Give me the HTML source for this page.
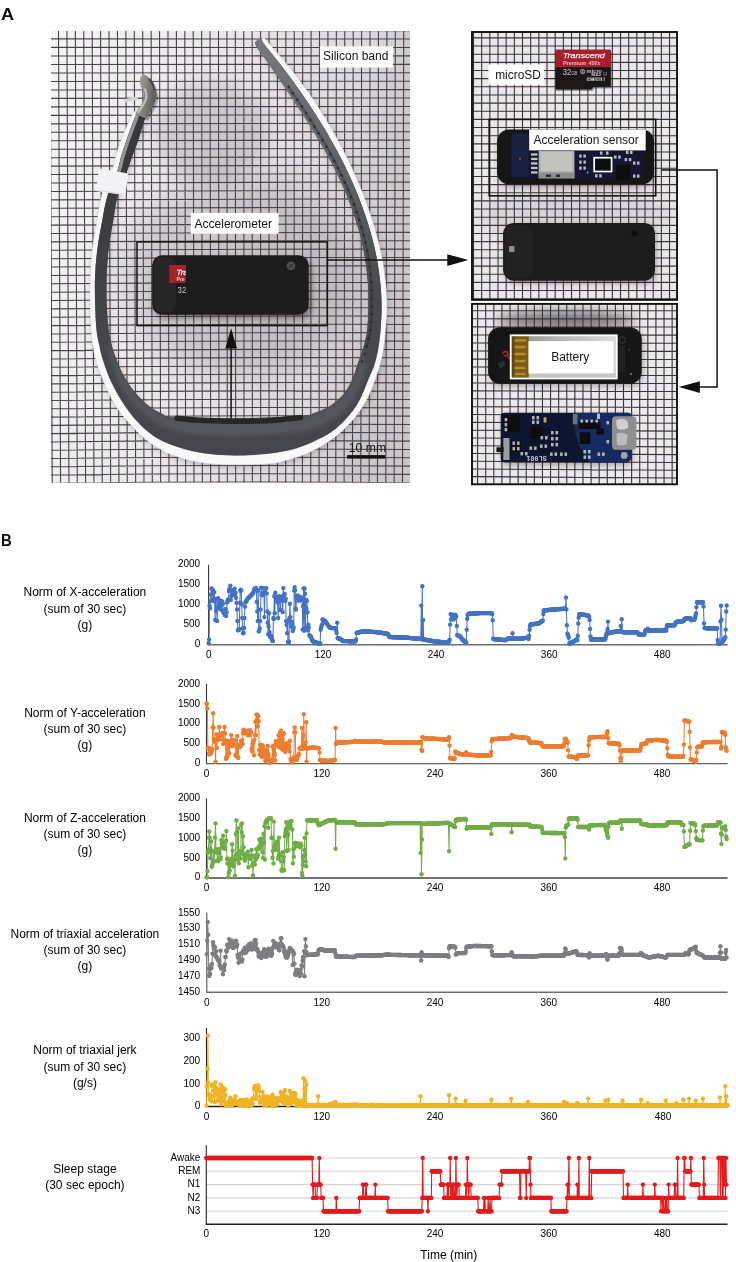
<!DOCTYPE html>
<html><head><meta charset="utf-8"><title>Figure</title>
<style>
html,body{margin:0;padding:0;background:#fff;}
body{width:736px;height:1262px;overflow:hidden;font-family:"Liberation Sans",sans-serif;}
svg{display:block;font-family:"Liberation Sans",sans-serif;}
</style></head><body>
<svg width="736" height="1262" viewBox="0 0 736 1262">
<rect width="736" height="1262" fill="#fff"/>
<text x="0.9" y="19.8" font-size="16.4" font-weight="bold" fill="#111" textLength="13.1" lengthAdjust="spacingAndGlyphs">A</text>
<text x="1.0" y="545.9" font-size="16.2" font-weight="bold" fill="#111" textLength="10.8" lengthAdjust="spacingAndGlyphs">B</text>
<defs><filter id="blur3" x="-20%" y="-20%" width="140%" height="140%"><feGaussianBlur stdDeviation="3.2"/></filter><filter id="blur1"><feGaussianBlur stdDeviation="0.7"/></filter><filter id="blur14" x="-40%" y="-40%" width="180%" height="180%"><feGaussianBlur stdDeviation="16"/></filter><filter id="soft" x="-2%" y="-2%" width="104%" height="104%"><feGaussianBlur stdDeviation="0.45"/></filter><filter id="blur2" x="-10%" y="-10%" width="120%" height="120%"><feGaussianBlur stdDeviation="2.2"/></filter><filter id="blur6" x="-30%" y="-100%" width="160%" height="300%"><feGaussianBlur stdDeviation="6"/></filter><filter id="blur8" x="-30%" y="-30%" width="160%" height="160%"><feGaussianBlur stdDeviation="9"/></filter><linearGradient id="bandg" x1="0" y1="0" x2="0" y2="1"><stop offset="0" stop-color="#62626b"/><stop offset="0.55" stop-color="#4d4d56"/><stop offset="1" stop-color="#3e3e46"/></linearGradient><linearGradient id="rstrap" gradientUnits="userSpaceOnUse" x1="0" y1="40" x2="0" y2="370"><stop offset="0" stop-color="#76767e"/><stop offset="0.33" stop-color="#65656d"/><stop offset="0.58" stop-color="#55555d"/><stop offset="0.8" stop-color="#47474f"/><stop offset="1" stop-color="#47474f" stop-opacity="0"/></linearGradient><linearGradient id="lstrap" gradientUnits="userSpaceOnUse" x1="0" y1="110" x2="0" y2="340"><stop offset="0" stop-color="#35353a"/><stop offset="0.6" stop-color="#3f3f46"/><stop offset="1" stop-color="#3f3f46" stop-opacity="0"/></linearGradient><linearGradient id="metal" x1="0" y1="0" x2="1" y2="0.35"><stop offset="0" stop-color="#b4b2ae"/><stop offset="0.45" stop-color="#8f8d8a"/><stop offset="1" stop-color="#5c5a58"/></linearGradient><linearGradient id="batTop" x1="0" y1="0" x2="1" y2="0"><stop offset="0" stop-color="#8e8e8c"/><stop offset="0.5" stop-color="#b9b9b8"/><stop offset="1" stop-color="#dcdcdc"/></linearGradient><linearGradient id="bgL" x1="0" y1="0" x2="1" y2="0.2"><stop offset="0" stop-color="#f5f3f7"/><stop offset="0.5" stop-color="#e9e6ea"/><stop offset="0.85" stop-color="#dcd8dc"/><stop offset="1" stop-color="#cbc7cb"/></linearGradient><clipPath id="cl"><rect x="51" y="31" width="359" height="451.7"/></clipPath><clipPath id="cr1"><rect x="472" y="32" width="205" height="268"/></clipPath><clipPath id="cr2"><rect x="472" y="304" width="205" height="180.5"/></clipPath></defs>
<g clip-path="url(#cl)"><g filter="url(#soft)">
<rect x="51" y="31" width="359" height="452" fill="url(#bgL)"/>
<ellipse cx="210" cy="132" rx="56" ry="50" fill="#000" opacity="0.12" filter="url(#blur8)"/>
<ellipse cx="238" cy="275" rx="118" ry="100" fill="#000" opacity="0.13" filter="url(#blur14)"/>
<path d="M50.08,31.0L52.25,482.7M58.50,31.0L60.59,482.7M66.92,31.0L68.93,482.7M75.34,31.0L77.27,482.7M83.76,31.0L85.61,482.7M92.18,31.0L93.94,482.7M100.60,31.0L102.28,482.7M109.02,31.0L110.62,482.7M117.44,31.0L118.96,482.7M125.86,31.0L127.30,482.7M134.28,31.0L135.64,482.7M142.70,31.0L143.98,482.7M151.12,31.0L152.32,482.7M159.54,31.0L160.66,482.7M167.96,31.0L169.00,482.7M176.38,31.0L177.34,482.7M184.80,31.0L185.67,482.7M193.22,31.0L194.01,482.7M201.64,31.0L202.35,482.7M210.06,31.0L210.69,482.7M218.48,31.0L219.03,482.7M226.90,31.0L227.37,482.7M235.32,31.0L235.71,482.7M243.74,31.0L244.05,482.7M252.16,31.0L252.39,482.7M260.58,31.0L260.73,482.7M269.00,31.0L269.06,482.7M277.42,31.0L277.40,482.7M285.84,31.0L285.74,482.7M294.26,31.0L294.08,482.7M302.68,31.0L302.42,482.7M311.10,31.0L310.76,482.7M319.52,31.0L319.10,482.7M327.94,31.0L327.44,482.7M336.36,31.0L335.78,482.7M344.78,31.0L344.12,482.7M353.20,31.0L352.45,482.7M361.62,31.0L360.79,482.7M370.04,31.0L369.13,482.7M378.46,31.0L377.47,482.7M386.88,31.0L385.81,482.7M395.30,31.0L394.15,482.7M403.72,31.0L402.49,482.7M412.14,31.0L410.83,482.7M51.0,30.38Q230.5,30.50 410.0,30.63M51.0,38.90Q230.5,38.98 410.0,39.06M51.0,47.42Q230.5,47.42 410.0,47.49M51.0,55.93Q230.5,55.86 410.0,55.92M51.0,64.44Q230.5,64.29 410.0,64.35M51.0,72.94Q230.5,72.72 410.0,72.78M51.0,81.44Q230.5,81.14 410.0,81.20M51.0,89.93Q230.5,89.57 410.0,89.62M51.0,98.41Q230.5,97.98 410.0,98.04M51.0,106.90Q230.5,106.40 410.0,106.45M51.0,115.37Q230.5,114.81 410.0,114.87M51.0,123.84Q230.5,123.21 410.0,123.28M51.0,132.31Q230.5,131.62 410.0,131.69M51.0,140.77Q230.5,140.02 410.0,140.09M51.0,149.23Q230.5,148.41 410.0,148.50M51.0,157.68Q230.5,156.80 410.0,156.90M51.0,166.12Q230.5,165.19 410.0,165.30M51.0,174.56Q230.5,173.57 410.0,173.69M51.0,183.00Q230.5,181.95 410.0,182.09M51.0,191.43Q230.5,190.33 410.0,190.48M51.0,199.85Q230.5,198.70 410.0,198.87M51.0,208.27Q230.5,207.07 410.0,207.26M51.0,216.69Q230.5,215.44 410.0,215.64M51.0,225.10Q230.5,223.80 410.0,224.02M51.0,233.50Q230.5,232.16 410.0,232.40M51.0,241.90Q230.5,240.51 410.0,240.78M51.0,250.29Q230.5,248.86 410.0,249.16M51.0,258.68Q230.5,257.21 410.0,257.53M51.0,267.07Q230.5,265.55 410.0,265.90M51.0,275.45Q230.5,273.89 410.0,274.27M51.0,283.82Q230.5,282.22 410.0,282.63M51.0,292.19Q230.5,290.55 410.0,291.00M51.0,300.55Q230.5,298.88 410.0,299.36M51.0,308.91Q230.5,307.21 410.0,307.72M51.0,317.26Q230.5,315.53 410.0,316.08M51.0,325.61Q230.5,323.84 410.0,324.43M51.0,333.95Q230.5,332.15 410.0,332.78M51.0,342.29Q230.5,340.46 410.0,341.13M51.0,350.62Q230.5,348.77 410.0,349.48M51.0,358.95Q230.5,357.07 410.0,357.82M51.0,367.27Q230.5,365.37 410.0,366.16M51.0,375.59Q230.5,373.66 410.0,374.50M51.0,383.90Q230.5,381.95 410.0,382.84M51.0,392.21Q230.5,390.24 410.0,391.18M51.0,400.51Q230.5,398.52 410.0,399.51M51.0,408.80Q230.5,406.80 410.0,407.84M51.0,417.10Q230.5,415.07 410.0,416.17M51.0,425.38Q230.5,423.35 410.0,424.49M51.0,433.66Q230.5,431.61 410.0,432.82M51.0,441.94Q230.5,439.88 410.0,441.14M51.0,450.21Q230.5,448.14 410.0,449.46M51.0,458.47Q230.5,456.39 410.0,457.77M51.0,466.74Q230.5,464.65 410.0,466.09M51.0,474.99Q230.5,472.89 410.0,474.40M51.0,483.24Q230.5,481.14 410.0,482.71" stroke="#4c4248" stroke-width="1.1" fill="none"/>
<path d="M148.2,113.5C147.6,114.4 146.5,114.6 144.9,118.8C143.3,123.0 140.9,132.1 138.8,138.4C136.7,144.7 133.9,151.6 132.1,156.7C130.3,161.8 130.2,162.3 127.8,168.9C125.4,175.5 120.0,187.7 117.6,196.3C115.2,205.0 114.7,212.2 113.2,220.8C111.7,229.4 109.8,238.8 108.7,247.9C107.6,256.9 107.0,266.0 106.7,275.1C106.4,284.2 106.4,293.2 106.7,302.3C107.0,311.4 107.9,322.4 108.7,329.5C109.5,336.6 110.7,340.5 111.8,345.0C112.9,349.5 113.3,351.2 115.3,356.3C117.2,361.4 120.3,369.4 123.5,375.3C126.7,381.2 130.2,386.6 134.3,391.6C138.4,396.6 143.4,401.6 147.9,405.2C152.4,408.8 157.0,411.4 161.5,413.4C166.0,415.4 163.3,416.5 175.1,417.4C186.8,418.2 210.9,418.8 232.0,418.5C253.1,418.2 288.1,416.6 301.8,415.7C315.5,414.8 309.5,414.6 314.2,413.0C318.9,411.4 325.0,409.2 330.0,406.0C335.0,402.8 340.4,398.3 344.2,393.6C348.0,388.9 350.9,382.3 353.0,377.7C355.1,373.1 355.3,370.7 356.9,366.0C358.5,361.3 361.0,355.1 362.6,349.7C364.2,344.3 365.8,338.8 366.7,333.4C367.6,328.0 367.8,322.5 368.1,317.1C368.4,311.7 368.5,306.2 368.5,300.8C368.5,295.4 368.4,290.5 368.0,284.5C367.6,278.5 366.9,271.0 366.0,264.9C365.2,258.8 364.2,253.4 363.1,247.8C362.0,242.2 360.7,236.9 359.2,231.5C357.7,226.1 356.0,220.6 354.2,215.2C352.4,209.8 350.4,204.3 348.2,198.9C346.0,193.5 343.7,188.0 341.2,182.6C338.7,177.2 336.1,171.7 333.3,166.3C330.5,160.9 328.2,156.4 324.5,150.0C320.8,143.6 315.5,134.5 311.2,127.6C307.0,120.7 302.1,113.3 299.0,108.5C295.9,103.7 294.7,101.9 292.4,98.5C290.1,95.1 288.2,92.3 285.3,88.0C282.4,83.7 278.3,77.7 274.9,72.8C271.5,67.9 268.3,63.2 265.1,58.5C261.8,53.8 256.4,47.6 255.5,44.3C254.5,41.0 258.7,39.7 259.3,38.8L263.8,37.3C264.8,38.5 266.5,40.8 269.5,44.3C272.5,47.8 278.0,53.8 282.0,58.5C286.0,63.2 289.8,67.9 293.7,72.8C297.5,77.7 301.9,83.7 305.1,88.0C308.2,92.3 310.1,95.1 312.4,98.5C314.8,101.9 316.0,103.7 319.1,108.5C322.1,113.3 326.8,120.7 330.8,127.6C334.8,134.5 339.7,143.6 343.1,150.0C346.4,156.4 348.5,160.9 351.1,166.3C353.6,171.7 356.0,177.2 358.3,182.6C360.6,188.0 362.8,193.5 364.8,198.9C366.9,204.3 368.8,209.8 370.6,215.2C372.4,220.6 374.1,226.1 375.6,231.5C377.1,236.9 378.5,242.2 379.8,247.8C381.0,253.4 382.2,258.8 383.2,264.9C384.2,271.0 385.2,278.5 385.8,284.5C386.5,290.5 386.7,295.4 386.9,300.8C387.0,306.2 387.0,311.7 386.7,317.1C386.4,322.5 385.7,328.0 385.2,333.4C384.6,338.8 384.2,344.3 383.3,349.7C382.4,355.1 381.0,361.3 379.7,366.0C378.4,370.7 377.5,372.8 375.7,377.7C373.9,382.6 371.9,389.4 369.0,395.3C366.1,401.2 362.4,407.4 358.3,413.0C354.2,418.6 349.5,423.9 344.2,428.9C338.9,433.9 333.0,438.8 326.5,443.0C320.0,447.2 312.4,451.2 305.3,454.2C298.2,457.2 290.0,459.3 284.1,460.9C278.2,462.5 278.6,463.0 270.0,463.7C261.4,464.4 243.5,465.0 232.2,464.8C220.9,464.6 211.8,464.1 202.3,462.7C192.8,461.2 183.7,459.3 175.1,456.1C166.5,452.9 158.2,448.6 150.7,443.3C143.2,438.0 136.2,430.6 130.3,424.2C124.4,417.8 119.6,412.0 115.3,405.2C111.0,398.4 107.7,390.8 104.5,383.5C101.3,376.2 98.3,368.3 96.3,361.7C94.3,355.1 93.5,349.4 92.6,344.0C91.7,338.6 91.5,336.4 91.1,329.5C90.7,322.6 90.2,311.4 90.1,302.3C90.0,293.2 90.0,284.2 90.4,275.1C90.8,266.0 91.3,256.9 92.4,247.9C93.5,238.8 95.7,229.4 97.2,220.8C98.7,212.2 99.0,205.0 101.5,196.3C104.0,187.7 110.2,175.5 112.5,168.9C114.8,162.3 114.1,161.8 115.6,156.7C117.1,151.6 119.3,144.7 121.7,138.4C124.1,132.1 128.2,123.3 130.2,118.8C132.2,114.3 133.0,112.7 133.6,111.5Z" fill="#000" opacity="0.20" transform="translate(1.5,2.5)" filter="url(#blur3)"/>
<path d="M133.6,111.5C133.0,112.7 132.2,114.3 130.2,118.8C128.2,123.3 124.1,132.1 121.7,138.4C119.3,144.7 117.1,151.6 115.6,156.7C114.1,161.8 114.8,162.3 112.5,168.9C110.2,175.5 104.0,187.7 101.5,196.3C99.0,205.0 98.7,212.2 97.2,220.8C95.7,229.4 93.5,238.8 92.4,247.9C91.3,256.9 90.8,266.0 90.4,275.1C90.0,284.2 90.0,293.2 90.1,302.3C90.2,311.4 90.7,322.6 91.1,329.5C91.5,336.4 91.7,338.6 92.6,344.0C93.5,349.4 94.3,355.1 96.3,361.7C98.3,368.3 101.3,376.2 104.5,383.5C107.7,390.8 111.0,398.4 115.3,405.2C119.6,412.0 124.4,417.8 130.3,424.2C136.2,430.6 143.2,438.0 150.7,443.3C158.2,448.6 166.5,452.9 175.1,456.1C183.7,459.3 192.8,461.2 202.3,462.7C211.8,464.1 220.9,464.6 232.2,464.8C243.5,465.0 261.4,464.4 270.0,463.7C278.6,463.0 278.2,462.5 284.1,460.9C290.0,459.3 298.2,457.2 305.3,454.2C312.4,451.2 320.0,447.2 326.5,443.0C333.0,438.8 338.9,433.9 344.2,428.9C349.5,423.9 354.2,418.6 358.3,413.0C362.4,407.4 366.1,401.2 369.0,395.3C371.9,389.4 373.9,382.6 375.7,377.7C377.5,372.8 378.4,370.7 379.7,366.0C381.0,361.3 382.4,355.1 383.3,349.7C384.2,344.3 384.6,338.8 385.2,333.4C385.7,328.0 386.4,322.5 386.7,317.1C387.0,311.7 387.0,306.2 386.9,300.8C386.7,295.4 386.5,290.5 385.8,284.5C385.2,278.5 384.2,271.0 383.2,264.9C382.2,258.8 381.0,253.4 379.8,247.8C378.5,242.2 377.1,236.9 375.6,231.5C374.1,226.1 372.4,220.6 370.6,215.2C368.8,209.8 366.9,204.3 364.8,198.9C362.8,193.5 360.6,188.0 358.3,182.6C356.0,177.2 353.6,171.7 351.1,166.3C348.5,160.9 346.4,156.4 343.1,150.0C339.7,143.6 334.8,134.5 330.8,127.6C326.8,120.7 322.1,113.3 319.1,108.5C316.0,103.7 314.8,101.9 312.4,98.5C310.1,95.1 308.2,92.3 305.1,88.0C301.9,83.7 297.5,77.7 293.7,72.8C289.8,67.9 286.0,63.2 282.0,58.5C278.0,53.8 272.5,47.8 269.5,44.3C266.5,40.8 264.8,38.5 263.8,37.3L261.6,39.3C262.0,40.1 261.8,41.1 264.2,44.3C266.5,47.5 271.9,53.8 275.6,58.5C279.4,63.2 283.0,67.9 286.7,72.8C290.3,77.7 294.7,83.7 297.8,88.0C300.8,92.3 302.7,95.1 305.1,98.5C307.4,101.9 308.7,103.7 311.8,108.5C314.9,113.3 319.6,120.7 323.8,127.6C327.9,134.5 333.0,143.6 336.5,150.0C340.1,156.4 342.3,160.9 344.9,166.3C347.6,171.7 350.1,177.2 352.5,182.6C354.9,188.0 357.2,193.5 359.3,198.9C361.4,204.3 363.4,209.8 365.2,215.2C367.1,220.6 368.8,226.1 370.3,231.5C371.8,236.9 373.2,242.2 374.5,247.8C375.7,253.4 376.9,258.8 377.9,264.9C378.8,271.0 379.8,278.5 380.4,284.5C381.0,290.5 381.3,295.4 381.4,300.8C381.6,306.2 381.5,311.7 381.3,317.1C381.1,322.5 380.7,328.0 380.2,333.4C379.6,338.8 379.0,344.3 378.0,349.7C377.0,355.1 375.5,361.3 374.0,366.0C372.5,370.7 371.3,372.2 369.0,377.7C366.7,383.2 363.4,392.7 360.1,398.9C356.9,405.1 353.6,409.8 349.5,414.8C345.4,419.8 340.7,424.8 335.4,428.9C330.1,433.0 324.2,436.3 317.7,439.5C311.2,442.7 304.4,445.9 296.5,448.3C288.6,450.7 279.8,452.4 270.0,453.6C260.2,454.8 247.5,455.4 237.6,455.5C227.7,455.6 219.4,455.2 210.4,454.1C201.4,453.0 191.9,451.2 183.3,448.7C174.7,446.2 166.1,443.3 158.8,439.2C151.6,435.1 145.5,429.9 139.8,424.2C134.1,418.5 129.1,412.0 124.5,405.2C119.9,398.4 115.5,390.8 112.0,383.5C108.5,376.2 105.7,368.3 103.5,361.7C101.3,355.1 100.2,349.4 99.0,344.0C97.8,338.6 97.2,336.4 96.5,329.5C95.8,322.6 95.3,311.4 95.1,302.3C94.9,293.2 94.7,284.2 95.1,275.1C95.5,266.0 96.4,256.9 97.6,247.9C98.8,238.8 100.7,229.4 102.3,220.8C103.9,212.2 104.8,205.0 107.4,196.3C110.0,187.7 115.7,175.5 118.0,168.9C120.3,162.3 119.6,161.8 121.1,156.7C122.6,151.6 125.0,144.7 127.2,138.4C129.4,132.1 132.8,123.2 134.5,118.8C136.2,114.4 137.1,113.1 137.6,112.0Z" fill="#f8f8fb" stroke="#d4d4da" stroke-width="0.5"/>
<clipPath id="cgray"><path d="M137.6,112.0C137.1,113.1 136.2,114.4 134.5,118.8C132.8,123.2 129.4,132.1 127.2,138.4C125.0,144.7 122.6,151.6 121.1,156.7C119.6,161.8 120.3,162.3 118.0,168.9C115.7,175.5 110.0,187.7 107.4,196.3C104.8,205.0 103.9,212.2 102.3,220.8C100.7,229.4 98.8,238.8 97.6,247.9C96.4,256.9 95.5,266.0 95.1,275.1C94.7,284.2 94.9,293.2 95.1,302.3C95.3,311.4 95.8,322.6 96.5,329.5C97.2,336.4 97.8,338.6 99.0,344.0C100.2,349.4 101.3,355.1 103.5,361.7C105.7,368.3 108.5,376.2 112.0,383.5C115.5,390.8 119.9,398.4 124.5,405.2C129.1,412.0 134.1,418.5 139.8,424.2C145.5,429.9 151.6,435.1 158.8,439.2C166.1,443.3 174.7,446.2 183.3,448.7C191.9,451.2 201.4,453.0 210.4,454.1C219.4,455.2 227.7,455.6 237.6,455.5C247.5,455.4 260.2,454.8 270.0,453.6C279.8,452.4 288.6,450.7 296.5,448.3C304.4,445.9 311.2,442.7 317.7,439.5C324.2,436.3 330.1,433.0 335.4,428.9C340.7,424.8 345.4,419.8 349.5,414.8C353.6,409.8 356.9,405.1 360.1,398.9C363.4,392.7 366.7,383.2 369.0,377.7C371.3,372.2 372.5,370.7 374.0,366.0C375.5,361.3 377.0,355.1 378.0,349.7C379.0,344.3 379.6,338.8 380.2,333.4C380.7,328.0 381.1,322.5 381.3,317.1C381.5,311.7 381.6,306.2 381.4,300.8C381.3,295.4 381.0,290.5 380.4,284.5C379.8,278.5 378.8,271.0 377.9,264.9C376.9,258.8 375.7,253.4 374.5,247.8C373.2,242.2 371.8,236.9 370.3,231.5C368.8,226.1 367.1,220.6 365.2,215.2C363.4,209.8 361.4,204.3 359.3,198.9C357.2,193.5 354.9,188.0 352.5,182.6C350.1,177.2 347.6,171.7 344.9,166.3C342.3,160.9 340.1,156.4 336.5,150.0C333.0,143.6 327.9,134.5 323.8,127.6C319.6,120.7 314.9,113.3 311.8,108.5C308.7,103.7 307.4,101.9 305.1,98.5C302.7,95.1 300.8,92.3 297.8,88.0C294.7,83.7 290.3,77.7 286.7,72.8C283.0,67.9 279.4,63.2 275.6,58.5C271.9,53.8 266.5,47.5 264.2,44.3C261.8,41.1 262.0,40.1 261.6,39.3L259.3,38.8C258.7,39.7 254.5,41.0 255.5,44.3C256.4,47.6 261.8,53.8 265.1,58.5C268.3,63.2 271.5,67.9 274.9,72.8C278.3,77.7 282.4,83.7 285.3,88.0C288.2,92.3 290.1,95.1 292.4,98.5C294.7,101.9 295.9,103.7 299.0,108.5C302.1,113.3 307.0,120.7 311.2,127.6C315.5,134.5 320.8,143.6 324.5,150.0C328.2,156.4 330.5,160.9 333.3,166.3C336.1,171.7 338.7,177.2 341.2,182.6C343.7,188.0 346.0,193.5 348.2,198.9C350.4,204.3 352.4,209.8 354.2,215.2C356.0,220.6 357.7,226.1 359.2,231.5C360.7,236.9 362.0,242.2 363.1,247.8C364.2,253.4 365.2,258.8 366.0,264.9C366.9,271.0 367.6,278.5 368.0,284.5C368.4,290.5 368.5,295.4 368.5,300.8C368.5,306.2 368.4,311.7 368.1,317.1C367.8,322.5 367.6,328.0 366.7,333.4C365.8,338.8 364.2,344.3 362.6,349.7C361.0,355.1 358.5,361.3 356.9,366.0C355.3,370.7 355.1,373.1 353.0,377.7C350.9,382.3 348.0,388.9 344.2,393.6C340.4,398.3 335.0,402.8 330.0,406.0C325.0,409.2 318.9,411.4 314.2,413.0C309.5,414.6 315.5,414.8 301.8,415.7C288.1,416.6 253.1,418.2 232.0,418.5C210.9,418.8 186.8,418.2 175.1,417.4C163.3,416.5 166.0,415.4 161.5,413.4C157.0,411.4 152.4,408.8 147.9,405.2C143.4,401.6 138.4,396.6 134.3,391.6C130.2,386.6 126.7,381.2 123.5,375.3C120.3,369.4 117.2,361.4 115.3,356.3C113.3,351.2 112.9,349.5 111.8,345.0C110.7,340.5 109.5,336.6 108.7,329.5C107.9,322.4 107.0,311.4 106.7,302.3C106.4,293.2 106.4,284.2 106.7,275.1C107.0,266.0 107.6,256.9 108.7,247.9C109.8,238.8 111.7,229.4 113.2,220.8C114.7,212.2 115.2,205.0 117.6,196.3C120.0,187.7 125.4,175.5 127.8,168.9C130.2,162.3 130.3,161.8 132.1,156.7C133.9,151.6 136.7,144.7 138.8,138.4C140.9,132.1 143.3,123.0 144.9,118.8C146.5,114.6 147.6,114.4 148.2,113.5Z"/></clipPath>
<path d="M137.6,112.0C137.1,113.1 136.2,114.4 134.5,118.8C132.8,123.2 129.4,132.1 127.2,138.4C125.0,144.7 122.6,151.6 121.1,156.7C119.6,161.8 120.3,162.3 118.0,168.9C115.7,175.5 110.0,187.7 107.4,196.3C104.8,205.0 103.9,212.2 102.3,220.8C100.7,229.4 98.8,238.8 97.6,247.9C96.4,256.9 95.5,266.0 95.1,275.1C94.7,284.2 94.9,293.2 95.1,302.3C95.3,311.4 95.8,322.6 96.5,329.5C97.2,336.4 97.8,338.6 99.0,344.0C100.2,349.4 101.3,355.1 103.5,361.7C105.7,368.3 108.5,376.2 112.0,383.5C115.5,390.8 119.9,398.4 124.5,405.2C129.1,412.0 134.1,418.5 139.8,424.2C145.5,429.9 151.6,435.1 158.8,439.2C166.1,443.3 174.7,446.2 183.3,448.7C191.9,451.2 201.4,453.0 210.4,454.1C219.4,455.2 227.7,455.6 237.6,455.5C247.5,455.4 260.2,454.8 270.0,453.6C279.8,452.4 288.6,450.7 296.5,448.3C304.4,445.9 311.2,442.7 317.7,439.5C324.2,436.3 330.1,433.0 335.4,428.9C340.7,424.8 345.4,419.8 349.5,414.8C353.6,409.8 356.9,405.1 360.1,398.9C363.4,392.7 366.7,383.2 369.0,377.7C371.3,372.2 372.5,370.7 374.0,366.0C375.5,361.3 377.0,355.1 378.0,349.7C379.0,344.3 379.6,338.8 380.2,333.4C380.7,328.0 381.1,322.5 381.3,317.1C381.5,311.7 381.6,306.2 381.4,300.8C381.3,295.4 381.0,290.5 380.4,284.5C379.8,278.5 378.8,271.0 377.9,264.9C376.9,258.8 375.7,253.4 374.5,247.8C373.2,242.2 371.8,236.9 370.3,231.5C368.8,226.1 367.1,220.6 365.2,215.2C363.4,209.8 361.4,204.3 359.3,198.9C357.2,193.5 354.9,188.0 352.5,182.6C350.1,177.2 347.6,171.7 344.9,166.3C342.3,160.9 340.1,156.4 336.5,150.0C333.0,143.6 327.9,134.5 323.8,127.6C319.6,120.7 314.9,113.3 311.8,108.5C308.7,103.7 307.4,101.9 305.1,98.5C302.7,95.1 300.8,92.3 297.8,88.0C294.7,83.7 290.3,77.7 286.7,72.8C283.0,67.9 279.4,63.2 275.6,58.5C271.9,53.8 266.5,47.5 264.2,44.3C261.8,41.1 262.0,40.1 261.6,39.3L259.3,38.8C258.7,39.7 254.5,41.0 255.5,44.3C256.4,47.6 261.8,53.8 265.1,58.5C268.3,63.2 271.5,67.9 274.9,72.8C278.3,77.7 282.4,83.7 285.3,88.0C288.2,92.3 290.1,95.1 292.4,98.5C294.7,101.9 295.9,103.7 299.0,108.5C302.1,113.3 307.0,120.7 311.2,127.6C315.5,134.5 320.8,143.6 324.5,150.0C328.2,156.4 330.5,160.9 333.3,166.3C336.1,171.7 338.7,177.2 341.2,182.6C343.7,188.0 346.0,193.5 348.2,198.9C350.4,204.3 352.4,209.8 354.2,215.2C356.0,220.6 357.7,226.1 359.2,231.5C360.7,236.9 362.0,242.2 363.1,247.8C364.2,253.4 365.2,258.8 366.0,264.9C366.9,271.0 367.6,278.5 368.0,284.5C368.4,290.5 368.5,295.4 368.5,300.8C368.5,306.2 368.4,311.7 368.1,317.1C367.8,322.5 367.6,328.0 366.7,333.4C365.8,338.8 364.2,344.3 362.6,349.7C361.0,355.1 358.5,361.3 356.9,366.0C355.3,370.7 355.1,373.1 353.0,377.7C350.9,382.3 348.0,388.9 344.2,393.6C340.4,398.3 335.0,402.8 330.0,406.0C325.0,409.2 318.9,411.4 314.2,413.0C309.5,414.6 315.5,414.8 301.8,415.7C288.1,416.6 253.1,418.2 232.0,418.5C210.9,418.8 186.8,418.2 175.1,417.4C163.3,416.5 166.0,415.4 161.5,413.4C157.0,411.4 152.4,408.8 147.9,405.2C143.4,401.6 138.4,396.6 134.3,391.6C130.2,386.6 126.7,381.2 123.5,375.3C120.3,369.4 117.2,361.4 115.3,356.3C113.3,351.2 112.9,349.5 111.8,345.0C110.7,340.5 109.5,336.6 108.7,329.5C107.9,322.4 107.0,311.4 106.7,302.3C106.4,293.2 106.4,284.2 106.7,275.1C107.0,266.0 107.6,256.9 108.7,247.9C109.8,238.8 111.7,229.4 113.2,220.8C114.7,212.2 115.2,205.0 117.6,196.3C120.0,187.7 125.4,175.5 127.8,168.9C130.2,162.3 130.3,161.8 132.1,156.7C133.9,151.6 136.7,144.7 138.8,138.4C140.9,132.1 143.3,123.0 144.9,118.8C146.5,114.6 147.6,114.4 148.2,113.5Z" fill="#45454d"/>
<path d="M108.5,345.0C108.7,346.9 107.9,349.4 109.9,356.3C112.0,363.2 116.3,377.6 120.8,386.2C125.3,394.8 130.8,401.6 137.1,407.9C143.4,414.2 150.2,419.9 158.8,424.2C167.4,428.5 176.5,431.8 188.7,433.8C200.9,435.9 217.0,436.5 232.2,436.5C247.4,436.5 266.3,435.1 280.0,433.8C293.7,432.5 304.7,431.8 314.2,428.9C323.7,426.0 330.6,421.2 337.1,416.5C343.6,411.8 348.6,407.1 353.0,400.6C357.4,394.1 361.3,383.8 363.6,377.7C365.9,371.6 366.4,366.3 367.0,364.0L362.6,349.7C361.7,352.4 358.5,361.3 356.9,366.0C355.3,370.7 355.1,373.1 353.0,377.7C350.9,382.3 348.0,388.9 344.2,393.6C340.4,398.3 335.0,402.8 330.0,406.0C325.0,409.2 318.9,411.4 314.2,413.0C309.5,414.6 315.5,414.8 301.8,415.7C288.1,416.6 253.1,418.2 232.0,418.5C210.9,418.8 186.8,418.2 175.1,417.4C163.3,416.5 166.0,415.4 161.5,413.4C157.0,411.4 152.4,408.8 147.9,405.2C143.4,401.6 138.4,396.6 134.3,391.6C130.2,386.6 126.7,381.2 123.5,375.3C120.3,369.4 117.2,361.4 115.3,356.3C113.3,351.2 112.4,346.9 111.8,345.0Z" fill="#55555d" clip-path="url(#cgray)" filter="url(#blur2)"/>
<g clip-path="url(#cgray)"><rect x="250" y="30" width="150" height="340" fill="url(#rstrap)"/><rect x="85" y="110" width="65" height="230" fill="url(#lstrap)"/></g>
<path d="M139.2,112.0C138.7,113.1 137.8,114.4 136.1,118.8C134.4,123.2 131.0,132.1 128.8,138.4C126.6,144.7 124.2,151.6 122.7,156.7C121.2,161.8 121.2,164.5 119.6,168.9C118.0,173.3 114.3,180.7 113.2,183.0" fill="none" stroke="#b4b4ba" stroke-width="3.6" opacity="0.75" clip-path="url(#cgray)" filter="url(#blur1)"/>
<path d="M366.0,348.7C366.7,346.0 369.2,337.8 370.1,332.4C371.0,327.0 371.2,321.5 371.5,316.1C371.8,310.7 371.9,305.2 371.9,299.8C371.9,294.4 371.8,289.5 371.4,283.5C371.0,277.5 370.3,270.0 369.4,263.9C368.6,257.8 367.6,252.4 366.5,246.8C365.4,241.2 364.1,235.9 362.6,230.5C361.1,225.1 359.4,219.6 357.6,214.2C355.8,208.8 353.8,203.3 351.6,197.9C349.4,192.5 347.1,187.0 344.6,181.6C342.1,176.2 339.5,170.7 336.7,165.3C333.9,159.9 331.6,155.4 327.9,149.0C324.2,142.6 318.9,133.5 314.6,126.6C310.4,119.7 305.5,112.3 302.4,107.5C299.3,102.7 298.1,100.9 295.8,97.5C293.5,94.1 289.9,88.8 288.7,87.0" fill="none" stroke="#34343b" stroke-width="2.6" opacity="0.45"/>
<path d="M177.0,418.3C180.8,418.6 190.8,419.8 200.0,420.3C209.2,420.8 220.3,421.1 232.0,421.2C243.7,421.2 258.6,421.2 270.0,420.6C281.4,420.0 295.4,418.1 300.5,417.6" fill="none" stroke="#25252b" stroke-width="5.4" stroke-linecap="round"/>
<g fill="#2a2a31"><circle cx="362.1" cy="361.5" r="1.2"/><circle cx="364.7" cy="354.0" r="1.2"/><circle cx="367.0" cy="346.1" r="1.2"/><circle cx="368.9" cy="338.5" r="1.2"/><circle cx="370.4" cy="330.2" r="1.2"/><circle cx="371.0" cy="322.3" r="1.2"/><circle cx="371.5" cy="314.2" r="1.2"/><circle cx="371.8" cy="306.3" r="1.2"/><circle cx="371.8" cy="298.2" r="1.2"/><circle cx="371.6" cy="290.3" r="1.2"/><circle cx="371.2" cy="282.2" r="1.2"/><circle cx="370.4" cy="274.4" r="1.2"/><circle cx="369.6" cy="266.5" r="1.2"/><circle cx="368.4" cy="258.5" r="1.2"/><circle cx="367.0" cy="250.7" r="1.2"/><circle cx="365.4" cy="242.7" r="1.2"/><circle cx="363.5" cy="235.0" r="1.2"/><circle cx="361.4" cy="227.2" r="1.2"/><circle cx="359.1" cy="219.7" r="1.2"/><circle cx="356.6" cy="212.0" r="1.2"/><circle cx="353.9" cy="204.5" r="1.2"/><circle cx="351.1" cy="197.0" r="1.2"/><circle cx="348.0" cy="189.7" r="1.2"/><circle cx="344.8" cy="182.5" r="1.2"/><circle cx="341.4" cy="175.2" r="1.2"/><circle cx="337.9" cy="168.1" r="1.2"/><circle cx="334.2" cy="160.9" r="1.2"/><circle cx="330.5" cy="154.0" r="1.2"/><circle cx="326.6" cy="146.9" r="1.2"/><circle cx="322.6" cy="140.1" r="1.2"/><circle cx="318.6" cy="133.3" r="1.2"/><circle cx="314.5" cy="126.6" r="1.2"/><circle cx="310.2" cy="119.8" r="1.2"/><circle cx="306.0" cy="113.1" r="1.2"/><circle cx="301.7" cy="106.4" r="1.2"/><circle cx="297.3" cy="99.8" r="1.2"/><circle cx="292.9" cy="93.3" r="1.2"/><circle cx="288.5" cy="86.7" r="1.2"/></g>
<path d="M100.6,170.4L126.6,175L123.8,193.4L97.8,189.6Z" fill="#f3f3f5" stroke="#f3f3f5" stroke-width="3.4" stroke-linejoin="round"/>
<path d="M97.4,190.6L122.6,194" stroke="#cfcfd4" stroke-width="1.2" fill="none" opacity="0.8"/>
<path d="M126,100.6 L136,98.6" stroke="#d6d4d0" stroke-width="3.6" stroke-linecap="round" fill="none"/>
<path d="M135.1,113.9C138,109 141.5,104.5 142.5,101.7C144,98 144.2,95.5 143.7,93.1C143,90 141,88 140.6,85.8C140,83 139.6,80.5 140,78.5C140.5,76 142,74.6 143.8,74.4C145.5,74.3 148.5,76.5 151,79.7C153.5,83 154.3,86 154.7,88.2C155.8,91 156.8,93 156.5,95.6C156,99.5 155,102.5 153.5,105.4C151.5,109.5 149,114 146.1,118.8Z" fill="#000" opacity="0.3" transform="translate(2,2)" filter="url(#blur1)"/>
<path d="M135.1,113.9C138,109 141.5,104.5 142.5,101.7C144,98 144.2,95.5 143.7,93.1C143,90 141,88 140.6,85.8C140,83 139.6,80.5 140,78.5C140.5,76 142,74.6 143.8,74.4C145.5,74.3 148.5,76.5 151,79.7C153.5,83 154.3,86 154.7,88.2C155.8,91 156.8,93 156.5,95.6C156,99.5 155,102.5 153.5,105.4C151.5,109.5 149,114 146.1,118.8Z" fill="url(#metal)"/>
<path d="M138.5,112C141.5,107 145,102.5 146,99C147,95.5 146,92 145,89.5" fill="none" stroke="#c9c7c3" stroke-width="2.2" stroke-linecap="round" opacity="0.9"/>
<path d="M149.5,79.5C152.5,83 154,87 154.6,90" fill="none" stroke="#3f3d3c" stroke-width="2" stroke-linecap="round" opacity="0.8"/>
<rect x="152" y="256" width="158" height="60" rx="10" fill="#000" opacity="0.35" filter="url(#blur3)" transform="translate(2,3)"/>
<rect x="152.2" y="255.3" width="156.5" height="59.4" rx="10" fill="#1e1c1b"/>
<rect x="154" y="257" width="22" height="55.5" rx="8" fill="#262525"/>
<clipPath id="cslot"><rect x="160" y="258" width="25.8" height="50"/></clipPath>
<g clip-path="url(#cslot)">
<rect x="169.3" y="265" width="20" height="17.9" fill="#a4222b"/>
<text x="176.4" y="274.6" font-size="8" font-style="italic" fill="#f6eaea" stroke="#f6eaea" stroke-width="0.3">Tra</text>
<text x="176.6" y="280.6" font-size="5" font-weight="bold" fill="#efc6c9">Pre</text>
<text x="177.6" y="292.6" font-size="9.4" fill="#c9c9d2" textLength="8.6" lengthAdjust="spacingAndGlyphs">32</text>
</g>
<circle cx="291" cy="265.8" r="4.4" fill="#4f4d4b"/>
<path d="M288.8,263.6l4.4,4.4m0,-4.4l-4.4,4.4" stroke="#2a2827" stroke-width="1"/>
</g></g>
<rect x="137" y="241.9" width="190.2" height="83.7" fill="none" stroke="#111" stroke-width="1.5"/>
<rect x="190.7" y="212.9" width="87.8" height="20.9" fill="#fff"/><text x="194.6" y="227.5" font-size="12" fill="#111">Accelerometer</text>
<rect x="319.9" y="46.3" width="73.1" height="21.2" fill="#fff"/><text x="323.0" y="59.5" font-size="12" fill="#111">Silicon band</text>
<path d="M327.5,260.1H448" stroke="#111" stroke-width="1.5" fill="none"/>
<path d="M468.3,260.1L447.3,254.3V265.9Z" fill="#111"/>
<path d="M231.1,418.5V347" stroke="#111" stroke-width="1.5" fill="none"/>
<path d="M231.1,328.3L225.3,348.6H236.9Z" fill="#111"/>
<text x="348.8" y="451.8" font-size="12.2" fill="#111">10 mm</text>
<rect x="347.1" y="455.1" width="38.2" height="3.5" fill="#111"/>
<g clip-path="url(#cr1)"><g filter="url(#soft)">
<rect x="472" y="32" width="205" height="268" fill="#ebe8eb"/>
<ellipse cx="575" cy="215" rx="95" ry="30" fill="#000" opacity="0.08" filter="url(#blur8)"/>
<path d="M473.50,32.0V300.0M481.67,32.0V300.0M489.84,32.0V300.0M498.01,32.0V300.0M506.17,32.0V300.0M514.34,32.0V300.0M522.51,32.0V300.0M530.68,32.0V300.0M538.85,32.0V300.0M547.01,32.0V300.0M555.18,32.0V300.0M563.35,32.0V300.0M571.52,32.0V300.0M579.69,32.0V300.0M587.85,32.0V300.0M596.02,32.0V300.0M604.19,32.0V300.0M612.36,32.0V300.0M620.53,32.0V300.0M628.69,32.0V300.0M636.86,32.0V300.0M645.03,32.0V300.0M653.20,32.0V300.0M661.37,32.0V300.0M669.53,32.0V300.0M472.0,37.90L677.0,37.90M472.0,46.05L677.0,46.05M472.0,54.20L677.0,54.20M472.0,62.35L677.0,62.35M472.0,70.50L677.0,70.50M472.0,78.65L677.0,78.65M472.0,86.80L677.0,86.80M472.0,94.95L677.0,94.95M472.0,103.10L677.0,103.10M472.0,111.25L677.0,111.25M472.0,119.40L677.0,119.40M472.0,127.55L677.0,127.55M472.0,135.70L677.0,135.70M472.0,143.85L677.0,143.85M472.0,152.00L677.0,152.00M472.0,160.15L677.0,160.15M472.0,168.30L677.0,168.30M472.0,176.45L677.0,176.45M472.0,184.60L677.0,184.60M472.0,192.75L677.0,192.75M472.0,200.90L677.0,200.90M472.0,209.05L677.0,209.05M472.0,217.20L677.0,217.20M472.0,225.35L677.0,225.35M472.0,233.50L677.0,233.50M472.0,241.65L677.0,241.65M472.0,249.80L677.0,249.80M472.0,257.95L677.0,257.95M472.0,266.10L677.0,266.10M472.0,274.25L677.0,274.25M472.0,282.40L677.0,282.40M472.0,290.55L677.0,290.55M472.0,298.70L677.0,298.70" stroke="#3c3238" stroke-width="1.1" fill="none"/>
<path d="M556.5,49.8H609.6Q610.8,49.8 610.8,51V85.6Q610.8,86.8 609.6,86.8H593.5L591.5,89.5H556.5Q555.3,89.5 555.3,88.3V51Q555.3,49.8 556.5,49.8Z" fill="#000" opacity="0.35" filter="url(#blur1)" transform="translate(1,1.6)"/>
<path d="M556.5,49.8H609.6Q610.8,49.8 610.8,51V85.6Q610.8,86.8 609.6,86.8H593.5L591.5,89.5H556.5Q555.3,89.5 555.3,88.3V51Q555.3,49.8 556.5,49.8Z" fill="#1b1517"/>
<path d="M556.5,49.8H609.6Q610.8,49.8 610.8,51V67.2H555.3V51Q555.3,49.8 556.5,49.8Z" fill="#a91f2a"/>
<text x="562.7" y="58.2" font-size="7.8" font-style="italic" fill="#f6eaea" stroke="#f6eaea" stroke-width="0.25" textLength="42.2" lengthAdjust="spacingAndGlyphs">Transcend</text>
<text x="562.9" y="64.9" font-size="4.6" font-weight="bold" fill="#e9b9bd" textLength="23.5" lengthAdjust="spacingAndGlyphs">Premium</text>
<text x="588.4" y="64.9" font-size="4.6" font-weight="bold" font-style="italic" fill="#e9b9bd" textLength="12" lengthAdjust="spacingAndGlyphs">400x</text>
<text x="562.8" y="75.4" font-size="9" fill="#c9c9d2" textLength="8.4" lengthAdjust="spacingAndGlyphs">32</text>
<text x="571.4" y="75.4" font-size="5.4" fill="#c9c9d2" textLength="5.8" lengthAdjust="spacingAndGlyphs">GB</text>
<circle cx="582.6" cy="71.6" r="2.2" fill="none" stroke="#b9b9c6" stroke-width="0.8"/>
<text x="581.5" y="73.1" font-size="4" font-weight="bold" fill="#b9b9c6">6</text>
<text x="586.6" y="72.6" font-size="5.6" font-weight="bold" fill="#c3c3ce" textLength="15.5" lengthAdjust="spacingAndGlyphs">micro</text>
<text x="590.8" y="75.9" font-size="3.6" font-weight="bold" fill="#c3c3ce" textLength="10.5" lengthAdjust="spacingAndGlyphs">SD</text>
<text x="603.2" y="75.6" font-size="5" font-weight="bold" fill="#8d8d9e">U</text>
<rect x="586.8" y="77.6" width="15.4" height="3.4" fill="#b5b5c4"/>
<text x="587.5" y="80.5" font-size="3.3" font-weight="bold" fill="#1b1517" textLength="14" lengthAdjust="spacingAndGlyphs">HC UHS</text>
<text x="603.6" y="81.2" font-size="5" font-weight="bold" fill="#c3c3ce">I</text>
<rect x="497.1" y="129.5" width="156.9" height="54.7" rx="12" fill="#000" opacity="0.3" filter="url(#blur3)" transform="translate(1.5,2.5)"/>
<rect x="497.1" y="129.5" width="156.9" height="54.7" rx="12" fill="#151314"/>
<path d="M515,133H640Q644.5,133.5 644.5,139V172Q644.5,177.6 640,178H515Q511.4,177.6 511.4,174V137Q511.4,133.4 515,133Z" fill="#121932"/>
<rect x="511.4" y="134" width="17" height="43" fill="#172040"/>
<rect x="538.7" y="150.9" width="35.7" height="27.4" fill="#b3b3b2"/>
<rect x="541" y="152" width="31" height="19" fill="#c2c2c1"/>
<rect x="538.7" y="172.5" width="35.7" height="5.8" fill="#8c8c8e"/>
<rect x="546" y="174.6" width="5" height="2.4" fill="#2a2a30"/><rect x="556" y="174.6" width="4" height="2.4" fill="#2a2a30"/>
<rect x="531" y="153.3" width="6.5" height="2.3" fill="#c4c4b8"/><rect x="531" y="157.8" width="6.5" height="2.3" fill="#c4c4b8"/><rect x="531" y="162.3" width="6.5" height="2.3" fill="#c4c4b8"/><rect x="531" y="166.8" width="6.5" height="2.3" fill="#c4c4b8"/><rect x="531" y="171.3" width="6.5" height="2.3" fill="#c4c4b8"/>
<rect x="595" y="158.4" width="15.8" height="12.4" fill="#0d0d12"/>
<rect x="616" y="165.2" width="14.3" height="14.2" fill="#0a0a0d"/>
<g fill="#b4b7c2"><rect x="579.2" y="154.5" width="2.5" height="3.2"/><rect x="583.4" y="154.5" width="2.5" height="3.2"/><rect x="579.2" y="160.5" width="2.5" height="3.2"/><rect x="583.4" y="160.5" width="2.5" height="3.2"/><rect x="579.2" y="166.5" width="2.5" height="3.2"/><rect x="583.4" y="166.5" width="2.5" height="3.2"/><rect x="614.0" y="155.5" width="2.5" height="3.2"/><rect x="618.2" y="155.5" width="2.5" height="3.2"/><rect x="624.6" y="158.0" width="2.5" height="3.2"/><rect x="628.8" y="158.0" width="2.5" height="3.2"/><rect x="633.0" y="161.5" width="2.5" height="3.2"/><rect x="637.0" y="161.5" width="2.5" height="3.2"/><rect x="633.0" y="174.5" width="2.5" height="3.2"/><rect x="637.0" y="174.5" width="2.5" height="3.2"/><rect x="595.0" y="174.2" width="2.5" height="3.2"/><rect x="599.2" y="174.2" width="2.5" height="3.2"/><rect x="600.0" y="151.5" width="2.5" height="3.2"/><rect x="606.0" y="151.5" width="2.5" height="3.2"/><rect x="626.0" y="150.8" width="2.5" height="3.2"/><rect x="630.0" y="150.8" width="2.5" height="3.2"/></g>
<circle cx="520" cy="159" r="0.9" fill="#a85a32"/><circle cx="587.6" cy="172.6" r="1" fill="#4fb8ac"/>
<rect x="503" y="223" width="152" height="58" rx="11" fill="#000" opacity="0.3" filter="url(#blur3)" transform="translate(1.5,2.5)"/>
<rect x="503.1" y="223" width="151.9" height="57.7" rx="11" fill="#1c1b1b"/>
<rect x="505" y="225" width="28" height="53.5" rx="9" fill="#232222"/>
<rect x="509" y="246" width="5.5" height="6" rx="1" fill="#8d8d8d"/>
<circle cx="634.5" cy="233.5" r="3.3" fill="#111"/>
</g></g>
<rect x="472" y="32" width="205" height="267.9" fill="none" stroke="#111" stroke-width="1.9"/>
<rect x="489.2" y="119.4" width="166.5" height="76.4" fill="none" stroke="#111" stroke-width="1.6"/>
<rect x="488.4" y="64.4" width="55.6" height="20.4" fill="#fff"/><text x="495.2" y="78.8" font-size="11.9" fill="#111">microSD</text>
<rect x="529.2" y="129.5" width="116.5" height="20.9" fill="#fff"/><text x="533.4" y="144.2" font-size="12" fill="#111">Acceleration sensor</text>
<rect x="594.2" y="157.7" width="17.4" height="13.8" fill="none" stroke="#fff" stroke-width="1.7"/>
<path d="M661.8,170H717.1V387.1H699" stroke="#111" stroke-width="1.5" fill="none" stroke-linejoin="miter"/>
<path d="M678.8,387.1L699.9,381.3V392.9Z" fill="#111"/>
<g clip-path="url(#cr2)"><g filter="url(#soft)">
<rect x="472" y="304" width="205" height="181" fill="#ece9ec"/>
<ellipse cx="566" cy="320" rx="70" ry="9" fill="#000" opacity="0.5" filter="url(#blur6)"/>
<path d="M477.60,304.0V485.0M485.71,304.0V485.0M493.81,304.0V485.0M501.92,304.0V485.0M510.02,304.0V485.0M518.13,304.0V485.0M526.24,304.0V485.0M534.34,304.0V485.0M542.45,304.0V485.0M550.55,304.0V485.0M558.66,304.0V485.0M566.77,304.0V485.0M574.87,304.0V485.0M582.98,304.0V485.0M591.08,304.0V485.0M599.19,304.0V485.0M607.30,304.0V485.0M615.40,304.0V485.0M623.51,304.0V485.0M631.61,304.0V485.0M639.72,304.0V485.0M647.83,304.0V485.0M655.93,304.0V485.0M664.04,304.0V485.0M672.14,304.0V485.0M472.0,310.70L677.0,310.70M472.0,318.82L677.0,318.88M472.0,326.91L677.0,327.04M472.0,334.99L677.0,335.17M472.0,343.04L677.0,343.29M472.0,351.07L677.0,351.38M472.0,359.08L677.0,359.45M472.0,367.07L677.0,367.51M472.0,375.04L677.0,375.54M472.0,382.99L677.0,383.54M472.0,390.91L677.0,391.53M472.0,398.81L677.0,399.50M472.0,406.70L677.0,407.44M472.0,414.56L677.0,415.36M472.0,422.40L677.0,423.26M472.0,430.21L677.0,431.14M472.0,438.01L677.0,439.00M472.0,445.79L677.0,446.84M472.0,453.54L677.0,454.65M472.0,461.27L677.0,462.45M472.0,468.98L677.0,470.22M472.0,476.67L677.0,477.97" stroke="#3c3238" stroke-width="1.1" fill="none"/>
<rect x="488.1" y="327.2" width="153.6" height="56.6" rx="12" fill="#000" opacity="0.3" filter="url(#blur3)" transform="translate(1.5,2.5)"/>
<rect x="488.1" y="327.2" width="153.6" height="56.6" rx="12" fill="#141314"/>
<rect x="511.4" y="336" width="105" height="42" fill="#d6d6d6"/>
<rect x="511.4" y="336" width="105" height="6" fill="url(#batTop)"/>
<rect x="511.4" y="372.8" width="105" height="5.4" fill="#c4c4c3"/>
<rect x="511.6" y="336.2" width="17.2" height="41.8" fill="#7a5c13"/>
<path d="M513.5,340.5h13M514.5,347h11M513.5,354h12M514.5,361h11M513.5,368h12M514.5,374h11" stroke="#b8922e" stroke-width="2.4" fill="none" opacity="0.9"/>
<rect x="511.6" y="336.2" width="3" height="41.8" fill="#4e3a0a" opacity="0.6"/>
<path d="M502.5,354c1.2,-3 4.8,-3.2 5.4,-0.6c0.5,2.4 -2.6,3.6 -3.8,1.8M507.6,355.4l3.4,5.4" stroke="#c4222b" stroke-width="1.5" fill="none"/>
<path d="M497.5,364l6,-3l2.2,4l-5.2,4z" fill="#2b2e3d"/>
<circle cx="622.3" cy="340" r="3.1" fill="none" stroke="#343335" stroke-width="1.3"/>
<rect x="618.2" y="346" width="7" height="26" fill="#232224"/>
<circle cx="631" cy="374" r="1.2" fill="#6c6c6c"/><circle cx="629" cy="350" r="0.8" fill="#59595c"/>
<path d="M504.5,412.7H628Q631.7,413 631.7,417V456Q631.5,462 626,462.4H504.5Q500.7,462 500.7,458.5V416.5Q500.7,413 504.5,412.7Z" fill="#000" opacity="0.3" filter="url(#blur3)" transform="translate(1.5,2.5)"/>
<path d="M504.5,412.7H628Q631.7,413 631.7,417V456Q631.5,462 626,462.4H504.5Q500.7,462 500.7,458.5V416.5Q500.7,413 504.5,412.7Z" fill="#10172d"/>
<path d="M574,412.7H628Q631.7,413 631.7,417V456Q631.5,462 626,462.4H590Q572,440 574,412.7Z" fill="#1b3470" opacity="0.75"/>
<rect x="503.3" y="438" width="6.2" height="22" fill="#9c9c9c"/><rect x="496.4" y="447.3" width="7.2" height="4.8" fill="#161616"/>
<rect x="612" y="416.2" width="24.3" height="33.5" rx="4" fill="#8f8f92"/>
<path d="M616,420.5q5,-3 10,-0.5q3,2 2,8q-6,3 -11,0.5z" fill="#cfcfd2"/>
<path d="M616.5,434q6,-2.5 11,0.5l-1,10q-5,2 -9.5,0z" fill="#bdbdc0"/>
<circle cx="624.2" cy="455.4" r="3.4" fill="#a3a3a7"/>
<g fill="#0b0c11"><rect x="503.8" y="415" width="16" height="17.3"/><rect x="530" y="426.6" width="12.7" height="12.7"/><rect x="578.6" y="422" width="21.9" height="7"/><rect x="579.7" y="432.3" width="10.6" height="11.6"/><rect x="511" y="441" width="10" height="11"/><rect x="596.5" y="428.5" width="7.5" height="6"/></g>
<rect x="572.8" y="413.9" width="4.6" height="10.4" fill="#6d7078"/>
<rect x="597" y="413.6" width="3" height="5.4" fill="#b9bcc4"/>
<rect x="580.6" y="419.6" width="2.2" height="3" fill="#c4c7cf"/><rect x="585.6" y="419.6" width="2.2" height="3" fill="#c4c7cf"/><rect x="590.6" y="419.6" width="2.2" height="3" fill="#c4c7cf"/><rect x="595.6" y="419.6" width="2.2" height="3" fill="#c4c7cf"/>
<g fill="#aeb2be"><rect x="504.6" y="418.0" width="2.6" height="3.4"/><rect x="504.6" y="423.0" width="2.6" height="3.4"/><rect x="504.6" y="428.0" width="2.6" height="3.4"/><rect x="532.0" y="416.0" width="2.6" height="3.4"/><rect x="536.5" y="416.0" width="2.6" height="3.4"/><rect x="532.0" y="420.5" width="2.6" height="3.4"/><rect x="536.5" y="420.5" width="2.6" height="3.4"/><rect x="529.5" y="446.5" width="2.6" height="3.4"/><rect x="534.0" y="446.5" width="2.6" height="3.4"/><rect x="540.5" y="436.0" width="2.6" height="3.4"/><rect x="545.0" y="436.0" width="2.6" height="3.4"/><rect x="551.0" y="431.0" width="2.6" height="3.4"/><rect x="555.5" y="431.0" width="2.6" height="3.4"/><rect x="551.0" y="437.0" width="2.6" height="3.4"/><rect x="555.5" y="437.0" width="2.6" height="3.4"/><rect x="551.0" y="443.0" width="2.6" height="3.4"/><rect x="555.5" y="443.0" width="2.6" height="3.4"/><rect x="550.0" y="452.5" width="2.6" height="3.4"/><rect x="554.5" y="452.5" width="2.6" height="3.4"/><rect x="560.0" y="452.5" width="2.6" height="3.4"/><rect x="564.5" y="452.5" width="2.6" height="3.4"/><rect x="520.5" y="452.0" width="2.6" height="3.4"/><rect x="525.0" y="452.0" width="2.6" height="3.4"/><rect x="512.5" y="441.5" width="2.6" height="3.4"/><rect x="517.0" y="441.5" width="2.6" height="3.4"/><rect x="512.5" y="447.0" width="2.6" height="3.4"/><rect x="517.0" y="447.0" width="2.6" height="3.4"/><rect x="583.5" y="450.0" width="2.6" height="3.4"/><rect x="588.0" y="450.0" width="2.6" height="3.4"/><rect x="583.5" y="455.5" width="2.6" height="3.4"/><rect x="588.0" y="455.5" width="2.6" height="3.4"/><rect x="597.5" y="452.5" width="2.6" height="3.4"/><rect x="602.0" y="452.5" width="2.6" height="3.4"/><rect x="606.5" y="421.0" width="2.6" height="3.4"/><rect x="606.5" y="440.0" width="2.6" height="3.4"/><rect x="540.0" y="444.5" width="2.6" height="3.4"/><rect x="544.5" y="444.5" width="2.6" height="3.4"/></g>
<rect x="543.6" y="417.3" width="2.8" height="5.2" fill="#c4aa44"/>
<text transform="translate(546.8,455.6) rotate(180)" font-size="6.6" font-family="Liberation Mono, monospace" font-weight="bold" fill="#c5c8d2" textLength="20.5" lengthAdjust="spacingAndGlyphs">SL001</text>
</g></g>
<rect x="472" y="303.9" width="205" height="180.4" fill="none" stroke="#111" stroke-width="1.9"/>
<rect x="510.7" y="335.3" width="106.1" height="43.2" fill="none" stroke="#fff" stroke-width="1.8"/>
<rect x="528.5" y="341.1" width="85.0" height="32.3" fill="#fff"/><text x="551.2" y="361.3" font-size="12" fill="#111">Battery</text>
<path d="M208.6,564.8V645.2" stroke="#333" stroke-width="1.1" fill="none"/>
<path d="M208.1,644.7H727.6" stroke="#6e6e6e" stroke-width="1.4" fill="none"/>
<text x="200.2" y="567.0" font-size="10.0" text-anchor="end" fill="#000">2000</text>
<text x="200.2" y="587.0" font-size="10.0" text-anchor="end" fill="#000">1500</text>
<text x="200.2" y="606.9" font-size="10.0" text-anchor="end" fill="#000">1000</text>
<text x="200.2" y="626.9" font-size="10.0" text-anchor="end" fill="#000">500</text>
<text x="200.2" y="647.0" font-size="10.0" text-anchor="end" fill="#000">0</text>
<text x="208.7" y="657.7" font-size="10.0" text-anchor="middle" fill="#000">0</text>
<text x="323.1" y="657.7" font-size="10.0" text-anchor="middle" fill="#000">120</text>
<text x="436.1" y="657.7" font-size="10.0" text-anchor="middle" fill="#000">240</text>
<text x="549.2" y="657.7" font-size="10.0" text-anchor="middle" fill="#000">360</text>
<text x="662.2" y="657.7" font-size="10.0" text-anchor="middle" fill="#000">480</text>
<marker id="m1" markerWidth="6" markerHeight="6" refX="3" refY="3" markerUnits="userSpaceOnUse"><circle cx="3" cy="3" r="2.2" fill="#4472c4"/></marker><polyline points="208.6,643.3 209.1,639.6 209.5,605.6 210.0,608.3 210.5,601.1 211.0,594.4 211.4,588.5 211.9,599.5 212.4,589.3 212.9,590.4 213.3,592.5 213.8,601.0 214.3,592.1 214.7,601.4 215.2,619.9 215.7,598.9 216.2,611.0 216.6,608.4 217.1,620.9 217.6,607.5 218.1,598.3 218.5,604.4 219.0,602.4 219.5,608.6 219.9,604.8 220.4,600.4 220.9,606.4 221.4,609.9 221.8,602.7 222.3,601.4 222.8,604.0 223.3,612.3 223.7,612.9 224.2,612.4 224.7,615.0 225.1,614.4 225.6,609.0 226.1,616.1 226.6,612.2 227.0,602.5 227.5,601.0 228.0,599.4 228.5,600.4 228.9,591.0 229.4,589.2 229.9,589.1 230.3,585.7 230.8,599.9 231.3,596.0 231.8,591.6 232.2,591.6 232.7,594.1 233.2,590.5 233.7,590.5 234.1,594.9 234.6,588.8 235.1,594.5 235.5,592.8 236.0,597.7 236.5,602.9 237.0,609.5 237.4,620.9 237.9,630.2 238.4,630.0 238.9,630.0 239.3,629.1 239.8,602.7 240.3,590.8 240.7,589.7 241.2,590.5 241.7,604.2 242.2,618.0 242.6,628.5 243.1,633.3 243.6,632.8 244.1,628.0 244.5,618.0 245.0,606.6 245.5,602.3 245.9,601.7 246.4,600.9 246.9,600.1 247.4,599.3 247.8,598.5 248.3,598.0 248.8,597.6 249.3,597.1 249.7,596.6 250.2,596.2 250.7,595.7 251.1,595.2 251.6,594.7 252.1,594.3 252.6,593.8 253.0,593.3 253.5,591.9 254.0,590.5 254.5,588.5 254.9,589.0 255.4,589.5 255.9,587.9 256.3,588.6 256.8,601.9 257.3,611.4 257.8,620.9 258.2,590.7 258.7,631.4 259.2,630.9 259.7,628.5 260.1,620.9 260.6,609.5 261.1,587.6 261.5,594.8 262.0,594.4 262.5,595.2 263.0,592.6 263.4,593.8 263.9,588.3 264.4,617.1 264.9,589.7 265.3,589.2 265.8,588.6 266.3,588.1 266.7,593.4 267.2,611.4 267.7,622.8 268.2,634.2 268.6,626.6 269.1,613.3 269.6,632.1 270.1,636.9 270.5,636.7 271.0,635.7 271.5,636.5 271.9,639.2 272.4,641.1 272.9,640.9 273.4,618.0 273.8,619.0 274.3,596.2 274.8,613.3 275.3,592.8 275.7,597.0 276.2,597.0 276.7,600.5 277.1,600.9 277.6,602.2 278.1,618.0 278.6,599.3 279.0,596.3 279.5,598.9 280.0,609.7 280.5,610.0 280.9,600.4 281.4,599.3 281.9,597.0 282.3,596.8 282.8,612.1 283.3,588.1 283.8,595.2 284.2,594.8 284.7,593.9 285.2,600.9 285.7,598.8 286.1,620.9 286.6,624.7 287.1,633.3 287.5,620.9 288.0,641.8 288.5,642.3 289.0,641.8 289.4,618.0 289.9,603.8 290.4,617.1 290.8,622.9 291.3,626.6 291.8,621.6 292.3,623.8 292.7,631.0 293.2,629.9 293.7,627.5 294.2,590.4 294.6,587.1 295.1,590.4 295.6,608.5 296.0,609.5 296.5,597.9 297.0,596.4 297.5,595.4 297.9,596.4 298.4,596.6 298.9,600.7 299.4,598.7 299.8,600.1 300.3,597.0 300.8,597.4 301.2,599.4 301.7,600.4 302.2,597.8 302.7,629.5 303.1,606.1 303.6,588.5 304.1,630.7 304.6,588.5 305.0,593.8 305.5,627.6 306.0,600.0 306.4,608.5 306.9,600.9 307.4,612.3 307.9,630.4 308.3,624.7 308.8,627.6 309.3,635.2 309.8,635.6 310.2,636.0 310.7,636.4 311.2,637.4 311.6,638.8 312.1,640.2 312.6,641.0 313.1,641.2 313.5,641.5 314.0,641.7 314.5,641.9 315.0,642.1 315.4,642.3 315.9,642.4 316.4,642.6 316.8,642.7 317.3,642.9 317.8,643.1 318.3,643.3 318.7,643.5 319.2,643.7 319.7,643.9 320.2,643.1 320.6,629.7 321.1,627.7 321.6,626.3 322.0,624.4 322.5,619.5 323.0,619.8 323.5,620.1 323.9,620.4 324.4,620.7 324.9,621.1 325.4,621.7 325.8,622.2 326.3,622.8 326.8,623.4 327.2,624.0 327.7,624.7 328.2,625.4 328.7,626.1 329.1,626.7 329.6,627.1 330.1,627.4 330.6,627.8 331.0,628.0 331.5,628.0 332.0,628.1 332.4,628.1 332.9,628.1 333.4,628.1 333.9,628.1 334.3,628.1 334.8,628.1 335.3,628.1 335.8,628.6 336.2,630.6 336.7,633.0 337.2,622.8 337.6,638.0 338.1,638.2 338.6,638.3 339.1,638.5 339.5,638.6 340.0,638.8 340.5,639.1 341.0,639.5 341.4,639.9 341.9,640.3 342.4,640.7 342.8,641.0 343.3,641.0 343.8,641.0 344.3,641.1 344.7,641.1 345.2,641.1 345.7,641.1 346.2,641.1 346.6,641.1 347.1,641.1 347.6,641.1 348.0,641.1 348.5,641.2 349.0,641.2 349.5,641.2 349.9,641.2 350.4,641.2 350.9,641.2 351.4,641.2 351.8,641.2 352.3,641.2 352.8,641.2 353.2,641.3 353.7,641.3 354.2,641.3 354.7,641.3 355.1,641.3 355.6,641.3 356.1,639.4 356.6,633.0 357.0,632.9 357.5,632.8 358.0,632.6 358.4,632.5 358.9,632.4 359.4,632.3 359.9,632.1 360.3,632.0 360.8,631.9 361.3,631.7 361.8,631.6 362.2,631.5 362.7,631.4 363.2,631.3 363.6,631.4 364.1,631.4 364.6,631.4 365.1,631.5 365.5,631.5 366.0,631.5 366.5,631.5 367.0,631.6 367.4,631.6 367.9,631.6 368.4,631.7 368.8,631.7 369.3,631.7 369.8,631.7 370.3,631.8 370.7,631.8 371.2,631.8 371.7,631.9 372.2,631.9 372.6,631.9 373.1,631.9 373.6,632.0 374.0,632.0 374.5,632.0 375.0,632.1 375.5,632.1 375.9,632.1 376.4,632.1 376.9,632.2 377.4,632.2 377.8,632.3 378.3,632.4 378.8,632.5 379.2,632.5 379.7,632.6 380.2,632.7 380.7,632.8 381.1,632.8 381.6,632.9 382.1,633.0 382.6,633.0 383.0,633.1 383.5,633.2 384.0,633.3 384.4,633.3 384.9,633.4 385.4,633.5 385.9,633.6 386.3,633.6 386.8,633.7 387.3,633.8 387.8,633.9 388.2,634.5 388.7,635.4 389.2,636.2 389.6,637.0 390.1,637.1 390.6,637.1 391.1,637.1 391.5,637.1 392.0,637.1 392.5,637.1 393.0,637.2 393.4,637.2 393.9,637.2 394.4,637.2 394.8,637.2 395.3,637.2 395.8,637.3 396.3,637.3 396.7,637.3 397.2,637.3 397.7,637.3 398.2,637.3 398.6,637.4 399.1,637.4 399.6,637.4 400.0,637.4 400.5,637.4 401.0,637.4 401.5,637.5 401.9,637.5 402.4,637.5 402.9,637.5 403.4,637.5 403.8,637.5 404.3,637.6 404.8,637.6 405.2,637.6 405.7,637.6 406.2,637.7 406.7,637.7 407.1,637.7 407.6,637.8 408.1,637.8 408.6,637.9 409.0,637.9 409.5,638.0 410.0,638.0 410.4,638.1 410.9,638.1 411.4,638.1 411.9,638.2 412.3,638.2 412.8,638.3 413.3,638.3 413.8,638.4 414.2,638.4 414.7,638.4 415.2,638.5 415.6,638.5 416.1,638.6 416.6,638.6 417.1,638.7 417.5,638.7 418.0,638.8 418.5,638.8 419.0,638.8 419.4,638.9 419.9,638.9 420.4,639.0 420.8,639.0 421.3,605.6 421.8,639.2 422.3,586.2 422.7,639.3 423.2,619.9 423.7,639.5 424.2,639.6 424.6,639.7 425.1,639.8 425.6,639.8 426.0,639.9 426.5,640.0 427.0,640.1 427.5,640.2 427.9,640.3 428.4,640.3 428.9,640.4 429.4,640.5 429.8,640.6 430.3,640.7 430.8,640.7 431.2,640.8 431.7,640.9 432.2,641.0 432.7,641.1 433.1,641.1 433.6,641.2 434.1,641.3 434.6,641.4 435.0,641.4 435.5,641.4 436.0,641.5 436.4,641.5 436.9,641.6 437.4,641.6 437.9,641.7 438.3,641.7 438.8,641.8 439.3,641.8 439.8,641.9 440.2,641.9 440.7,642.0 441.2,642.0 441.6,642.1 442.1,642.1 442.6,642.2 443.1,642.2 443.5,642.3 444.0,642.3 444.5,642.3 444.9,642.4 445.4,642.4 445.9,642.5 446.4,642.5 446.8,642.6 447.3,642.6 447.8,642.7 448.3,642.7 448.7,641.9 449.2,640.8 449.7,639.6 450.1,624.6 450.6,614.1 451.1,619.6 451.6,615.6 452.0,618.7 452.5,614.7 453.0,618.4 453.5,619.4 453.9,618.6 454.4,616.1 454.9,618.6 455.3,614.6 455.8,615.8 456.3,616.5 456.8,626.0 457.2,635.0 457.7,635.3 458.2,635.5 458.7,635.7 459.1,635.9 459.6,636.1 460.1,636.3 460.5,636.7 461.0,637.4 461.5,638.1 462.0,638.9 462.4,639.6 462.9,640.1 463.4,640.4 463.9,640.8 464.3,641.2 464.8,641.5 465.3,641.9 465.7,642.3 466.2,642.6 466.7,629.8 467.2,618.7 467.6,615.1 468.1,613.9 468.6,613.9 469.1,613.8 469.5,613.8 470.0,613.8 470.5,613.7 470.9,613.7 471.4,613.7 471.9,613.6 472.4,613.6 472.8,613.6 473.3,613.5 473.8,613.5 474.3,613.5 474.7,613.4 475.2,613.4 475.7,613.4 476.1,613.3 476.6,613.3 477.1,613.3 477.6,613.2 478.0,613.2 478.5,613.2 479.0,613.1 479.5,613.1 479.9,613.1 480.4,613.1 480.9,613.1 481.3,613.1 481.8,613.1 482.3,613.1 482.8,613.1 483.2,613.1 483.7,613.1 484.2,613.1 484.7,613.1 485.1,613.1 485.6,613.1 486.1,613.1 486.5,613.1 487.0,613.1 487.5,613.1 488.0,613.1 488.4,613.1 488.9,613.1 489.4,613.1 489.9,613.1 490.3,613.1 490.8,613.1 491.3,613.1 491.7,613.1 492.2,614.3 492.7,620.2 493.2,638.4 493.6,639.1 494.1,639.1 494.6,639.2 495.1,639.2 495.5,639.2 496.0,639.3 496.5,639.3 496.9,639.4 497.4,639.4 497.9,639.5 498.4,639.5 498.8,639.6 499.3,639.6 499.8,639.6 500.3,639.7 500.7,639.7 501.2,639.8 501.7,639.8 502.1,639.9 502.6,639.9 503.1,640.0 503.6,640.0 504.0,640.0 504.5,640.1 505.0,640.1 505.5,640.2 505.9,639.9 506.4,639.6 506.9,639.3 507.3,639.0 507.8,638.7 508.3,638.5 508.8,638.5 509.2,638.5 509.7,638.5 510.2,638.5 510.7,638.5 511.1,638.5 511.6,638.5 512.1,638.6 512.5,633.3 513.0,638.6 513.5,638.6 514.0,638.6 514.4,638.6 514.9,638.6 515.4,638.6 515.9,638.6 516.3,638.7 516.8,638.7 517.3,638.7 517.7,638.7 518.2,638.7 518.7,638.7 519.2,638.7 519.6,638.7 520.1,638.7 520.6,638.6 521.1,638.6 521.5,638.5 522.0,638.4 522.5,638.4 522.9,638.3 523.4,638.3 523.9,638.2 524.4,638.1 524.8,638.1 525.3,638.0 525.8,637.9 526.3,637.9 526.7,637.8 527.2,637.7 527.7,637.7 528.1,637.6 528.6,639.0 529.1,635.6 529.6,629.8 530.0,626.3 530.5,624.5 531.0,624.5 531.5,624.4 531.9,624.3 532.4,624.3 532.9,624.2 533.3,624.1 533.8,624.1 534.3,624.0 534.8,624.0 535.2,623.9 535.7,623.8 536.2,623.8 536.7,623.7 537.1,623.6 537.6,623.6 538.1,623.5 538.5,623.4 539.0,623.2 539.5,622.9 540.0,622.6 540.4,622.2 540.9,621.9 541.4,621.5 541.9,621.2 542.3,620.9 542.8,620.5 543.3,614.0 543.7,610.5 544.2,610.4 544.7,610.4 545.2,610.3 545.6,610.3 546.1,610.2 546.6,610.2 547.1,610.1 547.5,610.1 548.0,610.0 548.5,610.0 548.9,609.9 549.4,609.9 549.9,609.8 550.4,609.8 550.8,609.7 551.3,609.7 551.8,609.7 552.3,609.6 552.7,609.6 553.2,609.5 553.7,609.5 554.1,609.4 554.6,609.4 555.1,609.3 555.6,609.3 556.0,609.3 556.5,609.2 557.0,609.2 557.5,609.2 557.9,609.2 558.4,609.1 558.9,609.1 559.3,609.1 559.8,609.0 560.3,609.0 560.8,609.0 561.2,609.0 561.7,608.9 562.2,608.9 562.7,608.9 563.1,608.9 563.6,608.8 564.1,608.8 564.5,608.8 565.0,608.8 565.5,608.7 566.0,597.5 566.4,609.6 566.9,625.2 567.4,633.7 567.9,634.8 568.3,635.9 568.8,637.8 569.3,643.5 569.7,643.7 570.2,643.4 570.7,643.1 571.2,642.8 571.6,642.6 572.1,642.3 572.6,642.0 573.1,641.7 573.5,641.4 574.0,641.2 574.5,640.9 574.9,640.6 575.4,640.3 575.9,640.0 576.4,639.8 576.8,639.5 577.3,640.3 577.8,635.8 578.3,623.5 578.7,617.7 579.2,614.3 579.7,614.4 580.1,614.4 580.6,614.5 581.1,614.5 581.6,614.6 582.0,614.6 582.5,614.7 583.0,614.7 583.5,614.8 583.9,614.8 584.4,614.9 584.9,614.9 585.3,615.0 585.8,615.1 586.3,615.2 586.8,615.3 587.2,615.4 587.7,615.5 588.2,615.6 588.7,615.7 589.1,616.7 589.6,619.9 590.1,628.9 590.5,636.5 591.0,639.5 591.5,639.5 592.0,639.5 592.4,639.5 592.9,639.5 593.4,639.5 593.9,639.5 594.3,639.5 594.8,639.5 595.3,639.5 595.7,639.5 596.2,639.5 596.7,639.5 597.2,639.5 597.6,639.5 598.1,639.5 598.6,639.5 599.1,639.5 599.5,639.5 600.0,639.5 600.5,639.5 600.9,639.5 601.4,639.5 601.9,639.5 602.4,639.5 602.8,639.5 603.3,639.5 603.8,639.5 604.2,639.5 604.7,639.5 605.2,639.2 605.7,637.2 606.1,635.3 606.6,633.9 607.1,632.5 607.6,629.0 608.0,621.6 608.5,633.3 609.0,633.1 609.4,633.0 609.9,632.9 610.4,632.8 610.9,632.7 611.3,632.6 611.8,632.4 612.3,632.3 612.8,632.2 613.2,632.1 613.7,632.0 614.2,631.9 614.6,631.8 615.1,631.7 615.6,631.7 616.1,631.6 616.5,631.5 617.0,631.4 617.5,631.4 618.0,631.3 618.4,631.2 618.9,631.2 619.4,631.1 619.8,631.0 620.3,631.2 620.8,626.0 621.3,631.5 621.7,619.3 622.2,631.8 622.7,632.0 623.2,632.2 623.6,632.2 624.1,632.2 624.6,632.2 625.0,632.2 625.5,632.2 626.0,632.2 626.5,632.2 626.9,632.2 627.4,632.2 627.9,632.2 628.4,632.2 628.8,632.2 629.3,632.2 629.8,632.2 630.2,632.2 630.7,632.2 631.2,632.2 631.7,632.2 632.1,632.2 632.6,632.2 633.1,632.2 633.6,632.2 634.0,632.2 634.5,632.2 635.0,632.2 635.4,632.2 635.9,632.2 636.4,632.2 636.9,632.2 637.3,632.2 637.8,633.0 638.3,634.0 638.8,634.6 639.2,634.6 639.7,634.6 640.2,634.6 640.6,634.6 641.1,634.6 641.6,634.6 642.1,634.6 642.5,634.6 643.0,634.6 643.5,634.6 644.0,634.6 644.4,634.6 644.9,632.4 645.4,630.4 645.8,630.4 646.3,630.4 646.8,630.4 647.3,630.4 647.7,628.7 648.2,630.4 648.7,630.4 649.2,630.4 649.6,630.4 650.1,630.4 650.6,630.4 651.0,630.4 651.5,630.4 652.0,630.4 652.5,630.4 652.9,630.4 653.4,630.4 653.9,630.4 654.4,630.4 654.8,630.4 655.3,630.4 655.8,630.4 656.2,630.4 656.7,630.4 657.2,630.4 657.7,630.4 658.1,630.4 658.6,630.4 659.1,630.4 659.6,630.4 660.0,630.4 660.5,630.4 661.0,630.4 661.4,630.4 661.9,630.4 662.4,630.4 662.9,630.4 663.3,630.4 663.8,630.4 664.3,630.4 664.8,630.4 665.2,630.4 665.7,630.4 666.2,630.4 666.6,627.6 667.1,625.2 667.6,625.2 668.1,625.2 668.5,625.2 669.0,625.2 669.5,625.2 670.0,625.2 670.4,625.2 670.9,625.2 671.4,625.2 671.8,625.2 672.3,625.2 672.8,625.2 673.3,625.2 673.7,625.2 674.2,625.2 674.7,625.2 675.2,624.5 675.6,622.8 676.1,621.9 676.6,621.9 677.0,621.8 677.5,621.7 678.0,621.7 678.5,621.6 678.9,621.6 679.4,621.5 679.9,621.5 680.4,621.4 680.8,621.4 681.3,621.3 681.8,621.3 682.2,621.2 682.7,621.2 683.2,621.1 683.7,621.1 684.1,620.1 684.6,618.8 685.1,618.7 685.6,618.6 686.0,618.6 686.5,618.5 687.0,618.5 687.4,618.4 687.9,618.4 688.4,618.3 688.9,618.3 689.3,618.2 689.8,618.2 690.3,618.2 690.8,619.3 691.2,620.2 691.7,620.1 692.2,620.0 692.6,619.9 693.1,619.8 693.6,619.8 694.1,619.7 694.5,619.6 695.0,617.9 695.5,615.7 696.0,613.5 696.4,607.1 696.9,602.3 697.4,602.3 697.8,602.3 698.3,602.3 698.8,602.3 699.3,602.3 699.7,602.3 700.2,602.3 700.7,602.3 701.2,602.3 701.6,602.3 702.1,602.3 702.6,602.3 703.0,602.3 703.5,606.5 704.0,623.4 704.5,628.1 704.9,628.1 705.4,628.1 705.9,628.1 706.4,628.1 706.8,628.2 707.3,628.2 707.8,628.2 708.2,628.2 708.7,628.2 709.2,628.2 709.7,628.2 710.1,628.2 710.6,628.2 711.1,628.2 711.6,628.3 712.0,628.3 712.5,628.3 713.0,628.3 713.4,628.3 713.9,628.3 714.4,628.3 714.9,628.3 715.3,628.3 715.8,628.4 716.3,628.4 716.8,628.4 717.2,628.4 717.7,640.0 718.2,643.4 718.6,643.4 719.1,643.4 719.6,643.4 720.1,643.4 720.5,621.6 721.0,605.8 721.5,619.6 722.0,642.5 722.4,641.8 722.9,641.0 723.4,640.2 723.8,639.5 724.3,638.7 724.8,638.0 725.3,637.2 725.7,629.6 726.2,611.5 726.7,605.5" fill="none" stroke="#4472c4" stroke-width="1.05" stroke-linejoin="round" marker-start="url(#m1)" marker-mid="url(#m1)" marker-end="url(#m1)"/>
<text x="84.9" y="596.3" font-size="12" text-anchor="middle" fill="#000">Norm of X-acceleration</text>
<text x="84.9" y="612.5" font-size="12" text-anchor="middle" fill="#000">(sum of 30 sec)</text>
<text x="84.9" y="628.7" font-size="12" text-anchor="middle" fill="#000">(g)</text>
<path d="M206.5,683.8V764.1" stroke="#333" stroke-width="1.1" fill="none"/>
<path d="M206.0,763.6H727.6" stroke="#626262" stroke-width="1.4" fill="none"/>
<text x="200.2" y="686.8" font-size="10.0" text-anchor="end" fill="#000">2000</text>
<text x="200.2" y="706.5" font-size="10.0" text-anchor="end" fill="#000">1500</text>
<text x="200.2" y="726.2" font-size="10.0" text-anchor="end" fill="#000">1000</text>
<text x="200.2" y="746.0" font-size="10.0" text-anchor="end" fill="#000">500</text>
<text x="200.2" y="765.7" font-size="10.0" text-anchor="end" fill="#000">0</text>
<text x="206.5" y="776.8" font-size="10.0" text-anchor="middle" fill="#000">0</text>
<text x="321.8" y="776.8" font-size="10.0" text-anchor="middle" fill="#000">120</text>
<text x="435.0" y="776.8" font-size="10.0" text-anchor="middle" fill="#000">240</text>
<text x="548.8" y="776.8" font-size="10.0" text-anchor="middle" fill="#000">360</text>
<text x="662.1" y="776.8" font-size="10.0" text-anchor="middle" fill="#000">480</text>
<marker id="m2" markerWidth="6" markerHeight="6" refX="3" refY="3" markerUnits="userSpaceOnUse"><circle cx="3" cy="3" r="2.2" fill="#ed7d31"/></marker><polyline points="206.5,703.7 207.0,703.7 207.4,708.4 207.9,748.2 208.4,748.4 208.9,754.0 209.3,748.3 209.8,754.4 210.3,750.7 210.8,751.7 211.2,753.1 211.7,750.9 212.2,749.0 212.7,727.5 213.1,713.2 213.6,727.5 214.1,738.9 214.6,741.8 215.0,740.1 215.5,761.7 216.0,739.7 216.5,734.3 216.9,748.0 217.4,736.5 217.9,739.2 218.4,735.2 218.8,739.7 219.3,727.0 219.8,739.3 220.3,734.8 220.7,735.1 221.2,734.7 221.7,735.6 222.2,733.2 222.6,733.5 223.1,744.1 223.6,740.4 224.1,733.1 224.5,727.0 225.0,733.2 225.5,741.7 226.0,758.9 226.4,757.0 226.9,740.6 227.4,757.0 227.9,754.1 228.3,741.2 228.8,744.5 229.3,753.2 229.8,744.3 230.2,745.0 230.7,745.6 231.2,735.1 231.7,740.4 232.1,746.3 232.6,739.6 233.1,744.4 233.6,741.3 234.0,743.9 234.5,743.5 235.0,740.1 235.5,755.1 235.9,756.0 236.4,754.1 236.9,747.2 237.3,736.0 237.8,757.0 238.3,757.9 238.8,744.7 239.2,746.0 239.7,746.9 240.2,746.8 240.7,746.1 241.1,740.6 241.6,742.6 242.1,740.1 242.6,744.0 243.0,733.2 243.5,729.6 244.0,730.3 244.5,731.1 244.9,730.5 245.4,733.2 245.9,731.1 246.4,732.4 246.8,731.7 247.3,733.2 247.8,735.2 248.3,735.2 248.7,730.5 249.2,734.7 249.7,731.8 250.2,730.4 250.6,732.0 251.1,732.8 251.6,748.4 252.1,751.3 252.5,744.6 253.0,743.7 253.5,741.7 254.0,755.3 254.4,739.8 254.9,735.1 255.4,721.8 255.9,735.1 256.3,714.6 256.8,719.8 257.3,714.8 257.8,726.5 258.2,716.2 258.7,721.2 259.2,750.1 259.7,754.5 260.1,744.9 260.6,751.7 261.1,749.7 261.6,756.8 262.0,754.5 262.5,745.3 263.0,747.0 263.5,750.2 263.9,756.6 264.4,750.3 264.9,750.8 265.4,760.4 265.8,760.9 266.3,751.6 266.8,760.0 267.2,750.3 267.7,746.0 268.2,753.6 268.7,755.9 269.1,759.9 269.6,762.7 270.1,761.5 270.6,761.5 271.0,761.2 271.5,761.1 272.0,761.5 272.5,746.5 272.9,759.2 273.4,745.6 273.9,749.4 274.4,753.1 274.8,754.9 275.3,760.5 275.8,741.1 276.3,743.4 276.7,745.4 277.2,742.3 277.7,741.2 278.2,742.2 278.6,735.5 279.1,747.2 279.6,736.9 280.1,732.2 280.5,747.3 281.0,730.8 281.5,743.7 282.0,748.9 282.4,735.1 282.9,749.7 283.4,743.4 283.9,733.2 284.3,747.5 284.8,744.8 285.3,752.1 285.8,743.7 286.2,748.2 286.7,747.2 287.2,748.9 287.7,745.0 288.1,743.0 288.6,747.9 289.1,746.2 289.6,751.2 290.0,740.8 290.5,758.9 291.0,760.4 291.5,759.6 291.9,762.6 292.4,761.4 292.9,759.4 293.4,757.5 293.8,760.2 294.3,732.2 294.8,727.5 295.3,732.2 295.7,759.8 296.2,758.4 296.7,758.4 297.1,759.7 297.6,756.4 298.1,755.4 298.6,754.9 299.0,754.0 299.5,748.1 300.0,748.6 300.5,748.8 300.9,747.6 301.4,747.1 301.9,728.0 302.4,748.6 302.8,748.6 303.3,735.1 303.8,714.2 304.3,748.5 304.7,744.6 305.2,746.5 305.7,742.7 306.2,722.2 306.6,761.7 307.1,748.2 307.6,748.2 308.1,748.1 308.5,748.1 309.0,748.1 309.5,748.0 310.0,748.0 310.4,747.9 310.9,747.9 311.4,747.8 311.9,747.8 312.3,747.8 312.8,747.7 313.3,747.7 313.8,747.7 314.2,747.7 314.7,747.8 315.2,747.8 315.7,747.9 316.1,747.9 316.6,748.0 317.1,748.0 317.6,748.0 318.0,748.1 318.5,748.1 319.0,748.2 319.5,752.6 319.9,759.9 320.4,760.1 320.9,760.4 321.4,760.6 321.8,760.6 322.3,760.6 322.8,760.7 323.3,760.7 323.7,760.7 324.2,760.7 324.7,760.8 325.1,760.8 325.6,760.8 326.1,760.8 326.6,760.9 327.0,760.9 327.5,760.9 328.0,760.9 328.5,760.9 328.9,761.0 329.4,760.9 329.9,760.8 330.4,760.7 330.8,760.6 331.3,760.5 331.8,760.5 332.3,760.4 332.7,760.3 333.2,760.2 333.7,760.1 334.2,760.0 334.6,760.0 335.1,759.9 335.6,728.0 336.1,744.0 336.5,742.7 337.0,742.7 337.5,742.6 338.0,742.6 338.4,742.6 338.9,742.6 339.4,742.5 339.9,742.5 340.3,742.5 340.8,742.5 341.3,742.4 341.8,742.4 342.2,742.4 342.7,742.4 343.2,742.4 343.7,742.3 344.1,742.3 344.6,742.3 345.1,742.3 345.6,742.2 346.0,742.2 346.5,742.2 347.0,742.2 347.5,742.1 347.9,742.1 348.4,742.1 348.9,742.1 349.4,742.1 349.8,742.0 350.3,742.0 350.8,742.0 351.3,742.0 351.7,741.9 352.2,741.9 352.7,741.9 353.2,741.9 353.6,741.9 354.1,741.8 354.6,741.8 355.0,740.6 355.5,741.8 356.0,741.8 356.5,741.7 356.9,741.7 357.4,741.7 357.9,741.7 358.4,741.7 358.8,741.7 359.3,741.7 359.8,741.7 360.3,741.7 360.7,741.7 361.2,741.7 361.7,741.7 362.2,741.7 362.6,741.7 363.1,741.7 363.6,741.7 364.1,741.7 364.5,741.7 365.0,741.7 365.5,741.6 366.0,741.6 366.4,741.6 366.9,741.6 367.4,741.6 367.9,741.6 368.3,741.6 368.8,741.6 369.3,741.6 369.8,741.6 370.2,741.6 370.7,741.6 371.2,741.6 371.7,741.6 372.1,741.6 372.6,741.6 373.1,741.6 373.6,741.6 374.0,741.5 374.5,741.5 375.0,741.5 375.5,741.5 375.9,741.5 376.4,741.5 376.9,741.5 377.4,741.5 377.8,741.5 378.3,741.5 378.8,741.5 379.3,741.5 379.7,741.5 380.2,741.5 380.7,741.6 381.2,741.7 381.6,741.8 382.1,741.9 382.6,742.0 383.1,742.1 383.5,742.2 384.0,742.3 384.5,742.4 384.9,742.5 385.4,742.6 385.9,742.6 386.4,742.6 386.8,742.6 387.3,742.6 387.8,742.6 388.3,742.6 388.7,742.6 389.2,742.6 389.7,742.6 390.2,742.6 390.6,742.6 391.1,742.6 391.6,742.6 392.1,742.6 392.5,742.6 393.0,742.6 393.5,742.6 394.0,742.6 394.4,742.5 394.9,742.5 395.4,742.5 395.9,742.5 396.3,742.5 396.8,742.5 397.3,742.5 397.8,742.5 398.2,742.5 398.7,742.5 399.2,742.5 399.7,742.5 400.1,742.5 400.6,742.5 401.1,742.5 401.6,742.5 402.0,742.5 402.5,742.5 403.0,742.5 403.5,742.5 403.9,742.5 404.4,742.5 404.9,742.5 405.4,742.5 405.8,742.5 406.3,742.5 406.8,742.4 407.3,742.4 407.7,742.4 408.2,742.4 408.7,742.4 409.2,742.4 409.6,742.4 410.1,742.4 410.6,742.4 411.1,742.4 411.5,742.4 412.0,742.4 412.5,742.4 413.0,742.4 413.4,742.4 413.9,742.4 414.4,742.4 414.8,742.4 415.3,742.4 415.8,742.4 416.3,742.4 416.7,742.4 417.2,742.4 417.7,742.4 418.2,742.4 418.6,742.4 419.1,742.3 419.6,742.3 420.1,742.3 420.5,742.3 421.0,742.7 421.5,749.6 422.0,750.9 422.4,737.2 422.9,737.5 423.4,737.8 423.9,738.2 424.3,738.3 424.8,738.4 425.3,738.4 425.8,738.4 426.2,738.4 426.7,738.5 427.2,738.5 427.7,738.5 428.1,738.5 428.6,738.5 429.1,738.6 429.6,738.6 430.0,738.6 430.5,738.6 431.0,738.7 431.5,738.7 431.9,738.7 432.4,738.7 432.9,738.7 433.4,738.8 433.8,738.8 434.3,738.8 434.8,738.8 435.3,738.9 435.7,738.9 436.2,738.9 436.7,738.9 437.2,738.9 437.6,739.0 438.1,739.0 438.6,739.0 439.1,739.0 439.5,739.1 440.0,739.1 440.5,739.1 441.0,739.1 441.4,739.1 441.9,739.2 442.4,739.2 442.9,739.2 443.3,739.2 443.8,739.3 444.3,739.3 444.7,739.3 445.2,739.3 445.7,739.3 446.2,739.4 446.6,739.4 447.1,739.4 447.6,739.4 448.1,739.5 448.5,739.5 449.0,737.2 449.5,745.6 450.0,758.1 450.4,758.2 450.9,758.3 451.4,758.4 451.9,758.5 452.3,758.6 452.8,758.7 453.3,758.8 453.8,759.0 454.2,759.1 454.7,758.5 455.2,751.8 455.7,751.6 456.1,752.1 456.6,752.6 457.1,752.9 457.6,753.1 458.0,753.3 458.5,753.5 459.0,753.7 459.5,753.9 459.9,754.0 460.4,754.1 460.9,754.1 461.4,754.2 461.8,754.2 462.3,754.3 462.8,754.3 463.3,754.4 463.7,754.4 464.2,754.5 464.7,754.5 465.2,754.6 465.6,754.0 466.1,752.2 466.6,754.3 467.1,754.6 467.5,754.7 468.0,754.7 468.5,754.7 469.0,754.8 469.4,754.8 469.9,754.8 470.4,754.8 470.9,754.9 471.3,754.9 471.8,754.9 472.3,755.0 472.8,755.0 473.2,755.0 473.7,755.1 474.2,755.1 474.6,755.1 475.1,755.2 475.6,755.2 476.1,755.2 476.5,755.2 477.0,755.3 477.5,755.3 478.0,755.3 478.4,755.4 478.9,755.4 479.4,755.4 479.9,755.5 480.3,755.4 480.8,755.4 481.3,755.4 481.8,755.4 482.2,755.4 482.7,755.4 483.2,755.4 483.7,755.4 484.1,755.3 484.6,755.3 485.1,755.3 485.6,755.3 486.0,755.3 486.5,755.3 487.0,755.3 487.5,755.3 487.9,755.3 488.4,755.2 488.9,755.2 489.4,755.2 489.8,755.2 490.3,755.2 490.8,755.2 491.3,751.9 491.7,741.2 492.2,739.2 492.7,739.2 493.2,739.1 493.6,739.1 494.1,739.1 494.6,739.0 495.1,739.0 495.5,739.0 496.0,739.0 496.5,738.9 497.0,738.9 497.4,738.9 497.9,738.8 498.4,738.8 498.9,738.8 499.3,738.8 499.8,738.7 500.3,738.7 500.8,738.7 501.2,738.6 501.7,738.6 502.2,738.6 502.7,738.6 503.1,738.5 503.6,738.5 504.1,738.5 504.5,738.4 505.0,738.4 505.5,738.4 506.0,738.4 506.4,738.3 506.9,738.3 507.4,738.3 507.9,738.2 508.3,738.2 508.8,738.2 509.3,738.2 509.8,738.1 510.2,738.1 510.7,738.1 511.2,737.8 511.7,735.0 512.1,735.6 512.6,736.6 513.1,736.7 513.6,736.7 514.0,736.8 514.5,736.8 515.0,736.8 515.5,736.9 515.9,736.9 516.4,737.0 516.9,737.0 517.4,737.1 517.8,737.1 518.3,737.1 518.8,737.2 519.3,737.2 519.7,737.3 520.2,737.3 520.7,737.4 521.2,737.4 521.6,737.4 522.1,737.5 522.6,737.5 523.1,737.6 523.5,737.6 524.0,737.7 524.5,737.7 525.0,737.8 525.4,737.8 525.9,737.8 526.4,737.9 526.9,737.9 527.3,738.0 527.8,738.0 528.3,738.1 528.8,740.5 529.2,739.5 529.7,742.5 530.2,742.5 530.7,742.6 531.1,742.6 531.6,742.6 532.1,742.6 532.6,742.7 533.0,742.7 533.5,742.7 534.0,742.7 534.4,742.7 534.9,742.8 535.4,742.8 535.9,742.8 536.3,742.8 536.8,742.9 537.3,742.9 537.8,742.9 538.2,742.9 538.7,743.0 539.2,743.0 539.7,743.0 540.1,743.0 540.6,743.0 541.1,743.1 541.6,743.1 542.0,744.9 542.5,746.3 543.0,746.3 543.5,746.3 543.9,746.3 544.4,746.3 544.9,746.3 545.4,746.3 545.8,746.3 546.3,746.3 546.8,746.3 547.3,746.3 547.7,746.3 548.2,746.3 548.7,746.3 549.2,746.3 549.6,746.3 550.1,746.3 550.6,746.3 551.1,746.3 551.5,746.3 552.0,746.3 552.5,746.3 553.0,746.3 553.4,746.3 553.9,746.3 554.4,746.3 554.9,746.3 555.3,746.3 555.8,746.3 556.3,746.3 556.8,746.3 557.2,746.3 557.7,746.3 558.2,746.3 558.7,746.3 559.1,746.3 559.6,746.3 560.1,746.3 560.6,746.3 561.0,746.3 561.5,746.3 562.0,746.3 562.5,746.3 562.9,746.3 563.4,746.3 563.9,746.3 564.3,743.3 564.8,738.9 565.3,738.7 565.8,739.3 566.2,740.0 566.7,740.9 567.2,741.8 567.7,742.8 568.1,750.1 568.6,756.6 569.1,756.6 569.6,756.7 570.0,756.7 570.5,756.8 571.0,756.8 571.5,756.8 571.9,756.9 572.4,756.9 572.9,757.0 573.4,757.0 573.8,757.0 574.3,757.1 574.8,757.1 575.3,757.1 575.7,757.2 576.2,758.1 576.7,759.0 577.2,758.8 577.6,757.1 578.1,755.4 578.6,755.4 579.1,755.4 579.5,755.4 580.0,755.4 580.5,755.4 581.0,755.4 581.4,755.4 581.9,755.4 582.4,755.4 582.9,755.4 583.3,755.4 583.8,755.4 584.3,755.4 584.8,755.4 585.2,755.4 585.7,755.4 586.2,755.4 586.7,755.4 587.1,755.4 587.6,755.4 588.1,755.4 588.6,745.3 589.0,740.4 589.5,737.6 590.0,737.2 590.5,737.2 590.9,737.2 591.4,737.2 591.9,737.2 592.3,737.2 592.8,737.2 593.3,737.2 593.8,737.1 594.2,737.1 594.7,737.1 595.2,737.1 595.7,737.1 596.1,737.1 596.6,737.1 597.1,737.1 597.6,737.1 598.0,737.1 598.5,737.1 599.0,737.1 599.5,737.0 599.9,737.0 600.4,737.0 600.9,737.0 601.4,737.0 601.8,737.0 602.3,737.0 602.8,737.0 603.3,737.0 603.7,737.0 604.2,737.0 604.7,737.0 605.2,736.9 605.6,736.9 606.1,736.6 606.6,735.4 607.1,733.2 607.5,731.2 608.0,738.2 608.5,743.1 609.0,743.1 609.4,743.2 609.9,743.2 610.4,743.2 610.9,743.2 611.3,743.3 611.8,743.3 612.3,743.3 612.8,743.3 613.2,743.4 613.7,743.4 614.2,743.4 614.7,743.4 615.1,743.5 615.6,743.5 616.1,743.5 616.6,743.5 617.0,743.6 617.5,743.6 618.0,743.6 618.5,743.6 618.9,743.7 619.4,745.5 619.9,750.5 620.4,758.0 620.8,761.9 621.3,758.1 621.8,751.5 622.2,750.4 622.7,750.4 623.2,750.4 623.7,750.4 624.1,750.4 624.6,750.4 625.1,750.4 625.6,750.4 626.0,750.4 626.5,750.4 627.0,750.4 627.5,750.4 627.9,750.4 628.4,750.4 628.9,750.4 629.4,750.4 629.8,750.4 630.3,750.4 630.8,750.4 631.3,750.4 631.7,750.4 632.2,750.4 632.7,750.4 633.2,750.4 633.6,750.4 634.1,750.4 634.6,750.4 635.1,750.4 635.5,750.4 636.0,750.4 636.5,750.4 637.0,750.4 637.4,750.4 637.9,750.4 638.4,750.4 638.9,750.4 639.3,750.4 639.8,750.4 640.3,750.4 640.8,747.5 641.2,744.3 641.7,744.2 642.2,744.1 642.7,744.0 643.1,743.9 643.6,743.8 644.1,743.8 644.6,743.7 645.0,743.6 645.5,743.5 646.0,743.4 646.5,742.8 646.9,741.6 647.4,740.5 647.9,740.4 648.4,740.4 648.8,740.4 649.3,740.3 649.8,740.3 650.3,740.3 650.7,740.3 651.2,740.2 651.7,740.2 652.1,740.2 652.6,740.2 653.1,740.1 653.6,740.1 654.0,740.1 654.5,740.1 655.0,740.0 655.5,740.0 655.9,740.0 656.4,740.0 656.9,739.9 657.4,739.9 657.8,739.9 658.3,739.9 658.8,740.0 659.3,740.0 659.7,740.0 660.2,740.1 660.7,740.1 661.2,740.2 661.6,740.2 662.1,740.3 662.6,740.3 663.1,740.4 663.5,740.4 664.0,740.5 664.5,740.5 665.0,740.6 665.4,740.6 665.9,740.7 666.4,740.7 666.9,742.1 667.3,748.3 667.8,754.7 668.3,756.3 668.8,756.3 669.2,756.4 669.7,756.4 670.2,756.4 670.7,756.4 671.1,756.4 671.6,756.4 672.1,756.5 672.6,756.5 673.0,756.5 673.5,756.5 674.0,756.5 674.5,756.6 674.9,756.6 675.4,756.6 675.9,756.6 676.4,756.6 676.8,756.6 677.3,756.7 677.8,756.7 678.3,756.7 678.7,756.7 679.2,756.7 679.7,756.8 680.2,756.8 680.6,756.8 681.1,756.8 681.6,756.8 682.0,756.8 682.5,756.9 683.0,756.9 683.5,755.6 683.9,744.6 684.4,720.5 684.9,720.6 685.4,720.7 685.8,720.8 686.3,721.0 686.8,721.1 687.3,721.2 687.7,721.3 688.2,721.4 688.7,721.5 689.2,721.6 689.6,731.8 690.1,747.4 690.6,759.3 691.1,759.4 691.5,759.6 692.0,759.8 692.5,759.9 693.0,760.1 693.4,760.3 693.9,760.4 694.4,760.6 694.9,760.8 695.3,760.9 695.8,761.7 696.3,759.7 696.8,752.6 697.2,747.4 697.7,746.9 698.2,746.8 698.7,746.7 699.1,746.7 699.6,746.6 700.1,746.6 700.6,746.5 701.0,746.4 701.5,746.4 702.0,746.3 702.5,743.0 702.9,742.2 703.4,742.2 703.9,742.2 704.4,742.2 704.8,742.2 705.3,742.2 705.8,742.2 706.3,742.2 706.7,742.1 707.2,742.1 707.7,742.1 708.2,742.1 708.6,742.1 709.1,742.1 709.6,742.1 710.1,742.1 710.5,742.1 711.0,742.1 711.5,742.1 711.9,742.1 712.4,742.1 712.9,742.0 713.4,742.0 713.8,742.0 714.3,742.0 714.8,742.0 715.3,742.0 715.7,742.0 716.2,742.0 716.7,742.0 717.2,742.0 717.6,742.0 718.1,742.0 718.6,742.0 719.1,741.9 719.5,741.9 720.0,741.9 720.5,741.9 721.0,748.6 721.4,746.6 721.9,732.3 722.4,732.3 722.9,732.4 723.3,732.5 723.8,732.6 724.3,732.7 724.8,732.8 725.2,734.7 725.7,747.3 726.2,750.1 726.7,750.7" fill="none" stroke="#ed7d31" stroke-width="1.05" stroke-linejoin="round" marker-start="url(#m2)" marker-mid="url(#m2)" marker-end="url(#m2)"/>
<text x="84.9" y="716.6" font-size="12" text-anchor="middle" fill="#000">Norm of Y-acceleration</text>
<text x="84.9" y="732.8" font-size="12" text-anchor="middle" fill="#000">(sum of 30 sec)</text>
<text x="84.9" y="749.0" font-size="12" text-anchor="middle" fill="#000">(g)</text>
<path d="M206.5,798.3V878.5" stroke="#333" stroke-width="1.1" fill="none"/>
<path d="M206.0,878.0H727.6" stroke="#444" stroke-width="1.4" fill="none"/>
<text x="200.2" y="801.3" font-size="10.0" text-anchor="end" fill="#000">2000</text>
<text x="200.2" y="821.1" font-size="10.0" text-anchor="end" fill="#000">1500</text>
<text x="200.2" y="840.8" font-size="10.0" text-anchor="end" fill="#000">1000</text>
<text x="200.2" y="860.6" font-size="10.0" text-anchor="end" fill="#000">500</text>
<text x="200.2" y="880.3" font-size="10.0" text-anchor="end" fill="#000">0</text>
<text x="206.5" y="891.1" font-size="10.0" text-anchor="middle" fill="#000">0</text>
<text x="321.8" y="891.1" font-size="10.0" text-anchor="middle" fill="#000">120</text>
<text x="435.0" y="891.1" font-size="10.0" text-anchor="middle" fill="#000">240</text>
<text x="548.8" y="891.1" font-size="10.0" text-anchor="middle" fill="#000">360</text>
<text x="662.1" y="891.1" font-size="10.0" text-anchor="middle" fill="#000">480</text>
<marker id="m3" markerWidth="6" markerHeight="6" refX="3" refY="3" markerUnits="userSpaceOnUse"><circle cx="3" cy="3" r="2.2" fill="#70ad47"/></marker><polyline points="206.5,877.2 207.0,877.2 207.4,871.0 207.9,852.5 208.4,849.5 208.9,837.7 209.3,831.5 209.8,837.7 210.3,858.3 210.8,849.3 211.2,841.5 211.7,867.0 212.2,865.3 212.7,863.0 213.1,851.2 213.6,861.8 214.1,861.3 214.6,851.4 215.0,837.7 215.5,823.4 216.0,849.2 216.5,852.6 216.9,849.9 217.4,860.2 217.9,861.2 218.4,853.1 218.8,852.6 219.3,849.1 219.8,848.6 220.3,859.4 220.7,857.5 221.2,840.1 221.7,844.1 222.2,843.4 222.6,847.6 223.1,835.8 223.6,844.5 224.1,844.0 224.5,848.5 225.0,848.9 225.5,841.5 226.0,840.4 226.4,831.0 226.9,858.7 227.4,863.5 227.9,858.8 228.3,877.2 228.8,872.9 229.3,862.3 229.8,870.4 230.2,866.1 230.7,863.8 231.2,858.9 231.7,860.1 232.1,844.3 232.6,850.7 233.1,863.4 233.6,866.6 234.0,859.3 234.5,858.8 235.0,875.7 235.5,855.5 235.9,833.9 236.4,820.5 236.9,832.0 237.3,853.7 237.8,859.8 238.3,828.2 238.8,863.3 239.2,855.2 239.7,853.6 240.2,851.0 240.7,858.6 241.1,824.8 241.6,832.1 242.1,823.4 242.6,852.9 243.0,836.2 243.5,847.2 244.0,854.8 244.5,858.0 244.9,860.7 245.4,856.6 245.9,857.6 246.4,855.9 246.8,856.1 247.3,853.1 247.8,851.8 248.3,867.2 248.7,856.5 249.2,857.6 249.7,858.9 250.2,856.7 250.6,858.5 251.1,855.5 251.6,850.0 252.1,865.6 252.5,864.1 253.0,875.3 253.5,862.8 254.0,863.5 254.4,855.8 254.9,864.6 255.4,858.0 255.9,859.6 256.3,849.1 256.8,855.0 257.3,857.1 257.8,855.2 258.2,849.0 258.7,846.7 259.2,839.6 259.7,848.7 260.1,846.3 260.6,838.7 261.1,843.3 261.6,838.6 262.0,844.2 262.5,852.2 263.0,858.0 263.5,833.9 263.9,842.6 264.4,826.1 264.9,859.6 265.4,822.9 265.8,822.1 266.3,821.3 266.8,820.5 267.2,820.0 267.7,819.6 268.2,827.7 268.7,818.6 269.1,818.5 269.6,818.4 270.1,818.4 270.6,818.3 271.0,818.2 271.5,837.7 272.0,837.7 272.5,857.7 272.9,851.0 273.4,863.4 273.9,821.6 274.4,846.4 274.8,846.0 275.3,848.7 275.8,844.8 276.3,849.8 276.7,843.2 277.2,841.5 277.7,844.6 278.2,858.7 278.6,856.7 279.1,837.7 279.6,854.3 280.1,855.9 280.5,853.8 281.0,861.1 281.5,870.3 282.0,869.5 282.4,871.0 282.9,851.9 283.4,861.3 283.9,857.1 284.3,870.0 284.8,836.1 285.3,832.9 285.8,829.3 286.2,822.1 286.7,851.0 287.2,829.6 287.7,825.8 288.1,834.8 288.6,850.0 289.1,822.0 289.6,827.1 290.0,825.1 290.5,824.9 291.0,821.0 291.5,821.1 291.9,829.3 292.4,829.6 292.9,863.4 293.4,849.1 293.8,856.7 294.3,848.6 294.8,843.9 295.3,842.7 295.7,844.0 296.2,845.4 296.7,845.9 297.1,844.0 297.6,843.5 298.1,845.0 298.6,843.4 299.0,845.5 299.5,847.3 300.0,845.5 300.5,843.7 300.9,846.2 301.4,844.8 301.9,872.9 302.4,875.7 302.8,857.7 303.3,865.6 303.8,855.5 304.3,850.0 304.7,837.7 305.2,854.7 305.7,861.4 306.2,866.2 306.6,833.4 307.1,820.4 307.6,820.3 308.1,820.3 308.5,820.3 309.0,820.3 309.5,820.3 310.0,820.3 310.4,820.3 310.9,820.3 311.4,820.3 311.9,820.3 312.3,820.3 312.8,820.2 313.3,820.2 313.8,820.2 314.2,820.2 314.7,820.2 315.2,820.2 315.7,820.2 316.1,820.2 316.6,820.2 317.1,820.2 317.6,822.5 318.0,824.0 318.5,824.7 319.0,825.3 319.5,825.0 319.9,824.7 320.4,824.4 320.9,824.1 321.4,823.8 321.8,823.6 322.3,823.4 322.8,823.1 323.3,822.9 323.7,822.7 324.2,822.4 324.7,822.2 325.1,821.9 325.6,821.7 326.1,821.5 326.6,821.3 327.0,821.1 327.5,820.9 328.0,820.7 328.5,820.5 328.9,820.4 329.4,820.3 329.9,820.3 330.4,820.3 330.8,820.2 331.3,820.2 331.8,820.2 332.3,820.1 332.7,820.1 333.2,820.1 333.7,820.1 334.2,820.0 334.6,820.0 335.1,820.0 335.6,848.8 336.1,821.4 336.5,822.2 337.0,822.3 337.5,822.3 338.0,822.3 338.4,822.3 338.9,822.3 339.4,822.3 339.9,822.3 340.3,822.3 340.8,822.3 341.3,822.3 341.8,822.3 342.2,822.3 342.7,822.3 343.2,822.3 343.7,822.4 344.1,822.4 344.6,822.4 345.1,822.4 345.6,822.4 346.0,822.4 346.5,822.4 347.0,822.4 347.5,822.4 347.9,822.4 348.4,822.4 348.9,822.4 349.4,822.4 349.8,822.4 350.3,822.5 350.8,822.5 351.3,822.5 351.7,822.5 352.2,822.5 352.7,822.5 353.2,822.5 353.6,822.5 354.1,822.5 354.6,822.5 355.0,822.8 355.5,823.7 356.0,824.5 356.5,824.5 356.9,824.5 357.4,824.5 357.9,824.5 358.4,824.5 358.8,824.5 359.3,824.5 359.8,824.5 360.3,824.5 360.7,824.5 361.2,824.5 361.7,824.5 362.2,824.4 362.6,824.4 363.1,824.4 363.6,824.4 364.1,824.4 364.5,824.4 365.0,824.4 365.5,824.4 366.0,824.4 366.4,824.4 366.9,824.4 367.4,824.4 367.9,824.4 368.3,824.4 368.8,824.4 369.3,824.4 369.8,824.4 370.2,824.4 370.7,824.3 371.2,824.3 371.7,824.3 372.1,824.3 372.6,824.3 373.1,824.3 373.6,824.3 374.0,824.3 374.5,824.3 375.0,824.3 375.5,824.3 375.9,824.3 376.4,824.3 376.9,824.3 377.4,824.3 377.8,824.3 378.3,824.3 378.8,824.3 379.3,824.2 379.7,824.2 380.2,824.8 380.7,824.7 381.2,824.6 381.6,824.6 382.1,824.5 382.6,824.4 383.1,824.3 383.5,824.3 384.0,824.2 384.5,824.1 384.9,824.1 385.4,824.0 385.9,823.9 386.4,823.7 386.8,823.6 387.3,823.4 387.8,823.3 388.3,823.2 388.7,823.1 389.2,823.1 389.7,823.1 390.2,823.1 390.6,823.1 391.1,823.1 391.6,823.1 392.1,823.1 392.5,823.1 393.0,823.1 393.5,823.1 394.0,823.1 394.4,823.1 394.9,823.1 395.4,823.1 395.9,823.1 396.3,823.1 396.8,823.1 397.3,823.1 397.8,823.1 398.2,823.1 398.7,823.1 399.2,823.1 399.7,823.1 400.1,823.1 400.6,823.1 401.1,823.1 401.6,823.1 402.0,823.1 402.5,823.1 403.0,823.1 403.5,823.1 403.9,823.1 404.4,823.1 404.9,823.1 405.4,823.1 405.8,823.1 406.3,823.1 406.8,823.1 407.3,823.1 407.7,823.1 408.2,823.1 408.7,823.1 409.2,823.1 409.6,823.1 410.1,823.1 410.6,823.1 411.1,823.1 411.5,823.1 412.0,823.1 412.5,823.1 413.0,823.1 413.4,823.1 413.9,823.1 414.4,823.1 414.8,823.1 415.3,823.1 415.8,823.1 416.3,823.1 416.7,823.1 417.2,823.1 417.7,823.1 418.2,823.1 418.6,823.1 419.1,823.1 419.6,823.1 420.1,823.1 420.5,853.1 421.0,823.4 421.5,874.2 422.0,839.4 422.4,823.7 422.9,823.9 423.4,823.9 423.9,823.9 424.3,823.9 424.8,823.9 425.3,823.9 425.8,823.8 426.2,823.8 426.7,823.8 427.2,823.8 427.7,823.8 428.1,823.7 428.6,823.7 429.1,823.7 429.6,823.7 430.0,823.6 430.5,823.6 431.0,823.6 431.5,823.6 431.9,823.6 432.4,823.5 432.9,823.5 433.4,823.5 433.8,823.5 434.3,823.5 434.8,823.4 435.3,823.4 435.7,823.4 436.2,823.4 436.7,823.3 437.2,823.3 437.6,823.3 438.1,823.3 438.6,823.3 439.1,823.2 439.5,823.2 440.0,823.2 440.5,823.2 441.0,823.1 441.4,823.1 441.9,823.1 442.4,823.1 442.9,823.1 443.3,823.0 443.8,823.0 444.3,823.0 444.7,823.0 445.2,823.0 445.7,822.9 446.2,822.9 446.6,822.9 447.1,822.9 447.6,822.8 448.1,822.8 448.5,822.9 449.0,851.1 449.5,823.5 450.0,823.9 450.4,824.2 450.9,824.5 451.4,824.7 451.9,825.0 452.3,825.3 452.8,825.6 453.3,825.9 453.8,826.2 454.2,826.5 454.7,826.8 455.2,827.1 455.7,821.5 456.1,819.6 456.6,819.6 457.1,819.6 457.6,819.5 458.0,819.5 458.5,819.4 459.0,819.4 459.5,819.4 459.9,819.3 460.4,819.3 460.9,819.2 461.4,819.2 461.8,819.2 462.3,819.1 462.8,819.1 463.3,819.1 463.7,819.0 464.2,819.0 464.7,818.9 465.2,818.9 465.6,818.9 466.1,819.9 466.6,828.7 467.1,827.7 467.5,827.4 468.0,827.4 468.5,827.4 469.0,827.4 469.4,827.4 469.9,827.4 470.4,827.4 470.9,827.4 471.3,827.4 471.8,827.4 472.3,827.4 472.8,827.4 473.2,827.4 473.7,827.4 474.2,827.4 474.6,827.4 475.1,827.4 475.6,827.4 476.1,827.4 476.5,827.4 477.0,827.4 477.5,827.4 478.0,827.4 478.4,827.4 478.9,827.4 479.4,827.4 479.9,827.4 480.3,827.4 480.8,827.4 481.3,827.4 481.8,827.4 482.2,827.4 482.7,827.4 483.2,827.4 483.7,827.4 484.1,827.4 484.6,827.4 485.1,827.4 485.6,827.4 486.0,827.4 486.5,827.4 487.0,827.4 487.5,827.4 487.9,827.4 488.4,827.4 488.9,827.4 489.4,827.4 489.8,827.4 490.3,827.4 490.8,827.0 491.3,833.9 491.7,824.9 492.2,824.2 492.7,824.2 493.2,824.3 493.6,824.3 494.1,824.3 494.6,824.3 495.1,824.3 495.5,824.3 496.0,824.3 496.5,824.3 497.0,824.3 497.4,824.3 497.9,824.3 498.4,824.3 498.9,824.3 499.3,824.3 499.8,824.4 500.3,824.4 500.8,824.4 501.2,824.4 501.7,824.4 502.2,824.4 502.7,824.4 503.1,824.4 503.6,824.4 504.1,824.4 504.5,824.4 505.0,824.4 505.5,824.4 506.0,824.4 506.4,824.5 506.9,824.5 507.4,824.5 507.9,824.5 508.3,824.5 508.8,824.5 509.3,824.5 509.8,824.5 510.2,824.5 510.7,824.5 511.2,824.5 511.7,832.2 512.1,824.5 512.6,824.5 513.1,824.6 513.6,824.6 514.0,824.6 514.5,824.6 515.0,824.6 515.5,824.6 515.9,824.6 516.4,824.6 516.9,824.6 517.4,824.6 517.8,824.6 518.3,824.6 518.8,824.6 519.3,824.6 519.7,824.7 520.2,824.7 520.7,824.7 521.2,824.7 521.6,824.7 522.1,824.7 522.6,824.7 523.1,824.7 523.5,824.7 524.0,824.7 524.5,824.7 525.0,824.7 525.4,824.7 525.9,824.7 526.4,824.8 526.9,824.8 527.3,824.8 527.8,824.8 528.3,824.8 528.8,824.8 529.2,824.8 529.7,824.8 530.2,826.4 530.7,826.4 531.1,826.5 531.6,826.5 532.1,826.5 532.6,826.5 533.0,826.5 533.5,826.6 534.0,826.6 534.4,826.6 534.9,826.6 535.4,826.7 535.9,826.7 536.3,826.7 536.8,826.7 537.3,826.8 537.8,826.8 538.2,826.8 538.7,826.8 539.2,826.9 539.7,826.9 540.1,826.9 540.6,826.9 541.1,827.0 541.6,827.0 542.0,829.1 542.5,832.3 543.0,832.9 543.5,832.9 543.9,832.9 544.4,832.9 544.9,832.9 545.4,832.9 545.8,832.9 546.3,832.9 546.8,832.9 547.3,832.9 547.7,832.9 548.2,832.9 548.7,832.9 549.2,832.9 549.6,832.9 550.1,833.0 550.6,833.0 551.1,833.0 551.5,833.0 552.0,833.0 552.5,833.0 553.0,833.0 553.4,833.0 553.9,833.0 554.4,833.0 554.9,833.0 555.3,833.0 555.8,833.0 556.3,833.0 556.8,833.0 557.2,833.0 557.7,833.1 558.2,833.1 558.7,833.1 559.1,833.1 559.6,833.1 560.1,833.1 560.6,833.1 561.0,833.1 561.5,833.1 562.0,833.1 562.5,833.1 562.9,833.1 563.4,833.1 563.9,833.1 564.3,833.1 564.8,837.0 565.3,858.4 565.8,827.6 566.2,826.0 566.7,825.6 567.2,825.3 567.7,825.0 568.1,824.5 568.6,819.6 569.1,818.5 569.6,818.4 570.0,818.4 570.5,818.4 571.0,818.4 571.5,818.4 571.9,818.4 572.4,818.3 572.9,818.3 573.4,818.3 573.8,818.3 574.3,818.3 574.8,818.3 575.3,818.3 575.7,818.2 576.2,818.2 576.7,818.2 577.2,818.2 577.6,819.8 578.1,826.9 578.6,827.0 579.1,827.0 579.5,827.0 580.0,827.0 580.5,827.0 581.0,827.0 581.4,827.0 581.9,827.0 582.4,827.0 582.9,827.0 583.3,827.0 583.8,827.0 584.3,827.0 584.8,827.0 585.2,827.0 585.7,827.0 586.2,827.0 586.7,827.0 587.1,827.0 587.6,827.0 588.1,827.0 588.6,827.8 589.0,829.6 589.5,827.1 590.0,825.2 590.5,825.2 590.9,825.2 591.4,825.2 591.9,825.2 592.3,825.2 592.8,825.2 593.3,825.2 593.8,825.1 594.2,825.1 594.7,825.1 595.2,825.1 595.7,825.1 596.1,825.1 596.6,825.1 597.1,825.1 597.6,825.1 598.0,825.1 598.5,825.1 599.0,825.0 599.5,825.0 599.9,825.0 600.4,825.0 600.9,825.0 601.4,825.0 601.8,825.0 602.3,825.0 602.8,825.0 603.3,825.0 603.7,825.0 604.2,824.9 604.7,824.9 605.2,825.2 605.6,828.3 606.1,830.3 606.6,832.1 607.1,833.9 607.5,835.8 608.0,837.7 608.5,826.8 609.0,822.9 609.4,822.9 609.9,822.8 610.4,822.8 610.9,822.8 611.3,822.8 611.8,822.8 612.3,822.8 612.8,822.8 613.2,822.7 613.7,822.7 614.2,822.7 614.7,822.7 615.1,822.7 615.6,822.7 616.1,822.7 616.6,822.7 617.0,822.6 617.5,822.6 618.0,822.6 618.5,822.6 618.9,822.6 619.4,822.0 619.9,820.8 620.4,820.8 620.8,820.8 621.3,820.8 621.8,828.7 622.2,820.8 622.7,820.8 623.2,820.8 623.7,820.8 624.1,820.8 624.6,820.7 625.1,820.7 625.6,820.7 626.0,820.7 626.5,820.7 627.0,820.7 627.5,820.7 627.9,820.7 628.4,820.7 628.9,820.7 629.4,820.7 629.8,820.7 630.3,820.7 630.8,820.7 631.3,820.7 631.7,820.6 632.2,820.6 632.7,820.6 633.2,820.6 633.6,820.6 634.1,820.6 634.6,820.6 635.1,820.6 635.5,820.6 636.0,820.6 636.5,820.6 637.0,820.6 637.4,820.6 637.9,820.6 638.4,820.6 638.9,820.5 639.3,820.5 639.8,820.5 640.3,820.5 640.8,823.0 641.2,824.1 641.7,824.1 642.2,824.1 642.7,824.1 643.1,824.2 643.6,824.2 644.1,824.2 644.6,824.2 645.0,824.2 645.5,824.3 646.0,824.3 646.5,824.3 646.9,824.3 647.4,824.8 647.9,825.4 648.4,825.5 648.8,825.5 649.3,825.5 649.8,825.5 650.3,825.5 650.7,825.5 651.2,825.5 651.7,825.5 652.1,825.4 652.6,825.4 653.1,825.4 653.6,825.4 654.0,825.4 654.5,825.4 655.0,825.4 655.5,825.4 655.9,825.4 656.4,825.4 656.9,825.4 657.4,825.4 657.8,825.4 658.3,825.4 658.8,825.3 659.3,825.3 659.7,825.3 660.2,825.3 660.7,825.3 661.2,825.3 661.6,825.3 662.1,825.3 662.6,825.3 663.1,825.3 663.5,825.3 664.0,825.3 664.5,825.3 665.0,825.2 665.4,825.2 665.9,825.2 666.4,825.2 666.9,824.9 667.3,823.3 667.8,822.3 668.3,822.3 668.8,822.3 669.2,822.3 669.7,822.3 670.2,822.3 670.7,822.3 671.1,822.3 671.6,822.3 672.1,822.3 672.6,822.3 673.0,822.3 673.5,822.3 674.0,822.3 674.5,822.3 674.9,822.3 675.4,822.3 675.9,822.3 676.4,822.3 676.8,822.3 677.3,822.3 677.8,822.3 678.3,822.3 678.7,822.3 679.2,822.3 679.7,822.3 680.2,822.3 680.6,822.3 681.1,823.1 681.6,824.5 682.0,824.9 682.5,824.9 683.0,824.9 683.5,824.9 683.9,831.2 684.4,846.9 684.9,846.6 685.4,846.3 685.8,846.1 686.3,845.8 686.8,845.5 687.3,845.2 687.7,845.0 688.2,844.7 688.7,844.5 689.2,844.2 689.6,844.0 690.1,830.7 690.6,822.9 691.1,823.0 691.5,823.1 692.0,823.2 692.5,823.4 693.0,823.5 693.4,823.6 693.9,823.7 694.4,823.8 694.9,824.0 695.3,825.4 695.8,831.1 696.3,838.2 696.8,839.9 697.2,839.9 697.7,840.0 698.2,840.0 698.7,840.0 699.1,840.0 699.6,840.1 700.1,840.1 700.6,840.1 701.0,840.1 701.5,840.1 702.0,840.2 702.5,840.2 702.9,830.4 703.4,826.2 703.9,825.8 704.4,825.8 704.8,825.7 705.3,825.7 705.8,825.7 706.3,825.7 706.7,825.7 707.2,825.6 707.7,825.6 708.2,825.6 708.6,825.6 709.1,825.6 709.6,825.5 710.1,825.5 710.5,825.5 711.0,825.5 711.5,825.5 711.9,825.4 712.4,825.4 712.9,825.4 713.4,825.4 713.8,825.4 714.3,825.3 714.8,825.3 715.3,825.3 715.7,825.3 716.2,825.3 716.7,825.2 717.2,825.2 717.6,823.9 718.1,822.3 718.6,822.3 719.1,822.3 719.5,822.3 720.0,822.3 720.5,822.8 721.0,833.7 721.4,844.0 721.9,834.5 722.4,828.1 722.9,827.8 723.3,827.6 723.8,827.3 724.3,827.0 724.8,826.8 725.2,826.5 725.7,830.0 726.2,836.8 726.7,839.0" fill="none" stroke="#70ad47" stroke-width="1.05" stroke-linejoin="round" marker-start="url(#m3)" marker-mid="url(#m3)" marker-end="url(#m3)"/>
<text x="84.9" y="821.5" font-size="12" text-anchor="middle" fill="#000">Norm of Z-acceleration</text>
<text x="84.9" y="837.7" font-size="12" text-anchor="middle" fill="#000">(sum of 30 sec)</text>
<text x="84.9" y="853.9" font-size="12" text-anchor="middle" fill="#000">(g)</text>
<path d="M206.8,912.5V992.8" stroke="#555" stroke-width="1.1" fill="none"/>
<path d="M206.3,992.3H727.6" stroke="#6e6e6e" stroke-width="1.4" fill="none"/>
<text x="200.2" y="915.5" font-size="10.0" text-anchor="end" fill="#000">1550</text>
<text x="200.2" y="931.4" font-size="10.0" text-anchor="end" fill="#000">1530</text>
<text x="200.2" y="947.3" font-size="10.0" text-anchor="end" fill="#000">1510</text>
<text x="200.2" y="963.2" font-size="10.0" text-anchor="end" fill="#000">1490</text>
<text x="200.2" y="979.1" font-size="10.0" text-anchor="end" fill="#000">1470</text>
<text x="200.2" y="995.0" font-size="10.0" text-anchor="end" fill="#000">1450</text>
<text x="206.8" y="1005.6" font-size="10.0" text-anchor="middle" fill="#000">0</text>
<text x="321.8" y="1005.6" font-size="10.0" text-anchor="middle" fill="#000">120</text>
<text x="435.0" y="1005.6" font-size="10.0" text-anchor="middle" fill="#000">240</text>
<text x="548.8" y="1005.6" font-size="10.0" text-anchor="middle" fill="#000">360</text>
<text x="662.1" y="1005.6" font-size="10.0" text-anchor="middle" fill="#000">480</text>
<marker id="m4" markerWidth="6" markerHeight="6" refX="3" refY="3" markerUnits="userSpaceOnUse"><circle cx="3" cy="3" r="2.2" fill="#7f7d80"/></marker><polyline points="206.8,954.2 207.3,940.8 207.7,922.0 208.2,934.8 208.7,968.6 209.2,976.0 209.6,973.6 210.1,974.0 210.6,968.7 211.1,965.1 211.5,967.9 212.0,963.9 212.5,953.8 213.0,942.2 213.4,945.4 213.9,948.3 214.4,953.4 214.9,947.3 215.3,954.9 215.8,956.3 216.3,951.1 216.8,957.3 217.2,957.9 217.7,959.7 218.2,960.2 218.7,960.1 219.1,961.8 219.6,965.5 220.1,965.8 220.6,950.8 221.0,968.4 221.5,967.4 222.0,968.6 222.5,968.4 222.9,974.3 223.4,969.9 223.9,967.3 224.3,970.1 224.8,964.4 225.3,957.0 225.8,957.1 226.2,950.5 226.7,951.6 227.2,944.8 227.7,945.7 228.1,947.8 228.6,945.6 229.1,939.1 229.6,945.8 230.0,943.0 230.5,943.2 231.0,944.1 231.5,946.1 231.9,940.8 232.4,946.7 232.9,947.8 233.4,947.9 233.8,941.6 234.3,944.6 234.8,945.1 235.3,945.5 235.7,944.5 236.2,940.8 236.7,946.8 237.2,944.5 237.6,954.9 238.1,957.8 238.6,962.8 239.0,956.2 239.5,954.6 240.0,960.4 240.5,953.4 240.9,960.1 241.4,960.2 241.9,961.5 242.4,959.5 242.8,952.0 243.3,950.4 243.8,950.4 244.3,953.1 244.7,947.6 245.2,951.8 245.7,952.7 246.2,951.1 246.6,951.5 247.1,947.8 247.6,946.4 248.1,946.3 248.5,949.8 249.0,944.2 249.5,947.0 250.0,946.9 250.4,947.9 250.9,943.3 251.4,946.8 251.9,949.6 252.3,945.8 252.8,945.9 253.3,949.0 253.8,947.3 254.2,944.1 254.7,940.3 255.2,945.7 255.6,939.9 256.1,943.8 256.6,948.5 257.1,950.2 257.5,949.1 258.0,951.5 258.5,955.7 259.0,956.8 259.4,953.4 259.9,952.9 260.4,956.3 260.9,955.1 261.3,958.1 261.8,954.2 262.3,953.9 262.8,952.3 263.2,955.3 263.7,956.2 264.2,949.3 264.7,953.8 265.1,950.0 265.6,951.4 266.1,956.9 266.6,953.3 267.0,953.9 267.5,954.9 268.0,954.4 268.5,948.8 268.9,955.2 269.4,949.2 269.9,953.6 270.3,952.8 270.8,951.8 271.3,955.7 271.8,950.7 272.2,954.0 272.7,947.6 273.2,941.0 273.7,947.4 274.1,945.1 274.6,945.8 275.1,943.0 275.6,945.4 276.0,944.2 276.5,947.4 277.0,945.8 277.5,944.5 277.9,946.1 278.4,945.2 278.9,950.0 279.4,950.2 279.8,943.5 280.3,945.3 280.8,938.5 281.3,938.3 281.7,944.0 282.2,946.3 282.7,945.9 283.2,946.1 283.6,947.4 284.1,952.0 284.6,950.2 285.1,953.9 285.5,955.8 286.0,957.3 286.5,955.3 286.9,957.8 287.4,952.5 287.9,956.1 288.4,954.0 288.8,951.5 289.3,950.4 289.8,947.9 290.3,951.0 290.7,949.2 291.2,949.5 291.7,949.9 292.2,950.9 292.6,965.0 293.1,951.3 293.6,954.1 294.1,953.8 294.5,963.6 295.0,973.8 295.5,974.9 296.0,971.6 296.4,970.0 296.9,974.4 297.4,969.6 297.9,974.0 298.3,972.5 298.8,970.9 299.3,970.4 299.8,976.1 300.2,973.2 300.7,969.6 301.2,973.6 301.6,965.3 302.1,966.4 302.6,960.8 303.1,957.2 303.5,956.6 304.0,951.1 304.5,976.2 305.0,953.1 305.4,939.1 305.9,946.2 306.4,951.9 306.9,955.1 307.3,955.0 307.8,955.0 308.3,955.0 308.8,954.9 309.2,954.9 309.7,954.8 310.2,954.8 310.7,954.8 311.1,954.7 311.6,954.7 312.1,954.7 312.6,954.6 313.0,954.6 313.5,954.5 314.0,954.5 314.5,954.5 314.9,954.4 315.4,954.4 315.9,954.4 316.4,954.3 316.8,954.3 317.3,954.2 317.8,954.2 318.2,951.9 318.7,949.9 319.2,949.7 319.7,949.6 320.1,949.4 320.6,949.3 321.1,949.1 321.6,949.2 322.0,949.4 322.5,949.6 323.0,949.8 323.5,950.0 323.9,950.2 324.4,950.4 324.9,950.5 325.4,950.7 325.8,950.8 326.3,950.7 326.8,950.7 327.3,950.7 327.7,950.6 328.2,950.6 328.7,950.6 329.2,950.6 329.6,950.5 330.1,950.5 330.6,950.5 331.1,950.4 331.5,950.4 332.0,950.4 332.5,950.4 333.0,950.3 333.4,950.3 333.9,950.3 334.4,950.2 334.8,950.2 335.3,953.3 335.8,956.5 336.3,956.5 336.7,956.5 337.2,956.5 337.7,956.5 338.2,956.6 338.6,956.6 339.1,956.6 339.6,956.6 340.1,956.6 340.5,956.6 341.0,956.6 341.5,956.7 342.0,956.7 342.4,956.7 342.9,956.7 343.4,956.7 343.9,956.7 344.3,956.7 344.8,956.8 345.3,956.8 345.8,956.8 346.2,956.8 346.7,956.8 347.2,956.8 347.7,956.8 348.1,956.9 348.6,956.9 349.1,956.9 349.5,956.9 350.0,956.9 350.5,956.9 351.0,956.9 351.4,957.0 351.9,957.0 352.4,957.0 352.9,957.0 353.3,957.0 353.8,957.0 354.3,957.0 354.8,957.1 355.2,956.6 355.7,956.0 356.2,955.6 356.7,955.6 357.1,955.6 357.6,955.6 358.1,955.6 358.6,955.6 359.0,955.6 359.5,955.6 360.0,955.6 360.5,955.6 360.9,955.6 361.4,955.6 361.9,955.6 362.4,955.6 362.8,955.6 363.3,955.5 363.8,955.5 364.3,955.5 364.7,955.5 365.2,955.5 365.7,955.5 366.1,955.5 366.6,955.5 367.1,955.5 367.6,955.5 368.0,955.5 368.5,955.5 369.0,955.5 369.5,955.5 369.9,955.5 370.4,955.5 370.9,955.5 371.4,955.5 371.8,955.4 372.3,955.4 372.8,955.4 373.3,955.4 373.7,955.4 374.2,955.4 374.7,955.4 375.2,955.4 375.6,955.4 376.1,955.4 376.6,955.4 377.1,955.4 377.5,955.4 378.0,955.4 378.5,955.4 379.0,955.4 379.4,955.4 379.9,955.4 380.4,955.3 380.8,955.3 381.3,955.2 381.8,955.2 382.3,955.1 382.7,955.1 383.2,955.0 383.7,955.0 384.2,954.9 384.6,954.9 385.1,954.8 385.6,954.8 386.1,954.8 386.5,954.8 387.0,954.8 387.5,954.8 388.0,954.8 388.4,954.8 388.9,954.8 389.4,954.8 389.9,954.8 390.3,954.9 390.8,954.9 391.3,954.9 391.8,954.9 392.2,954.9 392.7,954.9 393.2,954.9 393.7,954.9 394.1,954.9 394.6,954.9 395.1,954.9 395.6,954.9 396.0,955.0 396.5,955.0 397.0,955.0 397.4,955.0 397.9,955.0 398.4,955.0 398.9,955.0 399.3,955.0 399.8,955.0 400.3,955.0 400.8,955.0 401.2,955.0 401.7,955.0 402.2,955.1 402.7,955.1 403.1,955.1 403.6,955.1 404.1,955.1 404.6,955.1 405.0,955.1 405.5,955.1 406.0,955.1 406.5,955.1 406.9,955.1 407.4,955.1 407.9,955.1 408.4,955.2 408.8,955.2 409.3,955.2 409.8,955.2 410.3,955.2 410.7,955.2 411.2,955.2 411.7,955.2 412.2,955.2 412.6,955.2 413.1,955.2 413.6,955.2 414.0,955.3 414.5,955.3 415.0,955.3 415.5,955.3 415.9,955.3 416.4,955.3 416.9,955.3 417.4,955.3 417.8,955.3 418.3,955.3 418.8,955.3 419.3,955.3 419.7,955.3 420.2,955.4 420.7,955.4 421.2,960.5 421.6,952.2 422.1,955.4 422.6,955.4 423.1,955.4 423.5,955.4 424.0,955.4 424.5,955.4 425.0,955.4 425.4,955.4 425.9,955.4 426.4,955.4 426.9,955.4 427.3,955.4 427.8,955.4 428.3,955.4 428.7,955.4 429.2,955.4 429.7,955.4 430.2,955.5 430.6,955.5 431.1,955.5 431.6,955.5 432.1,955.5 432.5,955.5 433.0,955.5 433.5,955.5 434.0,955.5 434.4,955.5 434.9,955.5 435.4,955.5 435.9,955.5 436.3,955.5 436.8,955.5 437.3,955.5 437.8,955.5 438.2,955.5 438.7,955.5 439.2,955.5 439.7,955.5 440.1,955.6 440.6,955.6 441.1,955.6 441.6,955.6 442.0,955.6 442.5,955.6 443.0,955.6 443.5,955.6 443.9,955.6 444.4,955.6 444.9,955.6 445.3,955.6 445.8,955.6 446.3,955.6 446.8,955.6 447.2,955.6 447.7,955.6 448.2,955.9 448.7,957.0 449.1,948.2 449.6,946.3 450.1,946.3 450.6,946.3 451.0,946.4 451.5,946.4 452.0,946.5 452.5,946.5 452.9,946.6 453.4,946.6 453.9,946.7 454.4,946.7 454.8,946.8 455.3,947.8 455.8,954.4 456.3,954.3 456.7,953.9 457.2,953.4 457.7,953.1 458.2,953.1 458.6,953.1 459.1,953.1 459.6,953.1 460.0,953.1 460.5,953.1 461.0,953.1 461.5,953.1 461.9,953.1 462.4,953.1 462.9,953.1 463.4,953.1 463.8,953.1 464.3,953.1 464.8,953.1 465.3,953.1 465.7,951.4 466.2,947.9 466.7,946.8 467.2,946.7 467.6,946.6 468.1,946.6 468.6,946.5 469.1,946.5 469.5,946.4 470.0,946.4 470.5,946.3 471.0,946.3 471.4,946.2 471.9,946.2 472.4,946.1 472.9,946.1 473.3,946.0 473.8,946.0 474.3,945.9 474.8,945.9 475.2,946.0 475.7,946.0 476.2,946.0 476.6,946.0 477.1,946.0 477.6,946.0 478.1,946.0 478.5,946.0 479.0,946.0 479.5,946.0 480.0,946.0 480.4,946.0 480.9,946.0 481.4,946.1 481.9,946.1 482.3,946.1 482.8,946.1 483.3,946.1 483.8,946.1 484.2,946.1 484.7,946.1 485.2,946.1 485.7,946.1 486.1,946.1 486.6,946.1 487.1,946.1 487.6,946.2 488.0,946.2 488.5,946.2 489.0,946.2 489.5,946.2 489.9,946.2 490.4,946.2 490.9,946.2 491.4,946.2 491.8,951.2 492.3,954.6 492.8,955.2 493.2,955.3 493.7,955.3 494.2,955.3 494.7,955.3 495.1,955.3 495.6,955.3 496.1,955.3 496.6,955.3 497.0,955.3 497.5,955.3 498.0,955.3 498.5,955.3 498.9,955.3 499.4,955.2 499.9,955.2 500.4,955.2 500.8,955.2 501.3,955.2 501.8,955.2 502.3,955.2 502.7,955.2 503.2,955.2 503.7,955.2 504.2,955.2 504.6,955.2 505.1,955.2 505.6,955.1 506.1,955.1 506.5,955.1 507.0,955.1 507.5,955.1 507.9,955.1 508.4,955.1 508.9,955.1 509.4,955.1 509.8,955.1 510.3,955.1 510.8,954.5 511.3,953.4 511.7,952.3 512.2,953.9 512.7,955.6 513.2,956.2 513.6,956.2 514.1,956.2 514.6,956.2 515.1,956.2 515.5,956.2 516.0,956.2 516.5,956.2 517.0,956.2 517.4,956.2 517.9,956.2 518.4,956.2 518.9,956.2 519.3,956.2 519.8,956.2 520.3,956.2 520.8,956.2 521.2,956.2 521.7,956.2 522.2,956.2 522.7,956.2 523.1,956.2 523.6,956.2 524.1,956.2 524.5,956.2 525.0,956.2 525.5,956.2 526.0,956.2 526.4,956.2 526.9,956.2 527.4,956.2 527.9,956.2 528.3,956.2 528.8,956.2 529.3,956.2 529.8,956.2 530.2,956.9 530.7,956.9 531.2,956.8 531.7,956.8 532.1,956.7 532.6,956.7 533.1,956.6 533.6,956.5 534.0,956.5 534.5,956.4 535.0,956.4 535.5,956.3 535.9,956.3 536.4,956.2 536.9,956.2 537.4,956.1 537.8,956.1 538.3,956.0 538.8,956.0 539.2,955.9 539.7,955.9 540.2,955.8 540.7,955.8 541.1,955.8 541.6,955.8 542.1,955.8 542.6,955.8 543.0,955.8 543.5,955.8 544.0,955.8 544.5,955.8 544.9,955.8 545.4,955.8 545.9,955.8 546.4,955.8 546.8,955.8 547.3,955.8 547.8,955.8 548.3,955.8 548.7,955.8 549.2,955.8 549.7,955.8 550.2,955.8 550.6,955.8 551.1,955.8 551.6,955.8 552.1,955.8 552.5,955.8 553.0,955.8 553.5,955.8 554.0,955.8 554.4,955.8 554.9,955.8 555.4,955.8 555.8,955.8 556.3,955.8 556.8,955.8 557.3,955.8 557.7,955.8 558.2,955.8 558.7,955.8 559.2,955.8 559.6,955.8 560.1,955.8 560.6,955.8 561.1,955.8 561.5,955.8 562.0,955.8 562.5,955.8 563.0,955.8 563.4,955.8 563.9,955.8 564.4,954.5 564.9,952.9 565.3,948.5 565.8,949.6 566.3,954.0 566.8,953.9 567.2,953.8 567.7,953.6 568.2,953.5 568.7,953.4 569.1,953.3 569.6,953.2 570.1,953.1 570.5,953.0 571.0,952.9 571.5,952.8 572.0,952.6 572.4,952.5 572.9,952.3 573.4,952.1 573.9,951.9 574.3,951.8 574.8,951.6 575.3,951.4 575.8,951.3 576.2,951.1 576.7,952.2 577.2,953.8 577.7,954.9 578.1,954.9 578.6,954.9 579.1,954.9 579.6,954.9 580.0,955.0 580.5,955.0 581.0,955.0 581.5,955.0 581.9,955.0 582.4,955.0 582.9,955.0 583.4,955.0 583.8,955.1 584.3,955.1 584.8,955.1 585.3,955.1 585.7,955.1 586.2,955.1 586.7,955.1 587.1,955.2 587.6,955.2 588.1,955.2 588.6,956.8 589.0,957.5 589.5,953.2 590.0,954.3 590.5,955.8 590.9,955.8 591.4,955.7 591.9,955.7 592.4,955.7 592.8,955.7 593.3,955.7 593.8,955.7 594.3,955.7 594.7,955.7 595.2,955.7 595.7,955.7 596.2,955.7 596.6,955.6 597.1,955.6 597.6,955.6 598.1,955.6 598.5,955.6 599.0,955.6 599.5,955.6 600.0,955.6 600.4,955.6 600.9,955.6 601.4,955.5 601.9,955.5 602.3,955.5 602.8,955.5 603.3,955.5 603.7,955.5 604.2,955.5 604.7,955.5 605.2,955.4 605.6,954.7 606.1,954.0 606.6,955.4 607.1,958.0 607.5,959.8 608.0,957.4 608.5,955.8 609.0,955.8 609.4,955.8 609.9,955.8 610.4,955.8 610.9,955.8 611.3,955.8 611.8,955.8 612.3,955.8 612.8,955.8 613.2,955.8 613.7,955.8 614.2,955.8 614.7,955.8 615.1,955.8 615.6,955.8 616.1,955.8 616.6,955.8 617.0,955.8 617.5,955.8 618.0,955.8 618.4,955.8 618.9,955.8 619.4,953.3 619.9,948.1 620.3,948.1 620.8,948.1 621.3,948.1 621.8,950.3 622.2,954.1 622.7,954.4 623.2,954.8 623.7,954.9 624.1,954.9 624.6,954.9 625.1,954.9 625.6,954.9 626.0,954.9 626.5,954.9 627.0,954.9 627.5,954.9 627.9,954.9 628.4,954.9 628.9,954.9 629.4,954.9 629.8,954.9 630.3,954.9 630.8,954.9 631.3,954.9 631.7,954.9 632.2,954.9 632.7,954.9 633.2,954.9 633.6,954.9 634.1,954.9 634.6,954.9 635.0,954.9 635.5,954.9 636.0,954.9 636.5,954.9 636.9,954.9 637.4,954.9 637.9,954.9 638.4,954.9 638.8,954.9 639.3,954.9 639.8,954.8 640.3,954.0 640.7,953.2 641.2,953.2 641.7,953.8 642.2,954.5 642.6,955.1 643.1,955.3 643.6,955.5 644.1,955.7 644.5,955.9 645.0,956.0 645.5,956.2 646.0,956.4 646.4,956.5 646.9,956.7 647.4,956.9 647.9,957.1 648.3,957.2 648.8,957.4 649.3,957.5 649.7,957.4 650.2,957.3 650.7,957.2 651.2,957.1 651.6,957.0 652.1,956.9 652.6,956.8 653.1,956.7 653.5,956.6 654.0,956.6 654.5,956.5 655.0,956.4 655.4,956.3 655.9,956.2 656.4,956.1 656.9,956.0 657.3,955.9 657.8,955.8 658.3,955.8 658.8,955.9 659.2,956.0 659.7,956.1 660.2,956.2 660.7,956.3 661.1,956.4 661.6,956.6 662.1,956.7 662.6,956.8 663.0,956.9 663.5,957.0 664.0,957.1 664.5,957.2 664.9,957.3 665.4,957.4 665.9,957.5 666.3,957.1 666.8,956.1 667.3,955.0 667.8,954.9 668.2,954.9 668.7,954.9 669.2,954.9 669.7,954.9 670.1,954.9 670.6,954.9 671.1,954.9 671.6,954.9 672.0,954.9 672.5,954.9 673.0,954.9 673.5,954.9 673.9,954.9 674.4,954.9 674.9,954.9 675.4,954.9 675.8,954.9 676.3,954.9 676.8,954.9 677.3,954.9 677.7,954.9 678.2,954.9 678.7,954.9 679.2,954.9 679.6,954.9 680.1,954.9 680.6,954.9 681.0,954.9 681.5,954.9 682.0,954.9 682.5,954.9 682.9,954.9 683.4,954.9 683.9,954.9 684.4,954.9 684.8,954.2 685.3,953.6 685.8,952.9 686.3,953.1 686.7,953.4 687.2,953.7 687.7,953.9 688.2,954.2 688.6,954.5 689.1,952.8 689.6,950.2 690.1,949.8 690.5,949.6 691.0,949.4 691.5,949.3 692.0,949.1 692.4,949.0 692.9,948.8 693.4,948.6 693.9,948.2 694.3,947.8 694.8,947.5 695.3,947.1 695.8,946.7 696.2,951.0 696.7,952.9 697.2,953.1 697.6,953.3 698.1,953.5 698.6,953.6 699.1,953.8 699.5,954.0 700.0,954.2 700.5,954.4 701.0,954.7 701.4,954.9 701.9,955.1 702.4,955.4 702.9,955.6 703.3,956.0 703.8,956.8 704.3,957.5 704.8,957.5 705.2,957.5 705.7,957.5 706.2,957.5 706.7,957.5 707.1,957.5 707.6,957.5 708.1,957.5 708.6,957.5 709.0,957.5 709.5,957.5 710.0,957.5 710.5,957.5 710.9,957.5 711.4,957.5 711.9,957.5 712.4,957.5 712.8,957.5 713.3,957.5 713.8,957.5 714.2,957.5 714.7,957.5 715.2,957.5 715.7,957.5 716.1,957.5 716.6,957.5 717.1,957.5 717.6,957.5 718.0,957.5 718.5,957.5 719.0,957.5 719.5,957.5 719.9,952.8 720.4,946.3 720.9,952.5 721.4,958.7 721.8,958.7 722.3,958.7 722.8,958.7 723.3,958.7 723.7,958.7 724.2,958.7 724.7,958.7 725.2,958.7 725.6,952.7 726.1,949.9 726.6,957.5" fill="none" stroke="#7f7d80" stroke-width="1.05" stroke-linejoin="round" marker-start="url(#m4)" marker-mid="url(#m4)" marker-end="url(#m4)"/>
<text x="84.9" y="937.9" font-size="12" text-anchor="middle" fill="#000">Norm of triaxial acceleration</text>
<text x="84.9" y="954.1" font-size="12" text-anchor="middle" fill="#000">(sum of 30 sec)</text>
<text x="84.9" y="970.3" font-size="12" text-anchor="middle" fill="#000">(g)</text>
<path d="M206.5,1028.0V1107.0" stroke="#222" stroke-width="1.1" fill="none"/>
<path d="M206.0,1106.5H727.6" stroke="#222" stroke-width="1.4" fill="none"/>
<text x="200.2" y="1041.1" font-size="10.0" text-anchor="end" fill="#000">300</text>
<text x="200.2" y="1063.8" font-size="10.0" text-anchor="end" fill="#000">200</text>
<text x="200.2" y="1086.5" font-size="10.0" text-anchor="end" fill="#000">100</text>
<text x="200.2" y="1109.2" font-size="10.0" text-anchor="end" fill="#000">0</text>
<text x="206.5" y="1119.5" font-size="10.0" text-anchor="middle" fill="#000">0</text>
<text x="321.8" y="1119.5" font-size="10.0" text-anchor="middle" fill="#000">120</text>
<text x="435.0" y="1119.5" font-size="10.0" text-anchor="middle" fill="#000">240</text>
<text x="548.9" y="1119.5" font-size="10.0" text-anchor="middle" fill="#000">360</text>
<text x="663.1" y="1119.5" font-size="10.0" text-anchor="middle" fill="#000">480</text>
<marker id="m5" markerWidth="6" markerHeight="6" refX="3" refY="3" markerUnits="userSpaceOnUse"><circle cx="3" cy="3" r="2.2" fill="#f0b323"/></marker><polyline points="206.5,1105.6 207.0,1087.0 207.5,1068.5 207.9,1035.4 208.4,1082.8 208.9,1094.1 209.4,1096.3 209.8,1099.5 210.3,1098.2 210.8,1098.3 211.3,1101.2 211.7,1086.0 212.2,1085.3 212.7,1085.8 213.2,1084.2 213.6,1090.7 214.1,1095.8 214.6,1102.3 215.1,1086.7 215.5,1082.2 216.0,1088.4 216.5,1090.9 217.0,1094.2 217.4,1089.2 217.9,1100.2 218.4,1097.4 218.9,1100.6 219.3,1088.9 219.8,1090.0 220.3,1097.8 220.8,1084.5 221.2,1104.3 221.7,1100.3 222.2,1088.5 222.7,1087.4 223.1,1091.6 223.6,1101.0 224.1,1097.1 224.6,1089.4 225.0,1089.3 225.5,1095.3 226.0,1105.7 226.5,1103.3 226.9,1105.8 227.4,1102.6 227.9,1106.1 228.4,1102.7 228.8,1105.0 229.3,1101.2 229.8,1099.8 230.3,1097.6 230.8,1100.1 231.2,1104.9 231.7,1105.7 232.2,1101.7 232.7,1101.5 233.1,1103.4 233.6,1104.1 234.1,1099.6 234.6,1103.6 235.0,1100.5 235.5,1096.2 236.0,1101.5 236.5,1102.2 236.9,1102.0 237.4,1104.3 237.9,1102.8 238.4,1101.7 238.8,1102.5 239.3,1103.1 239.8,1105.0 240.3,1099.9 240.7,1104.7 241.2,1103.8 241.7,1105.3 242.2,1102.1 242.6,1100.6 243.1,1100.0 243.6,1103.1 244.1,1106.0 244.5,1101.3 245.0,1102.0 245.5,1104.9 246.0,1102.0 246.4,1105.4 246.9,1099.5 247.4,1105.5 247.9,1101.3 248.3,1106.0 248.8,1104.6 249.3,1104.9 249.8,1102.6 250.2,1101.4 250.7,1101.5 251.2,1105.4 251.7,1102.3 252.1,1099.3 252.6,1103.6 253.1,1098.2 253.6,1097.5 254.1,1087.8 254.5,1089.7 255.0,1085.6 255.5,1097.3 256.0,1099.1 256.4,1087.6 256.9,1096.8 257.4,1091.1 257.9,1090.4 258.3,1085.3 258.8,1088.1 259.3,1090.8 259.8,1102.8 260.2,1101.2 260.7,1100.6 261.2,1098.8 261.7,1097.3 262.1,1101.2 262.6,1091.9 263.1,1099.9 263.6,1095.7 264.0,1104.9 264.5,1101.3 265.0,1098.1 265.5,1104.5 265.9,1100.4 266.4,1098.0 266.9,1105.5 267.4,1096.5 267.8,1098.9 268.3,1101.1 268.8,1097.3 269.3,1099.2 269.7,1102.8 270.2,1100.0 270.7,1097.2 271.2,1099.4 271.6,1105.5 272.1,1103.3 272.6,1094.8 273.1,1097.4 273.5,1105.7 274.0,1101.9 274.5,1101.6 275.0,1104.2 275.4,1103.4 275.9,1104.4 276.4,1098.3 276.9,1102.3 277.3,1104.5 277.8,1100.1 278.3,1098.3 278.8,1098.7 279.3,1098.5 279.7,1100.8 280.2,1100.5 280.7,1091.9 281.2,1093.1 281.6,1093.9 282.1,1096.2 282.6,1097.1 283.1,1102.7 283.5,1102.3 284.0,1094.2 284.5,1098.9 285.0,1090.2 285.4,1103.6 285.9,1097.7 286.4,1096.8 286.9,1098.1 287.3,1098.4 287.8,1100.7 288.3,1105.5 288.8,1101.1 289.2,1100.9 289.7,1091.0 290.2,1097.3 290.7,1103.7 291.1,1094.8 291.6,1102.6 292.1,1102.5 292.6,1093.4 293.0,1098.6 293.5,1101.9 294.0,1092.8 294.5,1097.4 294.9,1096.3 295.4,1093.4 295.9,1100.4 296.4,1106.1 296.8,1103.8 297.3,1104.9 297.8,1100.0 298.3,1100.6 298.7,1102.4 299.2,1105.2 299.7,1101.8 300.2,1101.1 300.6,1105.4 301.1,1105.5 301.6,1106.0 302.1,1100.4 302.6,1102.7 303.0,1106.0 303.5,1078.2 304.0,1106.0 304.5,1088.5 304.9,1106.0 305.4,1081.3 305.9,1106.0 306.4,1085.0 306.8,1106.0 307.3,1105.3 307.8,1105.5 308.3,1105.6 308.7,1105.3 309.2,1105.1 309.7,1105.3 310.2,1105.0 310.6,1105.1 311.1,1105.2 311.6,1105.2 312.1,1104.9 312.5,1105.3 313.0,1105.5 313.5,1105.2 314.0,1105.3 314.4,1105.6 314.9,1105.6 315.4,1105.2 315.9,1105.1 316.3,1105.0 316.8,1105.3 317.3,1105.4 317.8,1105.0 318.2,1096.2 318.7,1105.3 319.2,1105.0 319.7,1105.1 320.1,1105.1 320.6,1105.4 321.1,1105.3 321.6,1105.5 322.0,1105.5 322.5,1105.1 323.0,1105.2 323.5,1105.0 323.9,1104.8 324.4,1105.3 324.9,1105.2 325.4,1105.0 325.9,1105.2 326.3,1105.3 326.8,1105.4 327.3,1105.4 327.8,1105.4 328.2,1105.1 328.7,1105.0 329.2,1105.1 329.7,1103.9 330.1,1105.2 330.6,1105.5 331.1,1105.6 331.6,1105.4 332.0,1105.5 332.5,1103.3 333.0,1105.2 333.5,1105.0 333.9,1105.1 334.4,1105.4 334.9,1105.1 335.4,1101.9 335.8,1105.4 336.3,1105.1 336.8,1105.4 337.3,1105.2 337.7,1105.3 338.2,1105.5 338.7,1105.2 339.2,1105.2 339.6,1105.5 340.1,1105.2 340.6,1105.0 341.1,1105.3 341.5,1105.5 342.0,1105.3 342.5,1105.0 343.0,1105.2 343.4,1105.0 343.9,1104.8 344.4,1104.9 344.9,1105.3 345.3,1105.5 345.8,1105.3 346.3,1105.0 346.8,1104.9 347.2,1105.1 347.7,1105.2 348.2,1105.2 348.7,1105.0 349.1,1105.3 349.6,1105.3 350.1,1105.4 350.6,1105.3 351.1,1105.0 351.5,1105.2 352.0,1105.2 352.5,1104.9 353.0,1104.8 353.4,1105.0 353.9,1105.3 354.4,1105.2 354.9,1104.5 355.3,1105.3 355.8,1105.1 356.3,1105.0 356.8,1104.8 357.2,1104.8 357.7,1105.0 358.2,1105.2 358.7,1105.0 359.1,1105.2 359.6,1105.3 360.1,1105.6 360.6,1105.6 361.0,1105.4 361.5,1105.4 362.0,1105.1 362.5,1105.4 362.9,1105.6 363.4,1105.4 363.9,1105.2 364.4,1105.3 364.8,1105.2 365.3,1105.3 365.8,1105.2 366.3,1105.1 366.7,1105.1 367.2,1105.4 367.7,1105.5 368.2,1105.2 368.6,1105.1 369.1,1105.2 369.6,1105.1 370.1,1105.1 370.5,1105.2 371.0,1104.9 371.5,1104.8 372.0,1104.8 372.4,1105.3 372.9,1105.4 373.4,1105.4 373.9,1105.1 374.4,1105.5 374.8,1105.6 375.3,1105.7 375.8,1105.5 376.3,1105.2 376.7,1105.0 377.2,1105.3 377.7,1105.1 378.2,1105.2 378.6,1105.4 379.1,1105.3 379.6,1105.5 380.1,1105.6 380.5,1105.2 381.0,1105.0 381.5,1105.6 382.0,1105.6 382.4,1105.6 382.9,1105.6 383.4,1105.6 383.9,1105.6 384.3,1105.6 384.8,1105.6 385.3,1105.6 385.8,1105.6 386.2,1105.6 386.7,1105.6 387.2,1105.6 387.7,1105.6 388.1,1105.6 388.6,1105.6 389.1,1105.6 389.6,1105.6 390.0,1105.6 390.5,1105.6 391.0,1105.6 391.5,1105.6 391.9,1105.6 392.4,1105.6 392.9,1105.6 393.4,1105.6 393.8,1105.6 394.3,1105.6 394.8,1105.6 395.3,1105.6 395.7,1105.6 396.2,1105.6 396.7,1105.6 397.2,1105.6 397.7,1105.6 398.1,1105.6 398.6,1105.6 399.1,1105.6 399.6,1105.6 400.0,1105.6 400.5,1105.6 401.0,1105.6 401.5,1105.6 401.9,1105.6 402.4,1105.5 402.9,1105.5 403.4,1105.5 403.8,1105.5 404.3,1105.5 404.8,1105.5 405.3,1105.5 405.7,1105.5 406.2,1105.5 406.7,1105.5 407.2,1105.5 407.6,1105.5 408.1,1105.5 408.6,1105.5 409.1,1105.5 409.5,1105.5 410.0,1105.5 410.5,1105.5 411.0,1105.5 411.4,1105.5 411.9,1105.5 412.4,1105.5 412.9,1105.5 413.3,1105.5 413.8,1105.5 414.3,1105.5 414.8,1105.5 415.2,1105.5 415.7,1105.5 416.2,1105.5 416.7,1105.5 417.1,1105.5 417.6,1105.5 418.1,1105.5 418.6,1105.5 419.0,1105.5 419.5,1105.5 420.0,1105.5 420.5,1096.3 421.0,1105.5 421.4,1105.5 421.9,1105.5 422.4,1105.5 422.9,1105.5 423.3,1105.5 423.8,1105.5 424.3,1105.4 424.8,1105.4 425.2,1105.4 425.7,1105.4 426.2,1105.4 426.7,1105.4 427.1,1105.4 427.6,1105.4 428.1,1105.4 428.6,1105.4 429.0,1105.4 429.5,1105.4 430.0,1105.4 430.5,1105.4 430.9,1105.4 431.4,1105.4 431.9,1105.4 432.4,1105.4 432.8,1105.4 433.3,1105.4 433.8,1105.4 434.3,1105.4 434.7,1105.4 435.2,1105.4 435.7,1105.4 436.2,1105.4 436.6,1105.4 437.1,1105.4 437.6,1105.4 438.1,1105.4 438.5,1105.4 439.0,1105.4 439.5,1105.4 440.0,1105.4 440.4,1105.4 440.9,1105.4 441.4,1105.4 441.9,1105.4 442.3,1105.4 442.8,1105.4 443.3,1105.4 443.8,1105.4 444.2,1105.4 444.7,1105.4 445.2,1105.4 445.7,1105.4 446.2,1105.3 446.6,1105.3 447.1,1105.3 447.6,1105.3 448.1,1105.3 448.5,1105.3 449.0,1095.2 449.5,1105.3 450.0,1105.3 450.4,1105.3 450.9,1105.3 451.4,1105.3 451.9,1105.3 452.3,1105.3 452.8,1105.3 453.3,1105.3 453.8,1105.3 454.2,1105.3 454.7,1105.3 455.2,1105.3 455.7,1098.6 456.1,1105.3 456.6,1105.3 457.1,1105.3 457.6,1105.3 458.0,1105.3 458.5,1105.3 459.0,1105.3 459.5,1105.3 459.9,1105.3 460.4,1105.3 460.9,1105.3 461.4,1105.3 461.8,1105.3 462.3,1105.3 462.8,1105.3 463.3,1105.3 463.7,1105.3 464.2,1105.3 464.7,1105.3 465.2,1105.3 465.6,1100.8 466.1,1105.3 466.6,1105.3 467.1,1105.3 467.5,1105.3 468.0,1105.3 468.5,1105.3 469.0,1105.3 469.5,1105.3 469.9,1105.3 470.4,1105.3 470.9,1105.3 471.4,1105.3 471.8,1105.3 472.3,1105.3 472.8,1105.3 473.3,1105.3 473.7,1105.3 474.2,1105.3 474.7,1105.3 475.2,1105.3 475.6,1105.3 476.1,1105.3 476.6,1105.3 477.1,1105.3 477.5,1105.3 478.0,1105.3 478.5,1105.3 479.0,1105.3 479.4,1105.3 479.9,1105.3 480.4,1105.3 480.9,1105.3 481.3,1105.3 481.8,1105.3 482.3,1105.3 482.8,1105.3 483.2,1105.3 483.7,1105.3 484.2,1105.3 484.7,1105.3 485.1,1105.3 485.6,1105.3 486.1,1105.3 486.6,1105.3 487.0,1105.3 487.5,1105.3 488.0,1105.3 488.5,1105.3 488.9,1105.3 489.4,1105.3 489.9,1105.3 490.4,1105.3 490.8,1105.3 491.3,1099.7 491.8,1105.3 492.3,1105.3 492.8,1105.3 493.2,1105.3 493.7,1105.3 494.2,1105.3 494.7,1105.3 495.1,1105.3 495.6,1105.3 496.1,1105.3 496.6,1105.3 497.0,1105.3 497.5,1105.3 498.0,1105.3 498.5,1105.3 498.9,1105.3 499.4,1105.3 499.9,1105.3 500.4,1105.3 500.8,1105.3 501.3,1105.3 501.8,1105.3 502.3,1105.3 502.7,1105.3 503.2,1105.3 503.7,1105.3 504.2,1105.3 504.6,1105.3 505.1,1105.3 505.6,1105.3 506.1,1105.3 506.5,1105.3 507.0,1105.3 507.5,1105.3 508.0,1105.3 508.4,1105.3 508.9,1105.3 509.4,1105.3 509.9,1105.3 510.3,1105.3 510.8,1105.3 511.3,1098.6 511.8,1105.3 512.2,1105.3 512.7,1105.3 513.2,1105.3 513.7,1105.3 514.1,1105.3 514.6,1105.3 515.1,1105.3 515.6,1105.3 516.1,1105.3 516.5,1105.3 517.0,1105.3 517.5,1105.3 518.0,1105.3 518.4,1105.3 518.9,1105.3 519.4,1105.3 519.9,1105.3 520.3,1105.3 520.8,1105.3 521.3,1105.3 521.8,1105.3 522.2,1105.3 522.7,1105.3 523.2,1105.3 523.7,1105.3 524.1,1105.3 524.6,1105.3 525.1,1105.3 525.6,1105.3 526.0,1105.3 526.5,1105.3 527.0,1105.3 527.5,1105.3 527.9,1102.0 528.4,1105.3 528.9,1105.3 529.4,1105.3 529.8,1105.3 530.3,1105.3 530.8,1105.3 531.3,1105.3 531.7,1105.3 532.2,1105.3 532.7,1105.3 533.2,1105.3 533.6,1105.3 534.1,1105.3 534.6,1105.3 535.1,1105.3 535.5,1105.3 536.0,1105.3 536.5,1105.3 537.0,1105.3 537.4,1105.3 537.9,1105.3 538.4,1105.3 538.9,1105.3 539.3,1105.3 539.8,1105.3 540.3,1105.3 540.8,1105.3 541.3,1105.3 541.7,1105.3 542.2,1105.3 542.7,1105.3 543.2,1105.3 543.6,1105.3 544.1,1105.3 544.6,1105.3 545.1,1105.3 545.5,1105.3 546.0,1105.3 546.5,1105.3 547.0,1105.3 547.4,1105.3 547.9,1105.3 548.4,1105.3 548.9,1105.3 549.3,1105.3 549.8,1105.3 550.3,1105.3 550.8,1105.3 551.2,1105.3 551.7,1105.3 552.2,1105.3 552.7,1105.3 553.1,1105.3 553.6,1105.3 554.1,1105.3 554.6,1105.3 555.0,1105.3 555.5,1105.3 556.0,1105.3 556.5,1105.3 556.9,1105.3 557.4,1105.3 557.9,1105.3 558.4,1105.3 558.8,1105.3 559.3,1105.3 559.8,1105.3 560.3,1105.3 560.7,1105.3 561.2,1105.3 561.7,1105.3 562.2,1105.3 562.6,1105.3 563.1,1105.3 563.6,1105.3 564.1,1102.0 564.6,1105.3 565.0,1105.3 565.5,1105.3 566.0,1105.3 566.5,1105.3 566.9,1103.1 567.4,1105.3 567.9,1105.3 568.4,1105.3 568.8,1105.3 569.3,1105.3 569.8,1105.3 570.3,1105.3 570.7,1105.3 571.2,1105.3 571.7,1105.3 572.2,1105.3 572.6,1105.3 573.1,1105.3 573.6,1105.3 574.1,1105.3 574.5,1105.3 575.0,1105.3 575.5,1105.3 576.0,1105.3 576.4,1105.3 576.9,1105.3 577.4,1103.1 577.9,1105.3 578.3,1105.3 578.8,1105.3 579.3,1105.3 579.8,1105.3 580.2,1105.3 580.7,1105.3 581.2,1105.3 581.7,1105.3 582.1,1105.3 582.6,1105.3 583.1,1105.3 583.6,1105.3 584.0,1105.3 584.5,1105.3 585.0,1105.3 585.5,1105.3 585.9,1105.3 586.4,1105.3 586.9,1105.3 587.4,1105.3 587.9,1105.3 588.3,1098.6 588.8,1105.3 589.3,1105.3 589.8,1105.3 590.2,1105.3 590.7,1105.3 591.2,1105.3 591.7,1105.3 592.1,1105.3 592.6,1105.3 593.1,1105.3 593.6,1105.3 594.0,1105.3 594.5,1105.3 595.0,1105.3 595.5,1105.3 595.9,1105.3 596.4,1105.3 596.9,1105.3 597.4,1105.3 597.8,1105.3 598.3,1105.3 598.8,1105.3 599.3,1105.3 599.7,1105.3 600.2,1105.3 600.7,1105.3 601.2,1105.3 601.6,1105.3 602.1,1105.3 602.6,1105.3 603.1,1105.3 603.5,1105.3 604.0,1105.3 604.5,1105.3 605.0,1105.3 605.4,1100.8 605.9,1105.3 606.4,1105.3 606.9,1105.3 607.3,1105.3 607.8,1105.3 608.3,1099.7 608.8,1105.3 609.2,1105.3 609.7,1105.3 610.2,1105.3 610.7,1105.3 611.2,1105.3 611.6,1105.3 612.1,1105.3 612.6,1105.3 613.1,1105.3 613.5,1105.3 614.0,1105.3 614.5,1105.3 615.0,1105.3 615.4,1105.3 615.9,1105.3 616.4,1105.3 616.9,1105.3 617.3,1105.3 617.8,1105.3 618.3,1105.3 618.8,1105.3 619.2,1105.3 619.7,1105.3 620.2,1105.3 620.7,1105.3 621.1,1105.3 621.6,1105.3 622.1,1105.3 622.6,1100.8 623.0,1105.3 623.5,1105.3 624.0,1105.3 624.5,1105.3 624.9,1105.3 625.4,1105.3 625.9,1105.3 626.4,1105.3 626.8,1105.3 627.3,1105.3 627.8,1105.3 628.3,1105.3 628.7,1105.3 629.2,1105.3 629.7,1105.3 630.2,1105.3 630.6,1105.3 631.1,1105.3 631.6,1105.3 632.1,1105.3 632.5,1105.3 633.0,1105.3 633.5,1105.3 634.0,1105.3 634.5,1105.3 634.9,1105.3 635.4,1105.3 635.9,1105.3 636.4,1105.3 636.8,1105.3 637.3,1105.3 637.8,1105.3 638.3,1105.3 638.7,1105.3 639.2,1105.3 639.7,1105.3 640.2,1105.3 640.6,1105.3 641.1,1099.7 641.6,1105.3 642.1,1105.3 642.5,1105.3 643.0,1105.3 643.5,1105.3 644.0,1105.3 644.4,1105.3 644.9,1105.3 645.4,1105.3 645.9,1105.3 646.3,1105.3 646.8,1105.3 647.3,1105.3 647.8,1103.1 648.2,1105.3 648.7,1105.3 649.2,1105.3 649.7,1105.3 650.1,1105.3 650.6,1105.3 651.1,1105.3 651.6,1105.3 652.0,1105.3 652.5,1105.3 653.0,1105.3 653.5,1105.3 653.9,1105.3 654.4,1105.3 654.9,1105.3 655.4,1105.3 655.8,1105.3 656.3,1105.3 656.8,1105.3 657.3,1105.3 657.7,1105.3 658.2,1105.3 658.7,1105.3 659.2,1105.3 659.7,1105.3 660.1,1105.3 660.6,1105.3 661.1,1105.3 661.6,1105.3 662.0,1105.3 662.5,1105.3 663.0,1105.3 663.5,1105.3 663.9,1105.3 664.4,1105.3 664.9,1105.3 665.4,1105.3 665.8,1100.8 666.3,1105.3 666.8,1105.3 667.3,1105.3 667.7,1105.3 668.2,1105.3 668.7,1105.3 669.2,1105.3 669.6,1105.3 670.1,1105.3 670.6,1105.3 671.1,1105.3 671.5,1105.3 672.0,1105.3 672.5,1105.3 673.0,1105.3 673.4,1105.3 673.9,1105.3 674.4,1105.3 674.9,1105.3 675.3,1105.3 675.8,1105.3 676.3,1103.1 676.8,1105.3 677.2,1105.3 677.7,1105.3 678.2,1105.3 678.7,1105.3 679.1,1105.3 679.6,1105.3 680.1,1105.3 680.6,1105.3 681.0,1105.3 681.5,1105.3 682.0,1105.3 682.5,1105.3 683.0,1105.3 683.4,1099.7 683.9,1105.3 684.4,1105.3 684.9,1105.3 685.3,1105.3 685.8,1105.3 686.3,1105.3 686.8,1105.3 687.2,1105.3 687.7,1105.3 688.2,1105.3 688.7,1105.3 689.1,1098.6 689.6,1105.3 690.1,1105.3 690.6,1105.3 691.0,1105.3 691.5,1105.3 692.0,1105.3 692.5,1105.3 692.9,1105.3 693.4,1105.3 693.9,1105.3 694.4,1105.3 694.8,1105.3 695.3,1105.3 695.8,1100.8 696.3,1105.3 696.7,1105.3 697.2,1105.3 697.7,1105.3 698.2,1105.3 698.6,1105.3 699.1,1105.3 699.6,1105.3 700.1,1105.3 700.5,1105.3 701.0,1105.3 701.5,1105.3 702.0,1105.3 702.4,1105.3 702.9,1098.6 703.4,1105.3 703.9,1105.3 704.3,1105.3 704.8,1105.3 705.3,1105.3 705.8,1105.3 706.3,1105.3 706.7,1105.3 707.2,1105.3 707.7,1105.3 708.2,1105.3 708.6,1105.3 709.1,1105.3 709.6,1105.3 710.1,1105.3 710.5,1105.3 711.0,1105.3 711.5,1105.3 712.0,1105.3 712.4,1105.3 712.9,1105.3 713.4,1105.3 713.9,1105.3 714.3,1105.3 714.8,1105.3 715.3,1105.3 715.8,1105.3 716.2,1105.3 716.7,1105.3 717.2,1105.3 717.7,1105.3 718.1,1105.3 718.6,1105.3 719.1,1105.3 719.6,1105.3 720.0,1097.4 720.5,1105.3 721.0,1105.3 721.5,1105.3 721.9,1105.3 722.4,1105.3 722.9,1105.3 723.4,1105.3 723.8,1105.3 724.3,1105.3 724.8,1105.3 725.3,1086.1 725.7,1105.3 726.2,1096.3 726.7,1105.3 727.2,1105.3 727.6,1105.3" fill="none" stroke="#f0b323" stroke-width="1.05" stroke-linejoin="round" marker-start="url(#m5)" marker-mid="url(#m5)" marker-end="url(#m5)"/>
<text x="84.9" y="1054.3" font-size="12" text-anchor="middle" fill="#000">Norm of triaxial jerk</text>
<text x="84.9" y="1070.5" font-size="12" text-anchor="middle" fill="#000">(sum of 30 sec)</text>
<text x="84.9" y="1086.7" font-size="12" text-anchor="middle" fill="#000">(g/s)</text>
<path d="M206.3,1158.0H727.6" stroke="#d4d4d4" stroke-width="1.1" fill="none"/>
<path d="M206.3,1171.3H727.6" stroke="#d4d4d4" stroke-width="1.1" fill="none"/>
<path d="M206.3,1184.6H727.6" stroke="#d4d4d4" stroke-width="1.1" fill="none"/>
<path d="M206.3,1197.9H727.6" stroke="#d4d4d4" stroke-width="1.1" fill="none"/>
<path d="M206.3,1211.2H727.6" stroke="#d4d4d4" stroke-width="1.1" fill="none"/>
<path d="M206.3,1145.2V1224.8" stroke="#222" stroke-width="1.1" fill="none"/>
<path d="M205.8,1224.3H727.6" stroke="#222" stroke-width="1.4" fill="none"/>
<text x="200.4" y="1160.7" font-size="10.0" text-anchor="end" fill="#000">Awake</text>
<text x="200.4" y="1174.0" font-size="10.0" text-anchor="end" fill="#000">REM</text>
<text x="200.4" y="1187.3" font-size="10.0" text-anchor="end" fill="#000">N1</text>
<text x="200.4" y="1200.6" font-size="10.0" text-anchor="end" fill="#000">N2</text>
<text x="200.4" y="1213.9" font-size="10.0" text-anchor="end" fill="#000">N3</text>
<text x="206.3" y="1236.9" font-size="10.0" text-anchor="middle" fill="#000">0</text>
<text x="321.8" y="1236.9" font-size="10.0" text-anchor="middle" fill="#000">120</text>
<text x="435.0" y="1236.9" font-size="10.0" text-anchor="middle" fill="#000">240</text>
<text x="548.8" y="1236.9" font-size="10.0" text-anchor="middle" fill="#000">360</text>
<text x="662.3" y="1236.9" font-size="10.0" text-anchor="middle" fill="#000">480</text>
<marker id="m6" markerWidth="6" markerHeight="6" refX="3" refY="3" markerUnits="userSpaceOnUse"><circle cx="3" cy="3" r="2.2" fill="#e41a1c"/></marker><polyline points="206.3,1158.0 206.8,1158.0 207.2,1158.0 207.7,1158.0 208.2,1158.0 208.7,1158.0 209.1,1158.0 209.6,1158.0 210.1,1158.0 210.6,1158.0 211.0,1158.0 211.5,1158.0 212.0,1158.0 212.5,1158.0 212.9,1158.0 213.4,1158.0 213.9,1158.0 214.4,1158.0 214.8,1158.0 215.3,1158.0 215.8,1158.0 216.3,1158.0 216.7,1158.0 217.2,1158.0 217.7,1158.0 218.2,1158.0 218.6,1158.0 219.1,1158.0 219.6,1158.0 220.1,1158.0 220.5,1158.0 221.0,1158.0 221.5,1158.0 222.0,1158.0 222.4,1158.0 222.9,1158.0 223.4,1158.0 223.9,1158.0 224.3,1158.0 224.8,1158.0 225.3,1158.0 225.8,1158.0 226.2,1158.0 226.7,1158.0 227.2,1158.0 227.7,1158.0 228.1,1158.0 228.6,1158.0 229.1,1158.0 229.6,1158.0 230.0,1158.0 230.5,1158.0 231.0,1158.0 231.5,1158.0 231.9,1158.0 232.4,1158.0 232.9,1158.0 233.4,1158.0 233.8,1158.0 234.3,1158.0 234.8,1158.0 235.3,1158.0 235.7,1158.0 236.2,1158.0 236.7,1158.0 237.1,1158.0 237.6,1158.0 238.1,1158.0 238.6,1158.0 239.0,1158.0 239.5,1158.0 240.0,1158.0 240.5,1158.0 240.9,1158.0 241.4,1158.0 241.9,1158.0 242.4,1158.0 242.8,1158.0 243.3,1158.0 243.8,1158.0 244.3,1158.0 244.7,1158.0 245.2,1158.0 245.7,1158.0 246.2,1158.0 246.6,1158.0 247.1,1158.0 247.6,1158.0 248.1,1158.0 248.5,1158.0 249.0,1158.0 249.5,1158.0 250.0,1158.0 250.4,1158.0 250.9,1158.0 251.4,1158.0 251.9,1158.0 252.3,1158.0 252.8,1158.0 253.3,1158.0 253.8,1158.0 254.2,1158.0 254.7,1158.0 255.2,1158.0 255.7,1158.0 256.1,1158.0 256.6,1158.0 257.1,1158.0 257.6,1158.0 258.0,1158.0 258.5,1158.0 259.0,1158.0 259.5,1158.0 259.9,1158.0 260.4,1158.0 260.9,1158.0 261.4,1158.0 261.8,1158.0 262.3,1158.0 262.8,1158.0 263.3,1158.0 263.7,1158.0 264.2,1158.0 264.7,1158.0 265.2,1158.0 265.6,1158.0 266.1,1158.0 266.6,1158.0 267.0,1158.0 267.5,1158.0 268.0,1158.0 268.5,1158.0 268.9,1158.0 269.4,1158.0 269.9,1158.0 270.4,1158.0 270.8,1158.0 271.3,1158.0 271.8,1158.0 272.3,1158.0 272.7,1158.0 273.2,1158.0 273.7,1158.0 274.2,1158.0 274.6,1158.0 275.1,1158.0 275.6,1158.0 276.1,1158.0 276.5,1158.0 277.0,1158.0 277.5,1158.0 278.0,1158.0 278.4,1158.0 278.9,1158.0 279.4,1158.0 279.9,1158.0 280.3,1158.0 280.8,1158.0 281.3,1158.0 281.8,1158.0 282.2,1158.0 282.7,1158.0 283.2,1158.0 283.7,1158.0 284.1,1158.0 284.6,1158.0 285.1,1158.0 285.6,1158.0 286.0,1158.0 286.5,1158.0 287.0,1158.0 287.5,1158.0 287.9,1158.0 288.4,1158.0 288.9,1158.0 289.4,1158.0 289.8,1158.0 290.3,1158.0 290.8,1158.0 291.3,1158.0 291.7,1158.0 292.2,1158.0 292.7,1158.0 293.2,1158.0 293.6,1158.0 294.1,1158.0 294.6,1158.0 295.1,1158.0 295.5,1158.0 296.0,1158.0 296.5,1158.0 296.9,1158.0 297.4,1158.0 297.9,1158.0 298.4,1158.0 298.8,1158.0 299.3,1158.0 299.8,1158.0 300.3,1158.0 300.7,1158.0 301.2,1158.0 301.7,1158.0 302.2,1158.0 302.6,1158.0 303.1,1158.0 303.6,1158.0 304.1,1158.0 304.5,1158.0 305.0,1158.0 305.5,1158.0 306.0,1158.0 306.4,1158.0 306.9,1158.0 307.4,1158.0 307.9,1158.0 308.3,1158.0 308.8,1158.0 309.3,1158.0 309.8,1158.0 310.2,1158.0 310.7,1158.0 311.2,1158.0 311.7,1158.0 312.1,1158.0 312.6,1184.6 313.1,1197.9 313.6,1184.6 314.0,1184.6 314.5,1184.6 315.0,1184.6 315.5,1197.9 315.9,1197.9 316.4,1197.9 316.9,1197.9 317.4,1184.6 317.8,1184.6 318.3,1184.6 318.8,1184.6 319.3,1158.0 319.7,1184.6 320.2,1184.6 320.7,1184.6 321.2,1197.9 321.6,1197.9 322.1,1197.9 322.6,1197.9 323.1,1197.9 323.5,1211.2 324.0,1211.2 324.5,1211.2 325.0,1211.2 325.4,1211.2 325.9,1211.2 326.4,1211.2 326.8,1211.2 327.3,1211.2 327.8,1211.2 328.3,1211.2 328.7,1211.2 329.2,1211.2 329.7,1211.2 330.2,1211.2 330.6,1211.2 331.1,1211.2 331.6,1211.2 332.1,1211.2 332.5,1211.2 333.0,1211.2 333.5,1211.2 334.0,1211.2 334.4,1211.2 334.9,1211.2 335.4,1211.2 335.9,1211.2 336.3,1197.9 336.8,1211.2 337.3,1211.2 337.8,1211.2 338.2,1211.2 338.7,1211.2 339.2,1211.2 339.7,1211.2 340.1,1211.2 340.6,1211.2 341.1,1211.2 341.6,1211.2 342.0,1211.2 342.5,1211.2 343.0,1211.2 343.5,1211.2 343.9,1211.2 344.4,1211.2 344.9,1211.2 345.4,1211.2 345.8,1211.2 346.3,1211.2 346.8,1211.2 347.3,1211.2 347.7,1211.2 348.2,1211.2 348.7,1211.2 349.2,1211.2 349.6,1211.2 350.1,1211.2 350.6,1211.2 351.1,1211.2 351.5,1211.2 352.0,1211.2 352.5,1211.2 353.0,1211.2 353.4,1211.2 353.9,1211.2 354.4,1211.2 354.8,1211.2 355.3,1211.2 355.8,1211.2 356.3,1211.2 356.7,1211.2 357.2,1211.2 357.7,1211.2 358.2,1211.2 358.6,1211.2 359.1,1211.2 359.6,1197.9 360.1,1197.9 360.5,1197.9 361.0,1197.9 361.5,1197.9 362.0,1197.9 362.4,1197.9 362.9,1184.6 363.4,1184.6 363.9,1197.9 364.3,1197.9 364.8,1197.9 365.3,1197.9 365.8,1184.6 366.2,1184.6 366.7,1197.9 367.2,1197.9 367.7,1197.9 368.1,1197.9 368.6,1197.9 369.1,1197.9 369.6,1197.9 370.0,1197.9 370.5,1197.9 371.0,1197.9 371.5,1197.9 371.9,1197.9 372.4,1197.9 372.9,1197.9 373.4,1197.9 373.8,1197.9 374.3,1197.9 374.8,1197.9 375.3,1184.6 375.7,1197.9 376.2,1197.9 376.7,1197.9 377.2,1197.9 377.6,1197.9 378.1,1197.9 378.6,1197.9 379.1,1197.9 379.5,1197.9 380.0,1197.9 380.5,1197.9 381.0,1197.9 381.4,1197.9 381.9,1197.9 382.4,1197.9 382.9,1197.9 383.3,1197.9 383.8,1197.9 384.3,1197.9 384.7,1197.9 385.2,1197.9 385.7,1197.9 386.2,1197.9 386.6,1197.9 387.1,1197.9 387.6,1197.9 388.1,1211.2 388.5,1211.2 389.0,1211.2 389.5,1211.2 390.0,1211.2 390.4,1211.2 390.9,1211.2 391.4,1211.2 391.9,1211.2 392.3,1211.2 392.8,1211.2 393.3,1211.2 393.8,1211.2 394.2,1211.2 394.7,1211.2 395.2,1211.2 395.7,1211.2 396.1,1211.2 396.6,1211.2 397.1,1211.2 397.6,1211.2 398.0,1211.2 398.5,1211.2 399.0,1211.2 399.5,1211.2 399.9,1211.2 400.4,1211.2 400.9,1211.2 401.4,1211.2 401.8,1211.2 402.3,1211.2 402.8,1211.2 403.3,1211.2 403.7,1211.2 404.2,1211.2 404.7,1211.2 405.2,1211.2 405.6,1211.2 406.1,1211.2 406.6,1211.2 407.1,1211.2 407.5,1211.2 408.0,1211.2 408.5,1211.2 409.0,1211.2 409.4,1211.2 409.9,1211.2 410.4,1211.2 410.9,1211.2 411.3,1211.2 411.8,1211.2 412.3,1211.2 412.8,1211.2 413.2,1211.2 413.7,1211.2 414.2,1211.2 414.6,1211.2 415.1,1211.2 415.6,1211.2 416.1,1211.2 416.5,1211.2 417.0,1211.2 417.5,1211.2 418.0,1211.2 418.4,1211.2 418.9,1211.2 419.4,1211.2 419.9,1211.2 420.3,1211.2 420.8,1211.2 421.3,1211.2 421.8,1211.2 422.2,1197.9 422.7,1158.0 423.2,1197.9 423.7,1197.9 424.1,1197.9 424.6,1197.9 425.1,1197.9 425.6,1197.9 426.0,1197.9 426.5,1197.9 427.0,1197.9 427.5,1197.9 427.9,1211.2 428.4,1197.9 428.9,1197.9 429.4,1197.9 429.8,1197.9 430.3,1197.9 430.8,1197.9 431.3,1197.9 431.7,1171.3 432.2,1171.3 432.7,1171.3 433.2,1171.3 433.6,1171.3 434.1,1171.3 434.6,1171.3 435.1,1171.3 435.5,1171.3 436.0,1171.3 436.5,1171.3 437.0,1171.3 437.4,1171.3 437.9,1171.3 438.4,1171.3 438.9,1171.3 439.3,1171.3 439.8,1171.3 440.3,1171.3 440.8,1184.6 441.2,1184.6 441.7,1184.6 442.2,1184.6 442.7,1184.6 443.1,1184.6 443.6,1184.6 444.1,1197.9 444.5,1197.9 445.0,1197.9 445.5,1197.9 446.0,1197.9 446.4,1197.9 446.9,1197.9 447.4,1184.6 447.9,1184.6 448.3,1197.9 448.8,1184.6 449.3,1184.6 449.8,1184.6 450.2,1158.0 450.7,1197.9 451.2,1184.6 451.7,1184.6 452.1,1197.9 452.6,1197.9 453.1,1184.6 453.6,1197.9 454.0,1184.6 454.5,1197.9 455.0,1197.9 455.5,1197.9 455.9,1158.0 456.4,1184.6 456.9,1197.9 457.4,1184.6 457.8,1184.6 458.3,1184.6 458.8,1184.6 459.3,1197.9 459.7,1197.9 460.2,1197.9 460.7,1197.9 461.2,1197.9 461.6,1197.9 462.1,1197.9 462.6,1197.9 463.1,1197.9 463.5,1197.9 464.0,1197.9 464.5,1197.9 465.0,1197.9 465.4,1197.9 465.9,1184.6 466.4,1184.6 466.9,1197.9 467.3,1158.0 467.8,1184.6 468.3,1184.6 468.8,1197.9 469.2,1184.6 469.7,1184.6 470.2,1184.6 470.7,1184.6 471.1,1197.9 471.6,1197.9 472.1,1197.9 472.6,1197.9 473.0,1197.9 473.5,1197.9 474.0,1197.9 474.4,1197.9 474.9,1197.9 475.4,1197.9 475.9,1197.9 476.3,1197.9 476.8,1197.9 477.3,1197.9 477.8,1197.9 478.2,1211.2 478.7,1211.2 479.2,1211.2 479.7,1211.2 480.1,1211.2 480.6,1211.2 481.1,1211.2 481.6,1211.2 482.0,1211.2 482.5,1211.2 483.0,1211.2 483.5,1211.2 483.9,1197.9 484.4,1211.2 484.9,1197.9 485.4,1211.2 485.8,1211.2 486.3,1211.2 486.8,1211.2 487.3,1211.2 487.7,1211.2 488.2,1197.9 488.7,1211.2 489.2,1211.2 489.6,1211.2 490.1,1197.9 490.6,1211.2 491.1,1211.2 491.5,1211.2 492.0,1197.9 492.5,1197.9 493.0,1197.9 493.4,1197.9 493.9,1197.9 494.4,1197.9 494.9,1197.9 495.3,1197.9 495.8,1197.9 496.3,1197.9 496.8,1197.9 497.2,1197.9 497.7,1197.9 498.2,1197.9 498.7,1197.9 499.1,1197.9 499.6,1184.6 500.1,1184.6 500.6,1184.6 501.0,1184.6 501.5,1184.6 502.0,1171.3 502.5,1171.3 502.9,1171.3 503.4,1171.3 503.9,1171.3 504.3,1171.3 504.8,1171.3 505.3,1171.3 505.8,1171.3 506.2,1171.3 506.7,1171.3 507.2,1171.3 507.7,1171.3 508.1,1171.3 508.6,1171.3 509.1,1171.3 509.6,1171.3 510.0,1171.3 510.5,1171.3 511.0,1171.3 511.5,1171.3 511.9,1171.3 512.4,1171.3 512.9,1171.3 513.4,1171.3 513.8,1171.3 514.3,1171.3 514.8,1171.3 515.3,1171.3 515.7,1171.3 516.2,1171.3 516.7,1171.3 517.2,1171.3 517.6,1171.3 518.1,1171.3 518.6,1171.3 519.1,1171.3 519.5,1171.3 520.0,1197.9 520.5,1197.9 521.0,1171.3 521.4,1171.3 521.9,1171.3 522.4,1171.3 522.9,1171.3 523.3,1171.3 523.8,1171.3 524.3,1171.3 524.8,1171.3 525.2,1171.3 525.7,1171.3 526.2,1197.9 526.7,1171.3 527.1,1171.3 527.6,1171.3 528.1,1171.3 528.6,1171.3 529.0,1171.3 529.5,1158.0 530.0,1158.0 530.5,1184.6 530.9,1197.9 531.4,1197.9 531.9,1197.9 532.4,1197.9 532.8,1197.9 533.3,1197.9 533.8,1197.9 534.2,1197.9 534.7,1197.9 535.2,1197.9 535.7,1197.9 536.1,1197.9 536.6,1197.9 537.1,1197.9 537.6,1197.9 538.0,1197.9 538.5,1197.9 539.0,1197.9 539.5,1197.9 539.9,1197.9 540.4,1197.9 540.9,1197.9 541.4,1197.9 541.8,1197.9 542.3,1197.9 542.8,1197.9 543.3,1197.9 543.7,1197.9 544.2,1197.9 544.7,1197.9 545.2,1197.9 545.6,1197.9 546.1,1197.9 546.6,1197.9 547.1,1197.9 547.5,1197.9 548.0,1197.9 548.5,1197.9 549.0,1197.9 549.4,1197.9 549.9,1197.9 550.4,1197.9 550.9,1197.9 551.3,1211.2 551.8,1211.2 552.3,1211.2 552.8,1211.2 553.2,1211.2 553.7,1211.2 554.2,1211.2 554.7,1211.2 555.1,1211.2 555.6,1211.2 556.1,1211.2 556.6,1211.2 557.0,1211.2 557.5,1211.2 558.0,1211.2 558.5,1211.2 558.9,1211.2 559.4,1211.2 559.9,1211.2 560.4,1211.2 560.8,1211.2 561.3,1211.2 561.8,1211.2 562.2,1211.2 562.7,1211.2 563.2,1211.2 563.7,1211.2 564.1,1211.2 564.6,1211.2 565.1,1211.2 565.6,1211.2 566.0,1211.2 566.5,1211.2 567.0,1197.9 567.5,1184.6 567.9,1197.9 568.4,1184.6 568.9,1158.0 569.4,1197.9 569.8,1197.9 570.3,1197.9 570.8,1197.9 571.3,1197.9 571.7,1197.9 572.2,1197.9 572.7,1197.9 573.2,1197.9 573.6,1197.9 574.1,1197.9 574.6,1197.9 575.1,1197.9 575.5,1197.9 576.0,1197.9 576.5,1197.9 577.0,1197.9 577.4,1184.6 577.9,1197.9 578.4,1197.9 578.9,1158.0 579.3,1197.9 579.8,1197.9 580.3,1197.9 580.8,1197.9 581.2,1197.9 581.7,1197.9 582.2,1197.9 582.7,1197.9 583.1,1197.9 583.6,1197.9 584.1,1197.9 584.6,1197.9 585.0,1197.9 585.5,1197.9 586.0,1197.9 586.5,1197.9 586.9,1197.9 587.4,1197.9 587.9,1197.9 588.4,1197.9 588.8,1197.9 589.3,1158.0 589.8,1197.9 590.3,1197.9 590.7,1197.9 591.2,1197.9 591.7,1171.3 592.1,1171.3 592.6,1171.3 593.1,1171.3 593.6,1171.3 594.0,1171.3 594.5,1171.3 595.0,1171.3 595.5,1171.3 595.9,1171.3 596.4,1171.3 596.9,1171.3 597.4,1171.3 597.8,1171.3 598.3,1171.3 598.8,1171.3 599.3,1171.3 599.7,1171.3 600.2,1171.3 600.7,1171.3 601.2,1171.3 601.6,1171.3 602.1,1171.3 602.6,1171.3 603.1,1171.3 603.5,1171.3 604.0,1171.3 604.5,1171.3 605.0,1171.3 605.4,1171.3 605.9,1171.3 606.4,1171.3 606.9,1171.3 607.3,1171.3 607.8,1171.3 608.3,1171.3 608.8,1171.3 609.2,1171.3 609.7,1171.3 610.2,1171.3 610.7,1171.3 611.1,1171.3 611.6,1171.3 612.1,1171.3 612.6,1171.3 613.0,1171.3 613.5,1171.3 614.0,1171.3 614.5,1171.3 614.9,1171.3 615.4,1171.3 615.9,1171.3 616.4,1171.3 616.8,1171.3 617.3,1171.3 617.8,1171.3 618.3,1171.3 618.7,1171.3 619.2,1171.3 619.7,1171.3 620.2,1171.3 620.6,1171.3 621.1,1171.3 621.6,1171.3 622.0,1171.3 622.5,1171.3 623.0,1171.3 623.5,1197.9 623.9,1197.9 624.4,1197.9 624.9,1197.9 625.4,1197.9 625.8,1197.9 626.3,1197.9 626.8,1197.9 627.3,1197.9 627.7,1184.6 628.2,1197.9 628.7,1197.9 629.2,1197.9 629.6,1197.9 630.1,1197.9 630.6,1197.9 631.1,1197.9 631.5,1197.9 632.0,1197.9 632.5,1197.9 633.0,1197.9 633.4,1197.9 633.9,1197.9 634.4,1197.9 634.9,1197.9 635.3,1197.9 635.8,1197.9 636.3,1197.9 636.8,1197.9 637.2,1197.9 637.7,1197.9 638.2,1197.9 638.7,1197.9 639.1,1197.9 639.6,1197.9 640.1,1197.9 640.6,1197.9 641.0,1197.9 641.5,1197.9 642.0,1197.9 642.5,1197.9 642.9,1184.6 643.4,1197.9 643.9,1197.9 644.4,1197.9 644.8,1197.9 645.3,1197.9 645.8,1197.9 646.3,1197.9 646.7,1197.9 647.2,1197.9 647.7,1197.9 648.2,1197.9 648.6,1197.9 649.1,1197.9 649.6,1197.9 650.1,1197.9 650.5,1197.9 651.0,1197.9 651.5,1197.9 651.9,1197.9 652.4,1197.9 652.9,1197.9 653.4,1197.9 653.8,1197.9 654.3,1197.9 654.8,1184.6 655.3,1197.9 655.7,1197.9 656.2,1197.9 656.7,1197.9 657.2,1197.9 657.6,1197.9 658.1,1197.9 658.6,1197.9 659.1,1197.9 659.5,1197.9 660.0,1197.9 660.5,1197.9 661.0,1211.2 661.4,1197.9 661.9,1197.9 662.4,1197.9 662.9,1211.2 663.3,1197.9 663.8,1211.2 664.3,1211.2 664.8,1211.2 665.2,1197.9 665.7,1211.2 666.2,1197.9 666.7,1197.9 667.1,1211.2 667.6,1211.2 668.1,1211.2 668.6,1184.6 669.0,1197.9 669.5,1197.9 670.0,1197.9 670.5,1197.9 670.9,1197.9 671.4,1197.9 671.9,1197.9 672.4,1197.9 672.8,1197.9 673.3,1197.9 673.8,1197.9 674.3,1197.9 674.7,1184.6 675.2,1184.6 675.7,1197.9 676.2,1197.9 676.6,1197.9 677.1,1197.9 677.6,1158.0 678.1,1197.9 678.5,1197.9 679.0,1197.9 679.5,1197.9 680.0,1197.9 680.4,1197.9 680.9,1197.9 681.4,1197.9 681.8,1197.9 682.3,1197.9 682.8,1197.9 683.3,1197.9 683.7,1197.9 684.2,1158.0 684.7,1158.0 685.2,1171.3 685.6,1171.3 686.1,1171.3 686.6,1171.3 687.1,1171.3 687.5,1171.3 688.0,1171.3 688.5,1171.3 689.0,1171.3 689.4,1171.3 689.9,1171.3 690.4,1171.3 690.9,1158.0 691.3,1184.6 691.8,1184.6 692.3,1184.6 692.8,1184.6 693.2,1184.6 693.7,1184.6 694.2,1184.6 694.7,1184.6 695.1,1184.6 695.6,1184.6 696.1,1184.6 696.6,1184.6 697.0,1184.6 697.5,1184.6 698.0,1184.6 698.5,1184.6 698.9,1184.6 699.4,1197.9 699.9,1197.9 700.4,1197.9 700.8,1197.9 701.3,1197.9 701.8,1197.9 702.3,1197.9 702.7,1197.9 703.2,1197.9 703.7,1158.0 704.2,1184.6 704.6,1197.9 705.1,1197.9 705.6,1197.9 706.1,1197.9 706.5,1197.9 707.0,1197.9 707.5,1197.9 708.0,1197.9 708.4,1197.9 708.9,1197.9 709.4,1197.9 709.9,1197.9 710.3,1197.9 710.8,1197.9 711.3,1197.9 711.7,1197.9 712.2,1197.9 712.7,1197.9 713.2,1197.9 713.6,1197.9 714.1,1197.9 714.6,1197.9 715.1,1197.9 715.5,1197.9 716.0,1197.9 716.5,1197.9 717.0,1197.9 717.4,1197.9 717.9,1197.9 718.4,1158.0 718.9,1158.0 719.3,1158.0 719.8,1158.0 720.3,1197.9 720.8,1158.0 721.2,1158.0 721.7,1158.0 722.2,1197.9 722.7,1158.0 723.1,1197.9 723.6,1158.0 724.1,1184.6 724.6,1158.0 725.0,1158.0 725.5,1197.9 726.0,1158.0 726.5,1184.6" fill="none" stroke="#e41a1c" stroke-width="1.1" stroke-linejoin="round" marker-start="url(#m6)" marker-mid="url(#m6)" marker-end="url(#m6)"/>
<text x="84.9" y="1172.5" font-size="12" text-anchor="middle" fill="#000">Sleep stage</text>
<text x="84.9" y="1188.7" font-size="12" text-anchor="middle" fill="#000">(30 sec epoch)</text>
<text x="448.8" y="1258.5" font-size="12" text-anchor="middle" fill="#000">Time (min)</text>
</svg>
</body></html>
